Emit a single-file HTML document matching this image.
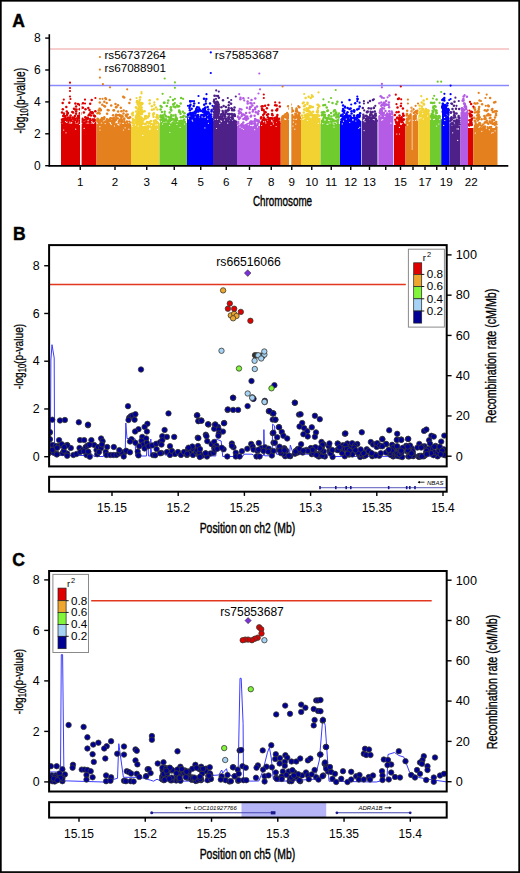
<!DOCTYPE html><html><head><meta charset="utf-8"><style>html,body{margin:0;padding:0;background:#fff;width:520px;height:873px;overflow:hidden}svg{display:block}text{font-family:"Liberation Sans",sans-serif;fill:#000}</style></head><body><svg width="520" height="873" viewBox="0 0 520 873">
<defs><clipPath id="clipB"><rect x="49.3" y="245" width="397.4" height="221.3"/></clipPath><clipPath id="clipC"><rect x="49.3" y="571" width="397.3" height="220.5"/></clipPath></defs>
<rect x="0.85" y="0.8" width="518.3" height="871.3" fill="none" stroke="#000" stroke-width="1.7"/>
<text x="12.30" y="26.50" font-size="17.5" text-anchor="start" font-weight="bold" stroke="#000" stroke-width="0.45">A</text>
<line x1="49.30" y1="49.00" x2="509.00" y2="49.00" stroke="#F4BDBD" stroke-width="1.4" />
<line x1="49.30" y1="85.50" x2="509.00" y2="85.50" stroke="#8A8AFF" stroke-width="1.4" />
<rect x="61" y="123.5" width="35.50" height="42.20" fill="#DD0000"/>
<rect x="96.5" y="124" width="34.50" height="41.70" fill="#E5801F"/>
<rect x="131" y="126" width="28.50" height="39.70" fill="#F2D232"/>
<rect x="159.5" y="123" width="27.50" height="42.70" fill="#6FCB2E"/>
<rect x="187" y="118" width="26.00" height="47.70" fill="#0000FF"/>
<rect x="213" y="121" width="24.00" height="44.70" fill="#4D2188"/>
<rect x="237" y="126" width="23.00" height="39.70" fill="#B45CE6"/>
<rect x="260" y="123" width="20.75" height="42.70" fill="#DD0000"/>
<rect x="280.75" y="120" width="20.25" height="45.70" fill="#E5801F"/>
<rect x="301" y="118" width="19.50" height="47.70" fill="#F2D232"/>
<rect x="320.5" y="124" width="19.50" height="41.70" fill="#6FCB2E"/>
<rect x="340" y="121" width="21.20" height="44.70" fill="#0000FF"/>
<rect x="361.8" y="121" width="15.70" height="44.70" fill="#4D2188"/>
<rect x="378.3" y="117" width="15.00" height="48.70" fill="#B45CE6"/>
<rect x="394" y="125" width="11.50" height="40.70" fill="#DD0000"/>
<rect x="405.5" y="121" width="12.75" height="44.70" fill="#E5801F"/>
<rect x="418.25" y="115" width="11.75" height="50.70" fill="#F2D232"/>
<rect x="430" y="120" width="11.25" height="45.70" fill="#6FCB2E"/>
<rect x="441.25" y="119" width="8.25" height="46.70" fill="#0000FF"/>
<rect x="449.5" y="126" width="11.00" height="39.70" fill="#4D2188"/>
<rect x="460.5" y="112" width="7.50" height="53.70" fill="#B45CE6"/>
<rect x="468" y="128" width="5.25" height="37.70" fill="#DD0000"/>
<rect x="473.25" y="128" width="24.25" height="37.70" fill="#E5801F"/>
<rect x="135.5" y="119" width="7.00" height="46.70" fill="#F2D232"/>
<rect x="213.5" y="109" width="5.50" height="56.70" fill="#4D2188"/>
<rect x="442.0" y="109" width="4.00" height="56.70" fill="#0000FF"/>
<circle cx="72.8" cy="122.4" r="1.25" fill="#DD0000"/>
<circle cx="83.8" cy="123.0" r="1.25" fill="#DD0000"/>
<circle cx="80.0" cy="120.4" r="1.25" fill="#DD0000"/>
<circle cx="63.9" cy="118.7" r="1.25" fill="#DD0000"/>
<circle cx="63.2" cy="119.6" r="1.25" fill="#DD0000"/>
<circle cx="64.3" cy="122.9" r="1.25" fill="#DD0000"/>
<circle cx="76.2" cy="111.5" r="1.25" fill="#DD0000"/>
<circle cx="66.1" cy="121.8" r="1.25" fill="#DD0000"/>
<circle cx="83.0" cy="103.3" r="1.25" fill="#DD0000"/>
<circle cx="81.3" cy="120.0" r="1.25" fill="#DD0000"/>
<circle cx="94.8" cy="123.2" r="1.25" fill="#DD0000"/>
<circle cx="90.8" cy="121.2" r="1.25" fill="#DD0000"/>
<circle cx="66.8" cy="122.6" r="1.25" fill="#DD0000"/>
<circle cx="72.3" cy="111.9" r="1.25" fill="#DD0000"/>
<circle cx="68.0" cy="117.5" r="1.25" fill="#DD0000"/>
<circle cx="83.4" cy="120.3" r="1.25" fill="#DD0000"/>
<circle cx="80.4" cy="123.1" r="1.25" fill="#DD0000"/>
<circle cx="63.9" cy="121.9" r="1.25" fill="#DD0000"/>
<circle cx="84.8" cy="119.7" r="1.25" fill="#DD0000"/>
<circle cx="72.5" cy="117.5" r="1.25" fill="#DD0000"/>
<circle cx="77.2" cy="121.1" r="1.25" fill="#DD0000"/>
<circle cx="88.7" cy="115.3" r="1.25" fill="#DD0000"/>
<circle cx="70.1" cy="117.7" r="1.25" fill="#DD0000"/>
<circle cx="79.6" cy="109.3" r="1.25" fill="#DD0000"/>
<circle cx="86.5" cy="121.2" r="1.25" fill="#DD0000"/>
<circle cx="94.9" cy="122.6" r="1.25" fill="#DD0000"/>
<circle cx="76.0" cy="113.8" r="1.25" fill="#DD0000"/>
<circle cx="67.0" cy="118.9" r="1.25" fill="#DD0000"/>
<circle cx="63.2" cy="116.0" r="1.25" fill="#DD0000"/>
<circle cx="87.7" cy="117.7" r="1.25" fill="#DD0000"/>
<circle cx="91.4" cy="120.9" r="1.25" fill="#DD0000"/>
<circle cx="85.3" cy="117.3" r="1.25" fill="#DD0000"/>
<circle cx="81.4" cy="119.3" r="1.25" fill="#DD0000"/>
<circle cx="90.2" cy="103.7" r="1.25" fill="#DD0000"/>
<circle cx="77.9" cy="116.0" r="1.25" fill="#DD0000"/>
<circle cx="63.9" cy="115.2" r="1.25" fill="#DD0000"/>
<circle cx="89.6" cy="121.2" r="1.25" fill="#DD0000"/>
<circle cx="74.9" cy="116.0" r="1.25" fill="#DD0000"/>
<circle cx="62.7" cy="119.3" r="1.25" fill="#DD0000"/>
<circle cx="67.6" cy="122.6" r="1.25" fill="#DD0000"/>
<circle cx="63.9" cy="113.5" r="1.25" fill="#DD0000"/>
<circle cx="66.3" cy="121.6" r="1.25" fill="#DD0000"/>
<circle cx="75.1" cy="109.5" r="1.25" fill="#DD0000"/>
<circle cx="64.6" cy="119.4" r="1.25" fill="#DD0000"/>
<circle cx="80.4" cy="108.8" r="1.25" fill="#DD0000"/>
<circle cx="89.5" cy="109.9" r="1.25" fill="#DD0000"/>
<circle cx="71.3" cy="119.8" r="1.25" fill="#DD0000"/>
<circle cx="74.0" cy="108.8" r="1.25" fill="#DD0000"/>
<circle cx="94.2" cy="122.4" r="1.25" fill="#DD0000"/>
<circle cx="67.8" cy="121.7" r="1.25" fill="#DD0000"/>
<circle cx="69.8" cy="119.0" r="1.25" fill="#DD0000"/>
<circle cx="81.8" cy="121.4" r="1.25" fill="#DD0000"/>
<circle cx="62.0" cy="119.8" r="1.25" fill="#DD0000"/>
<circle cx="74.3" cy="117.8" r="1.25" fill="#DD0000"/>
<circle cx="94.0" cy="115.5" r="1.25" fill="#DD0000"/>
<circle cx="79.3" cy="116.9" r="1.25" fill="#DD0000"/>
<circle cx="84.7" cy="123.1" r="1.25" fill="#DD0000"/>
<circle cx="92.2" cy="113.2" r="1.25" fill="#DD0000"/>
<circle cx="91.4" cy="112.6" r="1.25" fill="#DD0000"/>
<circle cx="75.1" cy="120.0" r="1.25" fill="#DD0000"/>
<circle cx="65.4" cy="116.6" r="1.25" fill="#DD0000"/>
<circle cx="64.0" cy="123.0" r="1.25" fill="#DD0000"/>
<circle cx="68.9" cy="122.3" r="1.25" fill="#DD0000"/>
<circle cx="73.4" cy="123.1" r="1.25" fill="#DD0000"/>
<circle cx="61.9" cy="122.4" r="1.25" fill="#DD0000"/>
<circle cx="65.3" cy="120.4" r="1.25" fill="#DD0000"/>
<circle cx="62.8" cy="109.3" r="1.25" fill="#DD0000"/>
<circle cx="82.6" cy="122.4" r="1.25" fill="#DD0000"/>
<circle cx="70.4" cy="120.6" r="1.25" fill="#DD0000"/>
<circle cx="74.2" cy="122.6" r="1.25" fill="#DD0000"/>
<circle cx="77.6" cy="119.0" r="1.25" fill="#DD0000"/>
<circle cx="64.8" cy="122.8" r="1.25" fill="#DD0000"/>
<circle cx="73.4" cy="121.4" r="1.25" fill="#DD0000"/>
<circle cx="89.8" cy="122.3" r="1.25" fill="#DD0000"/>
<circle cx="62.7" cy="102.9" r="1.25" fill="#DD0000"/>
<circle cx="79.7" cy="122.4" r="1.25" fill="#DD0000"/>
<circle cx="80.2" cy="123.3" r="1.25" fill="#DD0000"/>
<circle cx="91.0" cy="115.4" r="1.25" fill="#DD0000"/>
<circle cx="70.7" cy="120.4" r="1.25" fill="#DD0000"/>
<circle cx="67.5" cy="113.4" r="1.25" fill="#DD0000"/>
<circle cx="79.8" cy="113.2" r="1.25" fill="#DD0000"/>
<circle cx="73.0" cy="121.8" r="1.25" fill="#DD0000"/>
<circle cx="90.6" cy="112.3" r="1.25" fill="#DD0000"/>
<circle cx="89.5" cy="114.3" r="1.25" fill="#DD0000"/>
<circle cx="69.5" cy="118.5" r="1.25" fill="#DD0000"/>
<circle cx="73.9" cy="123.3" r="1.25" fill="#DD0000"/>
<circle cx="62.8" cy="121.3" r="1.25" fill="#DD0000"/>
<circle cx="70.6" cy="115.4" r="1.25" fill="#DD0000"/>
<circle cx="94.1" cy="119.4" r="1.25" fill="#DD0000"/>
<circle cx="94.1" cy="120.4" r="1.25" fill="#DD0000"/>
<circle cx="69.3" cy="121.7" r="1.25" fill="#DD0000"/>
<circle cx="68.5" cy="121.9" r="1.25" fill="#DD0000"/>
<circle cx="82.9" cy="107.7" r="1.25" fill="#DD0000"/>
<circle cx="90.2" cy="119.0" r="1.25" fill="#DD0000"/>
<circle cx="83.9" cy="112.5" r="1.25" fill="#DD0000"/>
<circle cx="64.8" cy="116.1" r="1.25" fill="#DD0000"/>
<circle cx="92.6" cy="113.1" r="1.25" fill="#DD0000"/>
<circle cx="87.2" cy="119.1" r="1.25" fill="#DD0000"/>
<circle cx="67.9" cy="112.9" r="1.25" fill="#DD0000"/>
<circle cx="73.1" cy="112.5" r="1.25" fill="#DD0000"/>
<circle cx="94.6" cy="120.1" r="1.25" fill="#DD0000"/>
<circle cx="75.4" cy="103.5" r="1.25" fill="#DD0000"/>
<circle cx="86.3" cy="122.2" r="1.25" fill="#DD0000"/>
<circle cx="66.2" cy="122.4" r="1.25" fill="#DD0000"/>
<circle cx="92.4" cy="112.3" r="1.25" fill="#DD0000"/>
<circle cx="66.8" cy="111.5" r="1.25" fill="#DD0000"/>
<circle cx="94.9" cy="116.2" r="1.25" fill="#DD0000"/>
<circle cx="73.7" cy="118.1" r="1.25" fill="#DD0000"/>
<circle cx="66.3" cy="123.4" r="1.25" fill="#DD0000"/>
<circle cx="94.6" cy="116.3" r="1.25" fill="#DD0000"/>
<circle cx="79.6" cy="105.0" r="1.25" fill="#DD0000"/>
<circle cx="76.5" cy="109.5" r="1.25" fill="#DD0000"/>
<circle cx="89.7" cy="121.9" r="1.25" fill="#DD0000"/>
<circle cx="70.4" cy="121.1" r="1.25" fill="#DD0000"/>
<circle cx="70.0" cy="117.5" r="1.25" fill="#DD0000"/>
<circle cx="70.6" cy="119.8" r="1.25" fill="#DD0000"/>
<circle cx="66.3" cy="107.0" r="1.25" fill="#DD0000"/>
<circle cx="73.8" cy="119.3" r="1.25" fill="#DD0000"/>
<circle cx="81.6" cy="107.5" r="1.25" fill="#DD0000"/>
<circle cx="76.1" cy="106.4" r="1.25" fill="#DD0000"/>
<circle cx="78.8" cy="118.3" r="1.25" fill="#DD0000"/>
<circle cx="79.5" cy="123.4" r="1.25" fill="#DD0000"/>
<circle cx="76.7" cy="122.1" r="1.25" fill="#DD0000"/>
<circle cx="62.0" cy="112.5" r="1.25" fill="#DD0000"/>
<circle cx="67.7" cy="119.1" r="1.25" fill="#DD0000"/>
<circle cx="86.3" cy="117.9" r="1.25" fill="#DD0000"/>
<circle cx="72.9" cy="118.5" r="1.25" fill="#DD0000"/>
<circle cx="80.6" cy="113.0" r="1.25" fill="#DD0000"/>
<circle cx="65.5" cy="117.9" r="1.25" fill="#DD0000"/>
<circle cx="70.3" cy="121.3" r="1.25" fill="#DD0000"/>
<circle cx="87.9" cy="118.7" r="1.25" fill="#DD0000"/>
<circle cx="80.8" cy="113.7" r="1.25" fill="#DD0000"/>
<circle cx="92.7" cy="119.5" r="1.25" fill="#DD0000"/>
<circle cx="82.5" cy="118.7" r="1.25" fill="#DD0000"/>
<circle cx="79.2" cy="115.4" r="1.25" fill="#DD0000"/>
<circle cx="77.1" cy="118.3" r="1.25" fill="#DD0000"/>
<circle cx="78.0" cy="104.1" r="1.25" fill="#DD0000"/>
<circle cx="85.5" cy="109.2" r="1.25" fill="#DD0000"/>
<circle cx="93.7" cy="121.4" r="1.25" fill="#DD0000"/>
<circle cx="80.8" cy="103.9" r="1.25" fill="#DD0000"/>
<circle cx="90.2" cy="122.5" r="1.25" fill="#DD0000"/>
<circle cx="66.0" cy="119.5" r="1.25" fill="#DD0000"/>
<circle cx="64.3" cy="121.6" r="1.25" fill="#DD0000"/>
<circle cx="64.4" cy="115.9" r="1.25" fill="#DD0000"/>
<circle cx="88.3" cy="108.0" r="1.25" fill="#DD0000"/>
<circle cx="67.1" cy="114.9" r="1.25" fill="#DD0000"/>
<circle cx="84.2" cy="122.4" r="1.25" fill="#DD0000"/>
<circle cx="91.7" cy="100.1" r="1.25" fill="#DD0000"/>
<circle cx="69.3" cy="102.7" r="1.25" fill="#DD0000"/>
<circle cx="75.3" cy="118.9" r="1.25" fill="#DD0000"/>
<circle cx="95.3" cy="111.3" r="1.25" fill="#DD0000"/>
<circle cx="67.3" cy="119.6" r="1.25" fill="#DD0000"/>
<circle cx="79.3" cy="120.7" r="1.25" fill="#DD0000"/>
<circle cx="68.5" cy="120.9" r="1.25" fill="#DD0000"/>
<circle cx="121.0" cy="123.8" r="1.25" fill="#E5801F"/>
<circle cx="115.5" cy="119.5" r="1.25" fill="#E5801F"/>
<circle cx="98.0" cy="120.9" r="1.25" fill="#E5801F"/>
<circle cx="117.8" cy="118.5" r="1.25" fill="#E5801F"/>
<circle cx="123.2" cy="96.7" r="1.25" fill="#E5801F"/>
<circle cx="100.8" cy="121.6" r="1.25" fill="#E5801F"/>
<circle cx="98.7" cy="112.4" r="1.25" fill="#E5801F"/>
<circle cx="106.2" cy="122.9" r="1.25" fill="#E5801F"/>
<circle cx="111.2" cy="105.4" r="1.25" fill="#E5801F"/>
<circle cx="124.2" cy="121.7" r="1.25" fill="#E5801F"/>
<circle cx="102.3" cy="104.7" r="1.25" fill="#E5801F"/>
<circle cx="116.1" cy="114.8" r="1.25" fill="#E5801F"/>
<circle cx="100.3" cy="123.5" r="1.25" fill="#E5801F"/>
<circle cx="119.9" cy="119.8" r="1.25" fill="#E5801F"/>
<circle cx="99.8" cy="102.6" r="1.25" fill="#E5801F"/>
<circle cx="118.1" cy="111.6" r="1.25" fill="#E5801F"/>
<circle cx="100.1" cy="109.1" r="1.25" fill="#E5801F"/>
<circle cx="99.6" cy="108.8" r="1.25" fill="#E5801F"/>
<circle cx="112.2" cy="120.8" r="1.25" fill="#E5801F"/>
<circle cx="115.5" cy="104.0" r="1.25" fill="#E5801F"/>
<circle cx="106.2" cy="122.9" r="1.25" fill="#E5801F"/>
<circle cx="114.6" cy="121.9" r="1.25" fill="#E5801F"/>
<circle cx="101.0" cy="122.7" r="1.25" fill="#E5801F"/>
<circle cx="99.0" cy="122.3" r="1.25" fill="#E5801F"/>
<circle cx="107.6" cy="121.2" r="1.25" fill="#E5801F"/>
<circle cx="122.2" cy="121.4" r="1.25" fill="#E5801F"/>
<circle cx="113.8" cy="122.5" r="1.25" fill="#E5801F"/>
<circle cx="108.7" cy="123.9" r="1.25" fill="#E5801F"/>
<circle cx="105.6" cy="123.9" r="1.25" fill="#E5801F"/>
<circle cx="121.4" cy="117.9" r="1.25" fill="#E5801F"/>
<circle cx="103.6" cy="119.1" r="1.25" fill="#E5801F"/>
<circle cx="128.0" cy="123.1" r="1.25" fill="#E5801F"/>
<circle cx="124.2" cy="119.7" r="1.25" fill="#E5801F"/>
<circle cx="113.6" cy="110.2" r="1.25" fill="#E5801F"/>
<circle cx="110.3" cy="118.6" r="1.25" fill="#E5801F"/>
<circle cx="108.6" cy="110.3" r="1.25" fill="#E5801F"/>
<circle cx="120.5" cy="116.3" r="1.25" fill="#E5801F"/>
<circle cx="110.6" cy="120.7" r="1.25" fill="#E5801F"/>
<circle cx="99.2" cy="122.9" r="1.25" fill="#E5801F"/>
<circle cx="99.7" cy="113.6" r="1.25" fill="#E5801F"/>
<circle cx="105.8" cy="122.6" r="1.25" fill="#E5801F"/>
<circle cx="100.2" cy="109.9" r="1.25" fill="#E5801F"/>
<circle cx="125.9" cy="115.5" r="1.25" fill="#E5801F"/>
<circle cx="106.6" cy="121.9" r="1.25" fill="#E5801F"/>
<circle cx="107.0" cy="119.3" r="1.25" fill="#E5801F"/>
<circle cx="102.6" cy="119.5" r="1.25" fill="#E5801F"/>
<circle cx="106.0" cy="99.0" r="1.25" fill="#E5801F"/>
<circle cx="129.2" cy="117.9" r="1.25" fill="#E5801F"/>
<circle cx="105.4" cy="98.2" r="1.25" fill="#E5801F"/>
<circle cx="107.5" cy="120.6" r="1.25" fill="#E5801F"/>
<circle cx="97.4" cy="120.3" r="1.25" fill="#E5801F"/>
<circle cx="112.9" cy="118.6" r="1.25" fill="#E5801F"/>
<circle cx="104.0" cy="118.6" r="1.25" fill="#E5801F"/>
<circle cx="97.6" cy="121.6" r="1.25" fill="#E5801F"/>
<circle cx="100.3" cy="120.1" r="1.25" fill="#E5801F"/>
<circle cx="98.8" cy="123.8" r="1.25" fill="#E5801F"/>
<circle cx="107.3" cy="122.0" r="1.25" fill="#E5801F"/>
<circle cx="116.5" cy="118.2" r="1.25" fill="#E5801F"/>
<circle cx="121.9" cy="115.8" r="1.25" fill="#E5801F"/>
<circle cx="120.8" cy="107.8" r="1.25" fill="#E5801F"/>
<circle cx="110.1" cy="121.0" r="1.25" fill="#E5801F"/>
<circle cx="129.6" cy="122.8" r="1.25" fill="#E5801F"/>
<circle cx="121.1" cy="116.1" r="1.25" fill="#E5801F"/>
<circle cx="98.8" cy="110.2" r="1.25" fill="#E5801F"/>
<circle cx="126.6" cy="116.4" r="1.25" fill="#E5801F"/>
<circle cx="121.4" cy="111.2" r="1.25" fill="#E5801F"/>
<circle cx="102.0" cy="118.3" r="1.25" fill="#E5801F"/>
<circle cx="113.9" cy="110.2" r="1.25" fill="#E5801F"/>
<circle cx="123.7" cy="110.6" r="1.25" fill="#E5801F"/>
<circle cx="116.5" cy="106.9" r="1.25" fill="#E5801F"/>
<circle cx="119.7" cy="114.9" r="1.25" fill="#E5801F"/>
<circle cx="104.9" cy="123.8" r="1.25" fill="#E5801F"/>
<circle cx="101.8" cy="120.6" r="1.25" fill="#E5801F"/>
<circle cx="100.8" cy="110.1" r="1.25" fill="#E5801F"/>
<circle cx="115.7" cy="116.4" r="1.25" fill="#E5801F"/>
<circle cx="117.9" cy="115.2" r="1.25" fill="#E5801F"/>
<circle cx="113.4" cy="124.0" r="1.25" fill="#E5801F"/>
<circle cx="123.5" cy="113.4" r="1.25" fill="#E5801F"/>
<circle cx="113.8" cy="118.1" r="1.25" fill="#E5801F"/>
<circle cx="119.0" cy="123.5" r="1.25" fill="#E5801F"/>
<circle cx="121.5" cy="121.8" r="1.25" fill="#E5801F"/>
<circle cx="99.8" cy="121.6" r="1.25" fill="#E5801F"/>
<circle cx="121.2" cy="122.2" r="1.25" fill="#E5801F"/>
<circle cx="113.6" cy="120.3" r="1.25" fill="#E5801F"/>
<circle cx="113.1" cy="115.2" r="1.25" fill="#E5801F"/>
<circle cx="122.5" cy="116.6" r="1.25" fill="#E5801F"/>
<circle cx="118.4" cy="123.4" r="1.25" fill="#E5801F"/>
<circle cx="102.2" cy="121.8" r="1.25" fill="#E5801F"/>
<circle cx="121.7" cy="121.2" r="1.25" fill="#E5801F"/>
<circle cx="116.0" cy="123.9" r="1.25" fill="#E5801F"/>
<circle cx="99.4" cy="121.6" r="1.25" fill="#E5801F"/>
<circle cx="119.4" cy="115.0" r="1.25" fill="#E5801F"/>
<circle cx="119.5" cy="121.4" r="1.25" fill="#E5801F"/>
<circle cx="114.3" cy="119.2" r="1.25" fill="#E5801F"/>
<circle cx="112.6" cy="123.0" r="1.25" fill="#E5801F"/>
<circle cx="126.6" cy="122.3" r="1.25" fill="#E5801F"/>
<circle cx="129.4" cy="102.9" r="1.25" fill="#E5801F"/>
<circle cx="98.0" cy="119.3" r="1.25" fill="#E5801F"/>
<circle cx="124.2" cy="97.6" r="1.25" fill="#E5801F"/>
<circle cx="112.1" cy="121.6" r="1.25" fill="#E5801F"/>
<circle cx="104.3" cy="101.7" r="1.25" fill="#E5801F"/>
<circle cx="104.3" cy="117.3" r="1.25" fill="#E5801F"/>
<circle cx="102.0" cy="118.3" r="1.25" fill="#E5801F"/>
<circle cx="128.6" cy="122.9" r="1.25" fill="#E5801F"/>
<circle cx="124.2" cy="118.6" r="1.25" fill="#E5801F"/>
<circle cx="126.4" cy="114.7" r="1.25" fill="#E5801F"/>
<circle cx="105.0" cy="106.5" r="1.25" fill="#E5801F"/>
<circle cx="113.3" cy="123.8" r="1.25" fill="#E5801F"/>
<circle cx="97.5" cy="118.8" r="1.25" fill="#E5801F"/>
<circle cx="112.1" cy="121.2" r="1.25" fill="#E5801F"/>
<circle cx="102.0" cy="120.8" r="1.25" fill="#E5801F"/>
<circle cx="107.7" cy="109.9" r="1.25" fill="#E5801F"/>
<circle cx="97.5" cy="113.3" r="1.25" fill="#E5801F"/>
<circle cx="124.8" cy="123.0" r="1.25" fill="#E5801F"/>
<circle cx="127.7" cy="114.4" r="1.25" fill="#E5801F"/>
<circle cx="126.9" cy="121.4" r="1.25" fill="#E5801F"/>
<circle cx="109.6" cy="120.2" r="1.25" fill="#E5801F"/>
<circle cx="130.1" cy="117.2" r="1.25" fill="#E5801F"/>
<circle cx="109.2" cy="119.7" r="1.25" fill="#E5801F"/>
<circle cx="106.4" cy="123.6" r="1.25" fill="#E5801F"/>
<circle cx="100.7" cy="110.2" r="1.25" fill="#E5801F"/>
<circle cx="106.7" cy="103.0" r="1.25" fill="#E5801F"/>
<circle cx="105.6" cy="121.6" r="1.25" fill="#E5801F"/>
<circle cx="114.1" cy="122.4" r="1.25" fill="#E5801F"/>
<circle cx="109.6" cy="100.0" r="1.25" fill="#E5801F"/>
<circle cx="126.3" cy="111.2" r="1.25" fill="#E5801F"/>
<circle cx="118.0" cy="105.2" r="1.25" fill="#E5801F"/>
<circle cx="128.2" cy="117.9" r="1.25" fill="#E5801F"/>
<circle cx="120.9" cy="123.6" r="1.25" fill="#E5801F"/>
<circle cx="121.3" cy="119.4" r="1.25" fill="#E5801F"/>
<circle cx="122.0" cy="116.1" r="1.25" fill="#E5801F"/>
<circle cx="106.8" cy="123.6" r="1.25" fill="#E5801F"/>
<circle cx="127.7" cy="123.0" r="1.25" fill="#E5801F"/>
<circle cx="112.8" cy="120.8" r="1.25" fill="#E5801F"/>
<circle cx="107.1" cy="113.7" r="1.25" fill="#E5801F"/>
<circle cx="129.3" cy="121.7" r="1.25" fill="#E5801F"/>
<circle cx="118.9" cy="121.3" r="1.25" fill="#E5801F"/>
<circle cx="115.6" cy="120.2" r="1.25" fill="#E5801F"/>
<circle cx="102.9" cy="122.6" r="1.25" fill="#E5801F"/>
<circle cx="104.2" cy="105.9" r="1.25" fill="#E5801F"/>
<circle cx="113.7" cy="122.1" r="1.25" fill="#E5801F"/>
<circle cx="112.1" cy="122.8" r="1.25" fill="#E5801F"/>
<circle cx="103.7" cy="123.3" r="1.25" fill="#E5801F"/>
<circle cx="108.6" cy="123.3" r="1.25" fill="#E5801F"/>
<circle cx="105.2" cy="121.7" r="1.25" fill="#E5801F"/>
<circle cx="116.0" cy="107.3" r="1.25" fill="#E5801F"/>
<circle cx="121.9" cy="119.9" r="1.25" fill="#E5801F"/>
<circle cx="110.9" cy="118.3" r="1.25" fill="#E5801F"/>
<circle cx="109.7" cy="120.8" r="1.25" fill="#E5801F"/>
<circle cx="99.4" cy="121.5" r="1.25" fill="#E5801F"/>
<circle cx="129.0" cy="123.0" r="1.25" fill="#E5801F"/>
<circle cx="145.3" cy="117.4" r="1.25" fill="#F2D232"/>
<circle cx="154.9" cy="123.9" r="1.25" fill="#F2D232"/>
<circle cx="139.1" cy="123.5" r="1.25" fill="#F2D232"/>
<circle cx="142.6" cy="120.9" r="1.25" fill="#F2D232"/>
<circle cx="157.4" cy="109.6" r="1.25" fill="#F2D232"/>
<circle cx="155.2" cy="125.8" r="1.25" fill="#F2D232"/>
<circle cx="132.8" cy="115.3" r="1.25" fill="#F2D232"/>
<circle cx="155.8" cy="120.4" r="1.25" fill="#F2D232"/>
<circle cx="147.6" cy="126.0" r="1.25" fill="#F2D232"/>
<circle cx="142.4" cy="103.3" r="1.25" fill="#F2D232"/>
<circle cx="153.9" cy="109.2" r="1.25" fill="#F2D232"/>
<circle cx="157.9" cy="123.5" r="1.25" fill="#F2D232"/>
<circle cx="134.8" cy="124.5" r="1.25" fill="#F2D232"/>
<circle cx="145.8" cy="116.1" r="1.25" fill="#F2D232"/>
<circle cx="157.0" cy="114.9" r="1.25" fill="#F2D232"/>
<circle cx="149.2" cy="113.5" r="1.25" fill="#F2D232"/>
<circle cx="144.1" cy="119.1" r="1.25" fill="#F2D232"/>
<circle cx="133.0" cy="112.8" r="1.25" fill="#F2D232"/>
<circle cx="138.1" cy="104.1" r="1.25" fill="#F2D232"/>
<circle cx="149.1" cy="122.9" r="1.25" fill="#F2D232"/>
<circle cx="135.3" cy="123.5" r="1.25" fill="#F2D232"/>
<circle cx="148.9" cy="115.6" r="1.25" fill="#F2D232"/>
<circle cx="134.9" cy="125.4" r="1.25" fill="#F2D232"/>
<circle cx="145.9" cy="118.4" r="1.25" fill="#F2D232"/>
<circle cx="142.3" cy="123.8" r="1.25" fill="#F2D232"/>
<circle cx="147.9" cy="125.9" r="1.25" fill="#F2D232"/>
<circle cx="140.0" cy="120.6" r="1.25" fill="#F2D232"/>
<circle cx="157.5" cy="117.0" r="1.25" fill="#F2D232"/>
<circle cx="155.5" cy="120.4" r="1.25" fill="#F2D232"/>
<circle cx="138.2" cy="123.5" r="1.25" fill="#F2D232"/>
<circle cx="157.5" cy="115.4" r="1.25" fill="#F2D232"/>
<circle cx="140.1" cy="125.8" r="1.25" fill="#F2D232"/>
<circle cx="145.2" cy="116.3" r="1.25" fill="#F2D232"/>
<circle cx="143.1" cy="123.4" r="1.25" fill="#F2D232"/>
<circle cx="149.7" cy="103.5" r="1.25" fill="#F2D232"/>
<circle cx="138.0" cy="125.7" r="1.25" fill="#F2D232"/>
<circle cx="140.9" cy="121.3" r="1.25" fill="#F2D232"/>
<circle cx="150.1" cy="124.1" r="1.25" fill="#F2D232"/>
<circle cx="153.2" cy="114.4" r="1.25" fill="#F2D232"/>
<circle cx="145.4" cy="124.0" r="1.25" fill="#F2D232"/>
<circle cx="157.8" cy="122.8" r="1.25" fill="#F2D232"/>
<circle cx="153.8" cy="123.7" r="1.25" fill="#F2D232"/>
<circle cx="137.8" cy="113.6" r="1.25" fill="#F2D232"/>
<circle cx="139.8" cy="99.7" r="1.25" fill="#F2D232"/>
<circle cx="145.1" cy="124.2" r="1.25" fill="#F2D232"/>
<circle cx="137.9" cy="121.3" r="1.25" fill="#F2D232"/>
<circle cx="149.7" cy="100.2" r="1.25" fill="#F2D232"/>
<circle cx="135.8" cy="121.7" r="1.25" fill="#F2D232"/>
<circle cx="135.7" cy="125.5" r="1.25" fill="#F2D232"/>
<circle cx="133.5" cy="121.7" r="1.25" fill="#F2D232"/>
<circle cx="155.9" cy="107.4" r="1.25" fill="#F2D232"/>
<circle cx="156.8" cy="122.5" r="1.25" fill="#F2D232"/>
<circle cx="136.9" cy="102.2" r="1.25" fill="#F2D232"/>
<circle cx="151.8" cy="125.7" r="1.25" fill="#F2D232"/>
<circle cx="149.6" cy="121.9" r="1.25" fill="#F2D232"/>
<circle cx="141.9" cy="122.5" r="1.25" fill="#F2D232"/>
<circle cx="136.4" cy="126.0" r="1.25" fill="#F2D232"/>
<circle cx="139.4" cy="122.2" r="1.25" fill="#F2D232"/>
<circle cx="157.4" cy="124.9" r="1.25" fill="#F2D232"/>
<circle cx="157.6" cy="124.0" r="1.25" fill="#F2D232"/>
<circle cx="141.4" cy="111.1" r="1.25" fill="#F2D232"/>
<circle cx="153.8" cy="121.1" r="1.25" fill="#F2D232"/>
<circle cx="133.2" cy="120.4" r="1.25" fill="#F2D232"/>
<circle cx="141.9" cy="104.2" r="1.25" fill="#F2D232"/>
<circle cx="137.1" cy="122.1" r="1.25" fill="#F2D232"/>
<circle cx="155.8" cy="125.7" r="1.25" fill="#F2D232"/>
<circle cx="142.9" cy="111.5" r="1.25" fill="#F2D232"/>
<circle cx="152.4" cy="125.6" r="1.25" fill="#F2D232"/>
<circle cx="132.8" cy="125.4" r="1.25" fill="#F2D232"/>
<circle cx="156.5" cy="123.4" r="1.25" fill="#F2D232"/>
<circle cx="151.9" cy="106.2" r="1.25" fill="#F2D232"/>
<circle cx="141.0" cy="123.2" r="1.25" fill="#F2D232"/>
<circle cx="157.5" cy="117.7" r="1.25" fill="#F2D232"/>
<circle cx="138.9" cy="115.1" r="1.25" fill="#F2D232"/>
<circle cx="140.4" cy="123.2" r="1.25" fill="#F2D232"/>
<circle cx="132.0" cy="113.8" r="1.25" fill="#F2D232"/>
<circle cx="156.4" cy="117.3" r="1.25" fill="#F2D232"/>
<circle cx="157.1" cy="125.8" r="1.25" fill="#F2D232"/>
<circle cx="138.1" cy="120.4" r="1.25" fill="#F2D232"/>
<circle cx="157.4" cy="99.3" r="1.25" fill="#F2D232"/>
<circle cx="142.2" cy="123.5" r="1.25" fill="#F2D232"/>
<circle cx="143.4" cy="120.1" r="1.25" fill="#F2D232"/>
<circle cx="156.7" cy="124.2" r="1.25" fill="#F2D232"/>
<circle cx="153.3" cy="114.4" r="1.25" fill="#F2D232"/>
<circle cx="153.9" cy="113.2" r="1.25" fill="#F2D232"/>
<circle cx="148.1" cy="122.6" r="1.25" fill="#F2D232"/>
<circle cx="140.4" cy="122.1" r="1.25" fill="#F2D232"/>
<circle cx="152.8" cy="125.3" r="1.25" fill="#F2D232"/>
<circle cx="137.2" cy="113.9" r="1.25" fill="#F2D232"/>
<circle cx="138.5" cy="125.4" r="1.25" fill="#F2D232"/>
<circle cx="132.8" cy="119.0" r="1.25" fill="#F2D232"/>
<circle cx="139.0" cy="125.2" r="1.25" fill="#F2D232"/>
<circle cx="134.5" cy="120.0" r="1.25" fill="#F2D232"/>
<circle cx="150.9" cy="120.9" r="1.25" fill="#F2D232"/>
<circle cx="138.2" cy="121.3" r="1.25" fill="#F2D232"/>
<circle cx="148.5" cy="116.3" r="1.25" fill="#F2D232"/>
<circle cx="151.9" cy="109.7" r="1.25" fill="#F2D232"/>
<circle cx="149.6" cy="124.9" r="1.25" fill="#F2D232"/>
<circle cx="154.4" cy="123.0" r="1.25" fill="#F2D232"/>
<circle cx="147.0" cy="122.0" r="1.25" fill="#F2D232"/>
<circle cx="151.6" cy="124.1" r="1.25" fill="#F2D232"/>
<circle cx="138.5" cy="123.6" r="1.25" fill="#F2D232"/>
<circle cx="136.0" cy="107.3" r="1.25" fill="#F2D232"/>
<circle cx="147.3" cy="122.6" r="1.25" fill="#F2D232"/>
<circle cx="145.4" cy="123.7" r="1.25" fill="#F2D232"/>
<circle cx="153.5" cy="116.8" r="1.25" fill="#F2D232"/>
<circle cx="158.4" cy="125.1" r="1.25" fill="#F2D232"/>
<circle cx="144.6" cy="111.2" r="1.25" fill="#F2D232"/>
<circle cx="154.3" cy="104.7" r="1.25" fill="#F2D232"/>
<circle cx="133.0" cy="123.0" r="1.25" fill="#F2D232"/>
<circle cx="135.1" cy="124.2" r="1.25" fill="#F2D232"/>
<circle cx="157.9" cy="118.4" r="1.25" fill="#F2D232"/>
<circle cx="156.7" cy="122.0" r="1.25" fill="#F2D232"/>
<circle cx="155.0" cy="120.8" r="1.25" fill="#F2D232"/>
<circle cx="138.8" cy="113.0" r="1.25" fill="#F2D232"/>
<circle cx="157.2" cy="125.0" r="1.25" fill="#F2D232"/>
<circle cx="147.8" cy="117.6" r="1.25" fill="#F2D232"/>
<circle cx="137.7" cy="122.0" r="1.25" fill="#F2D232"/>
<circle cx="135.7" cy="124.0" r="1.25" fill="#F2D232"/>
<circle cx="138.7" cy="118.1" r="1.25" fill="#F2D232"/>
<circle cx="149.3" cy="124.0" r="1.25" fill="#F2D232"/>
<circle cx="132.2" cy="122.6" r="1.25" fill="#F2D232"/>
<circle cx="150.0" cy="124.2" r="1.25" fill="#F2D232"/>
<circle cx="168.4" cy="121.3" r="1.25" fill="#6FCB2E"/>
<circle cx="180.8" cy="117.2" r="1.25" fill="#6FCB2E"/>
<circle cx="162.0" cy="122.2" r="1.25" fill="#6FCB2E"/>
<circle cx="170.6" cy="117.1" r="1.25" fill="#6FCB2E"/>
<circle cx="176.8" cy="122.3" r="1.25" fill="#6FCB2E"/>
<circle cx="164.6" cy="114.3" r="1.25" fill="#6FCB2E"/>
<circle cx="170.9" cy="120.6" r="1.25" fill="#6FCB2E"/>
<circle cx="168.3" cy="100.5" r="1.25" fill="#6FCB2E"/>
<circle cx="168.4" cy="116.9" r="1.25" fill="#6FCB2E"/>
<circle cx="169.6" cy="119.1" r="1.25" fill="#6FCB2E"/>
<circle cx="169.7" cy="121.4" r="1.25" fill="#6FCB2E"/>
<circle cx="179.1" cy="121.3" r="1.25" fill="#6FCB2E"/>
<circle cx="160.6" cy="106.0" r="1.25" fill="#6FCB2E"/>
<circle cx="171.3" cy="110.4" r="1.25" fill="#6FCB2E"/>
<circle cx="170.8" cy="107.3" r="1.25" fill="#6FCB2E"/>
<circle cx="172.2" cy="121.7" r="1.25" fill="#6FCB2E"/>
<circle cx="160.8" cy="117.1" r="1.25" fill="#6FCB2E"/>
<circle cx="176.9" cy="105.4" r="1.25" fill="#6FCB2E"/>
<circle cx="162.7" cy="115.9" r="1.25" fill="#6FCB2E"/>
<circle cx="169.9" cy="117.9" r="1.25" fill="#6FCB2E"/>
<circle cx="164.1" cy="120.6" r="1.25" fill="#6FCB2E"/>
<circle cx="173.8" cy="104.0" r="1.25" fill="#6FCB2E"/>
<circle cx="163.2" cy="118.1" r="1.25" fill="#6FCB2E"/>
<circle cx="181.1" cy="98.0" r="1.25" fill="#6FCB2E"/>
<circle cx="165.5" cy="122.0" r="1.25" fill="#6FCB2E"/>
<circle cx="172.8" cy="122.6" r="1.25" fill="#6FCB2E"/>
<circle cx="184.2" cy="119.4" r="1.25" fill="#6FCB2E"/>
<circle cx="183.6" cy="115.9" r="1.25" fill="#6FCB2E"/>
<circle cx="181.6" cy="121.7" r="1.25" fill="#6FCB2E"/>
<circle cx="180.6" cy="121.2" r="1.25" fill="#6FCB2E"/>
<circle cx="170.8" cy="109.3" r="1.25" fill="#6FCB2E"/>
<circle cx="181.7" cy="121.5" r="1.25" fill="#6FCB2E"/>
<circle cx="166.0" cy="119.3" r="1.25" fill="#6FCB2E"/>
<circle cx="173.7" cy="119.5" r="1.25" fill="#6FCB2E"/>
<circle cx="163.6" cy="120.9" r="1.25" fill="#6FCB2E"/>
<circle cx="179.0" cy="106.3" r="1.25" fill="#6FCB2E"/>
<circle cx="161.5" cy="116.9" r="1.25" fill="#6FCB2E"/>
<circle cx="179.9" cy="122.7" r="1.25" fill="#6FCB2E"/>
<circle cx="181.9" cy="122.1" r="1.25" fill="#6FCB2E"/>
<circle cx="175.8" cy="117.1" r="1.25" fill="#6FCB2E"/>
<circle cx="176.5" cy="120.3" r="1.25" fill="#6FCB2E"/>
<circle cx="171.2" cy="116.6" r="1.25" fill="#6FCB2E"/>
<circle cx="171.3" cy="115.1" r="1.25" fill="#6FCB2E"/>
<circle cx="171.9" cy="118.8" r="1.25" fill="#6FCB2E"/>
<circle cx="161.0" cy="115.9" r="1.25" fill="#6FCB2E"/>
<circle cx="173.0" cy="121.0" r="1.25" fill="#6FCB2E"/>
<circle cx="180.0" cy="111.9" r="1.25" fill="#6FCB2E"/>
<circle cx="172.2" cy="121.5" r="1.25" fill="#6FCB2E"/>
<circle cx="172.6" cy="122.2" r="1.25" fill="#6FCB2E"/>
<circle cx="163.7" cy="118.9" r="1.25" fill="#6FCB2E"/>
<circle cx="162.8" cy="118.7" r="1.25" fill="#6FCB2E"/>
<circle cx="173.5" cy="122.7" r="1.25" fill="#6FCB2E"/>
<circle cx="176.8" cy="122.4" r="1.25" fill="#6FCB2E"/>
<circle cx="179.3" cy="112.0" r="1.25" fill="#6FCB2E"/>
<circle cx="173.5" cy="122.6" r="1.25" fill="#6FCB2E"/>
<circle cx="173.4" cy="119.5" r="1.25" fill="#6FCB2E"/>
<circle cx="184.8" cy="121.9" r="1.25" fill="#6FCB2E"/>
<circle cx="179.2" cy="110.6" r="1.25" fill="#6FCB2E"/>
<circle cx="173.0" cy="100.0" r="1.25" fill="#6FCB2E"/>
<circle cx="183.9" cy="121.7" r="1.25" fill="#6FCB2E"/>
<circle cx="180.7" cy="103.4" r="1.25" fill="#6FCB2E"/>
<circle cx="162.1" cy="119.8" r="1.25" fill="#6FCB2E"/>
<circle cx="179.8" cy="121.7" r="1.25" fill="#6FCB2E"/>
<circle cx="183.4" cy="120.6" r="1.25" fill="#6FCB2E"/>
<circle cx="181.4" cy="121.9" r="1.25" fill="#6FCB2E"/>
<circle cx="173.3" cy="104.5" r="1.25" fill="#6FCB2E"/>
<circle cx="165.8" cy="120.8" r="1.25" fill="#6FCB2E"/>
<circle cx="173.4" cy="120.2" r="1.25" fill="#6FCB2E"/>
<circle cx="161.3" cy="121.5" r="1.25" fill="#6FCB2E"/>
<circle cx="164.5" cy="102.8" r="1.25" fill="#6FCB2E"/>
<circle cx="177.9" cy="106.4" r="1.25" fill="#6FCB2E"/>
<circle cx="164.7" cy="111.7" r="1.25" fill="#6FCB2E"/>
<circle cx="163.4" cy="117.5" r="1.25" fill="#6FCB2E"/>
<circle cx="176.8" cy="119.7" r="1.25" fill="#6FCB2E"/>
<circle cx="182.8" cy="117.1" r="1.25" fill="#6FCB2E"/>
<circle cx="175.3" cy="107.3" r="1.25" fill="#6FCB2E"/>
<circle cx="176.6" cy="119.3" r="1.25" fill="#6FCB2E"/>
<circle cx="180.9" cy="120.7" r="1.25" fill="#6FCB2E"/>
<circle cx="185.9" cy="116.7" r="1.25" fill="#6FCB2E"/>
<circle cx="169.7" cy="112.4" r="1.25" fill="#6FCB2E"/>
<circle cx="171.8" cy="121.6" r="1.25" fill="#6FCB2E"/>
<circle cx="179.5" cy="122.6" r="1.25" fill="#6FCB2E"/>
<circle cx="181.5" cy="120.9" r="1.25" fill="#6FCB2E"/>
<circle cx="175.5" cy="115.0" r="1.25" fill="#6FCB2E"/>
<circle cx="168.4" cy="123.0" r="1.25" fill="#6FCB2E"/>
<circle cx="161.3" cy="121.8" r="1.25" fill="#6FCB2E"/>
<circle cx="176.2" cy="118.8" r="1.25" fill="#6FCB2E"/>
<circle cx="173.6" cy="106.4" r="1.25" fill="#6FCB2E"/>
<circle cx="163.8" cy="121.1" r="1.25" fill="#6FCB2E"/>
<circle cx="177.2" cy="122.8" r="1.25" fill="#6FCB2E"/>
<circle cx="160.5" cy="119.8" r="1.25" fill="#6FCB2E"/>
<circle cx="163.1" cy="119.8" r="1.25" fill="#6FCB2E"/>
<circle cx="166.2" cy="116.6" r="1.25" fill="#6FCB2E"/>
<circle cx="175.5" cy="121.3" r="1.25" fill="#6FCB2E"/>
<circle cx="176.4" cy="118.3" r="1.25" fill="#6FCB2E"/>
<circle cx="163.9" cy="102.8" r="1.25" fill="#6FCB2E"/>
<circle cx="166.7" cy="121.8" r="1.25" fill="#6FCB2E"/>
<circle cx="162.9" cy="115.5" r="1.25" fill="#6FCB2E"/>
<circle cx="182.8" cy="111.8" r="1.25" fill="#6FCB2E"/>
<circle cx="170.7" cy="120.7" r="1.25" fill="#6FCB2E"/>
<circle cx="160.7" cy="115.4" r="1.25" fill="#6FCB2E"/>
<circle cx="174.9" cy="119.8" r="1.25" fill="#6FCB2E"/>
<circle cx="177.0" cy="118.7" r="1.25" fill="#6FCB2E"/>
<circle cx="184.5" cy="113.3" r="1.25" fill="#6FCB2E"/>
<circle cx="166.8" cy="105.9" r="1.25" fill="#6FCB2E"/>
<circle cx="161.5" cy="117.4" r="1.25" fill="#6FCB2E"/>
<circle cx="170.8" cy="121.0" r="1.25" fill="#6FCB2E"/>
<circle cx="161.9" cy="111.9" r="1.25" fill="#6FCB2E"/>
<circle cx="160.7" cy="117.1" r="1.25" fill="#6FCB2E"/>
<circle cx="184.6" cy="121.9" r="1.25" fill="#6FCB2E"/>
<circle cx="165.5" cy="116.1" r="1.25" fill="#6FCB2E"/>
<circle cx="173.4" cy="115.5" r="1.25" fill="#6FCB2E"/>
<circle cx="181.3" cy="121.6" r="1.25" fill="#6FCB2E"/>
<circle cx="168.4" cy="120.4" r="1.25" fill="#6FCB2E"/>
<circle cx="161.6" cy="106.9" r="1.25" fill="#6FCB2E"/>
<circle cx="180.5" cy="113.8" r="1.25" fill="#6FCB2E"/>
<circle cx="160.6" cy="109.4" r="1.25" fill="#6FCB2E"/>
<circle cx="205.9" cy="114.9" r="1.25" fill="#0000FF"/>
<circle cx="205.9" cy="115.0" r="1.25" fill="#0000FF"/>
<circle cx="193.4" cy="117.4" r="1.25" fill="#0000FF"/>
<circle cx="193.5" cy="117.8" r="1.25" fill="#0000FF"/>
<circle cx="196.0" cy="111.1" r="1.25" fill="#0000FF"/>
<circle cx="204.7" cy="108.7" r="1.25" fill="#0000FF"/>
<circle cx="205.1" cy="116.5" r="1.25" fill="#0000FF"/>
<circle cx="201.3" cy="115.1" r="1.25" fill="#0000FF"/>
<circle cx="207.0" cy="114.3" r="1.25" fill="#0000FF"/>
<circle cx="194.3" cy="112.9" r="1.25" fill="#0000FF"/>
<circle cx="211.3" cy="116.8" r="1.25" fill="#0000FF"/>
<circle cx="209.2" cy="117.9" r="1.25" fill="#0000FF"/>
<circle cx="194.2" cy="116.7" r="1.25" fill="#0000FF"/>
<circle cx="205.9" cy="103.5" r="1.25" fill="#0000FF"/>
<circle cx="206.0" cy="116.0" r="1.25" fill="#0000FF"/>
<circle cx="209.2" cy="116.0" r="1.25" fill="#0000FF"/>
<circle cx="193.7" cy="106.1" r="1.25" fill="#0000FF"/>
<circle cx="203.2" cy="112.1" r="1.25" fill="#0000FF"/>
<circle cx="204.0" cy="98.7" r="1.25" fill="#0000FF"/>
<circle cx="199.3" cy="108.8" r="1.25" fill="#0000FF"/>
<circle cx="204.8" cy="108.3" r="1.25" fill="#0000FF"/>
<circle cx="198.5" cy="111.6" r="1.25" fill="#0000FF"/>
<circle cx="201.7" cy="116.2" r="1.25" fill="#0000FF"/>
<circle cx="193.0" cy="113.1" r="1.25" fill="#0000FF"/>
<circle cx="189.8" cy="105.9" r="1.25" fill="#0000FF"/>
<circle cx="191.4" cy="117.9" r="1.25" fill="#0000FF"/>
<circle cx="190.5" cy="104.8" r="1.25" fill="#0000FF"/>
<circle cx="196.2" cy="117.2" r="1.25" fill="#0000FF"/>
<circle cx="188.6" cy="117.8" r="1.25" fill="#0000FF"/>
<circle cx="204.7" cy="113.0" r="1.25" fill="#0000FF"/>
<circle cx="204.8" cy="111.3" r="1.25" fill="#0000FF"/>
<circle cx="189.5" cy="113.5" r="1.25" fill="#0000FF"/>
<circle cx="196.7" cy="109.5" r="1.25" fill="#0000FF"/>
<circle cx="207.7" cy="106.9" r="1.25" fill="#0000FF"/>
<circle cx="189.5" cy="107.9" r="1.25" fill="#0000FF"/>
<circle cx="210.0" cy="103.6" r="1.25" fill="#0000FF"/>
<circle cx="190.5" cy="116.8" r="1.25" fill="#0000FF"/>
<circle cx="190.6" cy="117.8" r="1.25" fill="#0000FF"/>
<circle cx="208.4" cy="109.6" r="1.25" fill="#0000FF"/>
<circle cx="203.2" cy="109.3" r="1.25" fill="#0000FF"/>
<circle cx="203.2" cy="116.3" r="1.25" fill="#0000FF"/>
<circle cx="190.3" cy="117.5" r="1.25" fill="#0000FF"/>
<circle cx="206.2" cy="116.9" r="1.25" fill="#0000FF"/>
<circle cx="195.6" cy="115.2" r="1.25" fill="#0000FF"/>
<circle cx="188.4" cy="116.5" r="1.25" fill="#0000FF"/>
<circle cx="194.7" cy="111.7" r="1.25" fill="#0000FF"/>
<circle cx="196.8" cy="116.1" r="1.25" fill="#0000FF"/>
<circle cx="211.2" cy="114.5" r="1.25" fill="#0000FF"/>
<circle cx="208.5" cy="113.2" r="1.25" fill="#0000FF"/>
<circle cx="188.6" cy="115.3" r="1.25" fill="#0000FF"/>
<circle cx="198.5" cy="110.6" r="1.25" fill="#0000FF"/>
<circle cx="196.3" cy="111.9" r="1.25" fill="#0000FF"/>
<circle cx="200.9" cy="116.8" r="1.25" fill="#0000FF"/>
<circle cx="208.8" cy="117.5" r="1.25" fill="#0000FF"/>
<circle cx="207.7" cy="117.1" r="1.25" fill="#0000FF"/>
<circle cx="187.9" cy="116.9" r="1.25" fill="#0000FF"/>
<circle cx="206.3" cy="98.9" r="1.25" fill="#0000FF"/>
<circle cx="188.0" cy="114.6" r="1.25" fill="#0000FF"/>
<circle cx="199.8" cy="110.0" r="1.25" fill="#0000FF"/>
<circle cx="192.4" cy="114.6" r="1.25" fill="#0000FF"/>
<circle cx="196.3" cy="109.1" r="1.25" fill="#0000FF"/>
<circle cx="194.2" cy="103.6" r="1.25" fill="#0000FF"/>
<circle cx="194.8" cy="116.8" r="1.25" fill="#0000FF"/>
<circle cx="204.8" cy="114.6" r="1.25" fill="#0000FF"/>
<circle cx="190.6" cy="112.9" r="1.25" fill="#0000FF"/>
<circle cx="189.9" cy="110.2" r="1.25" fill="#0000FF"/>
<circle cx="204.8" cy="110.3" r="1.25" fill="#0000FF"/>
<circle cx="203.1" cy="115.8" r="1.25" fill="#0000FF"/>
<circle cx="197.6" cy="115.5" r="1.25" fill="#0000FF"/>
<circle cx="209.4" cy="117.5" r="1.25" fill="#0000FF"/>
<circle cx="209.4" cy="117.9" r="1.25" fill="#0000FF"/>
<circle cx="192.9" cy="116.5" r="1.25" fill="#0000FF"/>
<circle cx="209.7" cy="114.5" r="1.25" fill="#0000FF"/>
<circle cx="197.1" cy="107.2" r="1.25" fill="#0000FF"/>
<circle cx="193.6" cy="114.9" r="1.25" fill="#0000FF"/>
<circle cx="200.8" cy="111.0" r="1.25" fill="#0000FF"/>
<circle cx="206.1" cy="112.8" r="1.25" fill="#0000FF"/>
<circle cx="196.3" cy="116.0" r="1.25" fill="#0000FF"/>
<circle cx="191.7" cy="108.7" r="1.25" fill="#0000FF"/>
<circle cx="203.9" cy="111.2" r="1.25" fill="#0000FF"/>
<circle cx="192.0" cy="115.1" r="1.25" fill="#0000FF"/>
<circle cx="206.6" cy="113.7" r="1.25" fill="#0000FF"/>
<circle cx="191.0" cy="114.9" r="1.25" fill="#0000FF"/>
<circle cx="209.3" cy="116.6" r="1.25" fill="#0000FF"/>
<circle cx="192.5" cy="116.2" r="1.25" fill="#0000FF"/>
<circle cx="204.9" cy="108.7" r="1.25" fill="#0000FF"/>
<circle cx="191.6" cy="117.2" r="1.25" fill="#0000FF"/>
<circle cx="193.9" cy="116.0" r="1.25" fill="#0000FF"/>
<circle cx="200.5" cy="117.1" r="1.25" fill="#0000FF"/>
<circle cx="195.8" cy="117.0" r="1.25" fill="#0000FF"/>
<circle cx="211.5" cy="111.5" r="1.25" fill="#0000FF"/>
<circle cx="190.4" cy="101.6" r="1.25" fill="#0000FF"/>
<circle cx="190.4" cy="115.6" r="1.25" fill="#0000FF"/>
<circle cx="211.7" cy="110.1" r="1.25" fill="#0000FF"/>
<circle cx="205.6" cy="115.1" r="1.25" fill="#0000FF"/>
<circle cx="192.6" cy="112.9" r="1.25" fill="#0000FF"/>
<circle cx="190.5" cy="116.8" r="1.25" fill="#0000FF"/>
<circle cx="197.3" cy="117.8" r="1.25" fill="#0000FF"/>
<circle cx="197.6" cy="110.2" r="1.25" fill="#0000FF"/>
<circle cx="204.7" cy="114.5" r="1.25" fill="#0000FF"/>
<circle cx="203.2" cy="114.9" r="1.25" fill="#0000FF"/>
<circle cx="191.3" cy="113.4" r="1.25" fill="#0000FF"/>
<circle cx="197.7" cy="111.2" r="1.25" fill="#0000FF"/>
<circle cx="209.9" cy="115.2" r="1.25" fill="#0000FF"/>
<circle cx="201.8" cy="111.1" r="1.25" fill="#0000FF"/>
<circle cx="198.1" cy="116.7" r="1.25" fill="#0000FF"/>
<circle cx="205.4" cy="107.4" r="1.25" fill="#0000FF"/>
<circle cx="206.6" cy="112.0" r="1.25" fill="#0000FF"/>
<circle cx="208.5" cy="112.3" r="1.25" fill="#0000FF"/>
<circle cx="203.4" cy="115.0" r="1.25" fill="#0000FF"/>
<circle cx="195.5" cy="113.1" r="1.25" fill="#0000FF"/>
<circle cx="190.3" cy="115.3" r="1.25" fill="#0000FF"/>
<circle cx="206.8" cy="111.8" r="1.25" fill="#0000FF"/>
<circle cx="203.1" cy="116.6" r="1.25" fill="#0000FF"/>
<circle cx="198.2" cy="115.0" r="1.25" fill="#0000FF"/>
<circle cx="202.9" cy="115.4" r="1.25" fill="#0000FF"/>
<circle cx="204.2" cy="104.7" r="1.25" fill="#0000FF"/>
<circle cx="218.0" cy="113.6" r="1.25" fill="#4D2188"/>
<circle cx="231.2" cy="117.6" r="1.25" fill="#4D2188"/>
<circle cx="214.7" cy="115.5" r="1.25" fill="#4D2188"/>
<circle cx="217.5" cy="110.3" r="1.25" fill="#4D2188"/>
<circle cx="234.8" cy="115.9" r="1.25" fill="#4D2188"/>
<circle cx="216.1" cy="115.0" r="1.25" fill="#4D2188"/>
<circle cx="225.9" cy="112.2" r="1.25" fill="#4D2188"/>
<circle cx="225.3" cy="113.9" r="1.25" fill="#4D2188"/>
<circle cx="232.3" cy="115.8" r="1.25" fill="#4D2188"/>
<circle cx="223.0" cy="100.3" r="1.25" fill="#4D2188"/>
<circle cx="218.6" cy="112.9" r="1.25" fill="#4D2188"/>
<circle cx="222.6" cy="110.9" r="1.25" fill="#4D2188"/>
<circle cx="221.8" cy="120.6" r="1.25" fill="#4D2188"/>
<circle cx="220.0" cy="117.4" r="1.25" fill="#4D2188"/>
<circle cx="214.2" cy="117.2" r="1.25" fill="#4D2188"/>
<circle cx="223.2" cy="112.6" r="1.25" fill="#4D2188"/>
<circle cx="221.7" cy="118.8" r="1.25" fill="#4D2188"/>
<circle cx="218.9" cy="111.5" r="1.25" fill="#4D2188"/>
<circle cx="234.8" cy="115.8" r="1.25" fill="#4D2188"/>
<circle cx="218.8" cy="109.7" r="1.25" fill="#4D2188"/>
<circle cx="222.6" cy="119.3" r="1.25" fill="#4D2188"/>
<circle cx="216.8" cy="110.5" r="1.25" fill="#4D2188"/>
<circle cx="231.9" cy="114.0" r="1.25" fill="#4D2188"/>
<circle cx="224.3" cy="115.2" r="1.25" fill="#4D2188"/>
<circle cx="218.9" cy="97.8" r="1.25" fill="#4D2188"/>
<circle cx="221.7" cy="113.9" r="1.25" fill="#4D2188"/>
<circle cx="232.1" cy="109.1" r="1.25" fill="#4D2188"/>
<circle cx="224.3" cy="118.6" r="1.25" fill="#4D2188"/>
<circle cx="226.1" cy="120.1" r="1.25" fill="#4D2188"/>
<circle cx="232.4" cy="117.9" r="1.25" fill="#4D2188"/>
<circle cx="232.8" cy="118.8" r="1.25" fill="#4D2188"/>
<circle cx="222.3" cy="119.0" r="1.25" fill="#4D2188"/>
<circle cx="223.4" cy="119.6" r="1.25" fill="#4D2188"/>
<circle cx="214.0" cy="112.0" r="1.25" fill="#4D2188"/>
<circle cx="220.1" cy="119.0" r="1.25" fill="#4D2188"/>
<circle cx="220.6" cy="116.4" r="1.25" fill="#4D2188"/>
<circle cx="223.4" cy="113.9" r="1.25" fill="#4D2188"/>
<circle cx="228.5" cy="117.8" r="1.25" fill="#4D2188"/>
<circle cx="234.5" cy="107.5" r="1.25" fill="#4D2188"/>
<circle cx="215.2" cy="108.7" r="1.25" fill="#4D2188"/>
<circle cx="234.0" cy="110.3" r="1.25" fill="#4D2188"/>
<circle cx="217.0" cy="108.5" r="1.25" fill="#4D2188"/>
<circle cx="228.0" cy="120.9" r="1.25" fill="#4D2188"/>
<circle cx="214.2" cy="99.8" r="1.25" fill="#4D2188"/>
<circle cx="228.5" cy="119.0" r="1.25" fill="#4D2188"/>
<circle cx="216.2" cy="119.9" r="1.25" fill="#4D2188"/>
<circle cx="219.1" cy="110.5" r="1.25" fill="#4D2188"/>
<circle cx="221.6" cy="119.8" r="1.25" fill="#4D2188"/>
<circle cx="234.0" cy="110.0" r="1.25" fill="#4D2188"/>
<circle cx="217.6" cy="105.5" r="1.25" fill="#4D2188"/>
<circle cx="227.4" cy="110.4" r="1.25" fill="#4D2188"/>
<circle cx="228.7" cy="105.3" r="1.25" fill="#4D2188"/>
<circle cx="231.4" cy="108.2" r="1.25" fill="#4D2188"/>
<circle cx="218.3" cy="112.7" r="1.25" fill="#4D2188"/>
<circle cx="225.7" cy="111.5" r="1.25" fill="#4D2188"/>
<circle cx="223.6" cy="106.0" r="1.25" fill="#4D2188"/>
<circle cx="226.2" cy="118.8" r="1.25" fill="#4D2188"/>
<circle cx="219.1" cy="119.9" r="1.25" fill="#4D2188"/>
<circle cx="224.8" cy="120.6" r="1.25" fill="#4D2188"/>
<circle cx="224.3" cy="119.9" r="1.25" fill="#4D2188"/>
<circle cx="224.8" cy="116.2" r="1.25" fill="#4D2188"/>
<circle cx="225.9" cy="107.1" r="1.25" fill="#4D2188"/>
<circle cx="214.0" cy="108.1" r="1.25" fill="#4D2188"/>
<circle cx="224.3" cy="115.2" r="1.25" fill="#4D2188"/>
<circle cx="228.7" cy="108.1" r="1.25" fill="#4D2188"/>
<circle cx="222.2" cy="117.2" r="1.25" fill="#4D2188"/>
<circle cx="235.2" cy="120.5" r="1.25" fill="#4D2188"/>
<circle cx="228.0" cy="113.9" r="1.25" fill="#4D2188"/>
<circle cx="214.5" cy="114.4" r="1.25" fill="#4D2188"/>
<circle cx="229.1" cy="102.2" r="1.25" fill="#4D2188"/>
<circle cx="225.2" cy="116.4" r="1.25" fill="#4D2188"/>
<circle cx="233.8" cy="120.8" r="1.25" fill="#4D2188"/>
<circle cx="229.8" cy="114.1" r="1.25" fill="#4D2188"/>
<circle cx="221.4" cy="107.2" r="1.25" fill="#4D2188"/>
<circle cx="222.0" cy="116.5" r="1.25" fill="#4D2188"/>
<circle cx="225.6" cy="110.7" r="1.25" fill="#4D2188"/>
<circle cx="218.6" cy="117.0" r="1.25" fill="#4D2188"/>
<circle cx="223.3" cy="115.3" r="1.25" fill="#4D2188"/>
<circle cx="232.3" cy="118.6" r="1.25" fill="#4D2188"/>
<circle cx="232.3" cy="117.4" r="1.25" fill="#4D2188"/>
<circle cx="225.1" cy="118.8" r="1.25" fill="#4D2188"/>
<circle cx="228.4" cy="110.0" r="1.25" fill="#4D2188"/>
<circle cx="221.2" cy="118.3" r="1.25" fill="#4D2188"/>
<circle cx="220.5" cy="114.8" r="1.25" fill="#4D2188"/>
<circle cx="228.0" cy="110.3" r="1.25" fill="#4D2188"/>
<circle cx="214.8" cy="112.0" r="1.25" fill="#4D2188"/>
<circle cx="233.6" cy="115.5" r="1.25" fill="#4D2188"/>
<circle cx="215.0" cy="118.5" r="1.25" fill="#4D2188"/>
<circle cx="214.0" cy="119.5" r="1.25" fill="#4D2188"/>
<circle cx="234.4" cy="114.4" r="1.25" fill="#4D2188"/>
<circle cx="228.5" cy="110.1" r="1.25" fill="#4D2188"/>
<circle cx="234.1" cy="114.4" r="1.25" fill="#4D2188"/>
<circle cx="227.6" cy="114.1" r="1.25" fill="#4D2188"/>
<circle cx="229.4" cy="114.7" r="1.25" fill="#4D2188"/>
<circle cx="229.0" cy="119.3" r="1.25" fill="#4D2188"/>
<circle cx="228.7" cy="116.7" r="1.25" fill="#4D2188"/>
<circle cx="230.8" cy="120.3" r="1.25" fill="#4D2188"/>
<circle cx="217.9" cy="120.7" r="1.25" fill="#4D2188"/>
<circle cx="231.1" cy="103.8" r="1.25" fill="#4D2188"/>
<circle cx="228.5" cy="117.8" r="1.25" fill="#4D2188"/>
<circle cx="232.2" cy="110.2" r="1.25" fill="#4D2188"/>
<circle cx="226.4" cy="118.9" r="1.25" fill="#4D2188"/>
<circle cx="220.6" cy="117.2" r="1.25" fill="#4D2188"/>
<circle cx="221.0" cy="117.1" r="1.25" fill="#4D2188"/>
<circle cx="251.5" cy="103.4" r="1.25" fill="#B45CE6"/>
<circle cx="239.1" cy="119.0" r="1.25" fill="#B45CE6"/>
<circle cx="238.7" cy="124.9" r="1.25" fill="#B45CE6"/>
<circle cx="255.1" cy="118.9" r="1.25" fill="#B45CE6"/>
<circle cx="257.4" cy="121.1" r="1.25" fill="#B45CE6"/>
<circle cx="238.2" cy="121.9" r="1.25" fill="#B45CE6"/>
<circle cx="250.4" cy="102.9" r="1.25" fill="#B45CE6"/>
<circle cx="258.7" cy="120.6" r="1.25" fill="#B45CE6"/>
<circle cx="246.6" cy="125.1" r="1.25" fill="#B45CE6"/>
<circle cx="251.6" cy="124.0" r="1.25" fill="#B45CE6"/>
<circle cx="241.1" cy="125.9" r="1.25" fill="#B45CE6"/>
<circle cx="238.0" cy="116.4" r="1.25" fill="#B45CE6"/>
<circle cx="240.5" cy="97.7" r="1.25" fill="#B45CE6"/>
<circle cx="239.8" cy="109.0" r="1.25" fill="#B45CE6"/>
<circle cx="240.6" cy="125.9" r="1.25" fill="#B45CE6"/>
<circle cx="253.2" cy="123.7" r="1.25" fill="#B45CE6"/>
<circle cx="253.5" cy="124.3" r="1.25" fill="#B45CE6"/>
<circle cx="239.0" cy="113.6" r="1.25" fill="#B45CE6"/>
<circle cx="253.0" cy="109.9" r="1.25" fill="#B45CE6"/>
<circle cx="253.4" cy="125.3" r="1.25" fill="#B45CE6"/>
<circle cx="251.2" cy="115.7" r="1.25" fill="#B45CE6"/>
<circle cx="247.7" cy="103.6" r="1.25" fill="#B45CE6"/>
<circle cx="243.3" cy="98.2" r="1.25" fill="#B45CE6"/>
<circle cx="253.1" cy="125.9" r="1.25" fill="#B45CE6"/>
<circle cx="238.2" cy="117.2" r="1.25" fill="#B45CE6"/>
<circle cx="255.2" cy="125.3" r="1.25" fill="#B45CE6"/>
<circle cx="244.5" cy="115.1" r="1.25" fill="#B45CE6"/>
<circle cx="241.4" cy="109.6" r="1.25" fill="#B45CE6"/>
<circle cx="248.2" cy="125.5" r="1.25" fill="#B45CE6"/>
<circle cx="245.7" cy="118.9" r="1.25" fill="#B45CE6"/>
<circle cx="247.2" cy="116.6" r="1.25" fill="#B45CE6"/>
<circle cx="241.0" cy="112.7" r="1.25" fill="#B45CE6"/>
<circle cx="245.6" cy="117.4" r="1.25" fill="#B45CE6"/>
<circle cx="251.2" cy="121.5" r="1.25" fill="#B45CE6"/>
<circle cx="246.1" cy="113.1" r="1.25" fill="#B45CE6"/>
<circle cx="257.9" cy="113.2" r="1.25" fill="#B45CE6"/>
<circle cx="249.9" cy="123.1" r="1.25" fill="#B45CE6"/>
<circle cx="252.8" cy="111.4" r="1.25" fill="#B45CE6"/>
<circle cx="244.9" cy="118.2" r="1.25" fill="#B45CE6"/>
<circle cx="258.6" cy="111.2" r="1.25" fill="#B45CE6"/>
<circle cx="250.6" cy="122.9" r="1.25" fill="#B45CE6"/>
<circle cx="247.0" cy="107.7" r="1.25" fill="#B45CE6"/>
<circle cx="245.9" cy="116.4" r="1.25" fill="#B45CE6"/>
<circle cx="250.7" cy="107.1" r="1.25" fill="#B45CE6"/>
<circle cx="255.0" cy="123.2" r="1.25" fill="#B45CE6"/>
<circle cx="237.9" cy="123.5" r="1.25" fill="#B45CE6"/>
<circle cx="246.9" cy="118.6" r="1.25" fill="#B45CE6"/>
<circle cx="255.2" cy="107.8" r="1.25" fill="#B45CE6"/>
<circle cx="238.8" cy="111.1" r="1.25" fill="#B45CE6"/>
<circle cx="255.1" cy="109.2" r="1.25" fill="#B45CE6"/>
<circle cx="250.0" cy="123.3" r="1.25" fill="#B45CE6"/>
<circle cx="255.9" cy="112.3" r="1.25" fill="#B45CE6"/>
<circle cx="252.4" cy="105.6" r="1.25" fill="#B45CE6"/>
<circle cx="245.3" cy="125.3" r="1.25" fill="#B45CE6"/>
<circle cx="249.6" cy="112.7" r="1.25" fill="#B45CE6"/>
<circle cx="242.1" cy="114.4" r="1.25" fill="#B45CE6"/>
<circle cx="257.7" cy="123.8" r="1.25" fill="#B45CE6"/>
<circle cx="250.8" cy="116.6" r="1.25" fill="#B45CE6"/>
<circle cx="247.8" cy="124.1" r="1.25" fill="#B45CE6"/>
<circle cx="243.3" cy="114.4" r="1.25" fill="#B45CE6"/>
<circle cx="254.7" cy="120.9" r="1.25" fill="#B45CE6"/>
<circle cx="239.8" cy="112.3" r="1.25" fill="#B45CE6"/>
<circle cx="254.3" cy="123.8" r="1.25" fill="#B45CE6"/>
<circle cx="250.2" cy="107.1" r="1.25" fill="#B45CE6"/>
<circle cx="256.7" cy="119.9" r="1.25" fill="#B45CE6"/>
<circle cx="248.0" cy="118.6" r="1.25" fill="#B45CE6"/>
<circle cx="241.9" cy="124.2" r="1.25" fill="#B45CE6"/>
<circle cx="241.7" cy="115.9" r="1.25" fill="#B45CE6"/>
<circle cx="245.6" cy="119.1" r="1.25" fill="#B45CE6"/>
<circle cx="246.4" cy="119.9" r="1.25" fill="#B45CE6"/>
<circle cx="241.1" cy="125.6" r="1.25" fill="#B45CE6"/>
<circle cx="259.0" cy="122.1" r="1.25" fill="#B45CE6"/>
<circle cx="240.1" cy="117.7" r="1.25" fill="#B45CE6"/>
<circle cx="254.6" cy="124.6" r="1.25" fill="#B45CE6"/>
<circle cx="250.6" cy="122.5" r="1.25" fill="#B45CE6"/>
<circle cx="248.9" cy="125.8" r="1.25" fill="#B45CE6"/>
<circle cx="256.3" cy="120.4" r="1.25" fill="#B45CE6"/>
<circle cx="249.9" cy="123.5" r="1.25" fill="#B45CE6"/>
<circle cx="254.4" cy="121.4" r="1.25" fill="#B45CE6"/>
<circle cx="258.0" cy="113.9" r="1.25" fill="#B45CE6"/>
<circle cx="255.3" cy="98.4" r="1.25" fill="#B45CE6"/>
<circle cx="243.3" cy="125.7" r="1.25" fill="#B45CE6"/>
<circle cx="242.2" cy="124.3" r="1.25" fill="#B45CE6"/>
<circle cx="239.7" cy="125.6" r="1.25" fill="#B45CE6"/>
<circle cx="249.7" cy="109.0" r="1.25" fill="#B45CE6"/>
<circle cx="247.6" cy="101.5" r="1.25" fill="#B45CE6"/>
<circle cx="257.2" cy="125.4" r="1.25" fill="#B45CE6"/>
<circle cx="250.6" cy="121.8" r="1.25" fill="#B45CE6"/>
<circle cx="240.4" cy="99.3" r="1.25" fill="#B45CE6"/>
<circle cx="243.4" cy="119.1" r="1.25" fill="#B45CE6"/>
<circle cx="251.5" cy="99.9" r="1.25" fill="#B45CE6"/>
<circle cx="252.1" cy="121.8" r="1.25" fill="#B45CE6"/>
<circle cx="247.4" cy="124.5" r="1.25" fill="#B45CE6"/>
<circle cx="242.6" cy="125.7" r="1.25" fill="#B45CE6"/>
<circle cx="243.3" cy="122.4" r="1.25" fill="#B45CE6"/>
<circle cx="257.0" cy="106.4" r="1.25" fill="#B45CE6"/>
<circle cx="255.6" cy="125.6" r="1.25" fill="#B45CE6"/>
<circle cx="254.6" cy="115.7" r="1.25" fill="#B45CE6"/>
<circle cx="239.1" cy="124.7" r="1.25" fill="#B45CE6"/>
<circle cx="275.2" cy="105.2" r="1.25" fill="#DD0000"/>
<circle cx="273.7" cy="120.8" r="1.25" fill="#DD0000"/>
<circle cx="272.1" cy="114.0" r="1.25" fill="#DD0000"/>
<circle cx="262.9" cy="120.5" r="1.25" fill="#DD0000"/>
<circle cx="265.8" cy="122.2" r="1.25" fill="#DD0000"/>
<circle cx="270.0" cy="121.8" r="1.25" fill="#DD0000"/>
<circle cx="265.4" cy="122.0" r="1.25" fill="#DD0000"/>
<circle cx="273.7" cy="122.9" r="1.25" fill="#DD0000"/>
<circle cx="274.5" cy="121.6" r="1.25" fill="#DD0000"/>
<circle cx="261.6" cy="106.4" r="1.25" fill="#DD0000"/>
<circle cx="265.1" cy="105.8" r="1.25" fill="#DD0000"/>
<circle cx="277.3" cy="109.1" r="1.25" fill="#DD0000"/>
<circle cx="263.5" cy="119.2" r="1.25" fill="#DD0000"/>
<circle cx="262.7" cy="106.3" r="1.25" fill="#DD0000"/>
<circle cx="276.9" cy="116.7" r="1.25" fill="#DD0000"/>
<circle cx="269.5" cy="120.4" r="1.25" fill="#DD0000"/>
<circle cx="276.5" cy="118.9" r="1.25" fill="#DD0000"/>
<circle cx="272.8" cy="122.0" r="1.25" fill="#DD0000"/>
<circle cx="265.1" cy="122.6" r="1.25" fill="#DD0000"/>
<circle cx="274.4" cy="117.9" r="1.25" fill="#DD0000"/>
<circle cx="263.6" cy="110.0" r="1.25" fill="#DD0000"/>
<circle cx="265.9" cy="119.6" r="1.25" fill="#DD0000"/>
<circle cx="263.9" cy="121.0" r="1.25" fill="#DD0000"/>
<circle cx="276.8" cy="120.4" r="1.25" fill="#DD0000"/>
<circle cx="264.1" cy="118.7" r="1.25" fill="#DD0000"/>
<circle cx="266.9" cy="108.2" r="1.25" fill="#DD0000"/>
<circle cx="262.0" cy="108.7" r="1.25" fill="#DD0000"/>
<circle cx="273.6" cy="121.5" r="1.25" fill="#DD0000"/>
<circle cx="269.9" cy="120.9" r="1.25" fill="#DD0000"/>
<circle cx="265.8" cy="121.6" r="1.25" fill="#DD0000"/>
<circle cx="279.8" cy="106.6" r="1.25" fill="#DD0000"/>
<circle cx="262.7" cy="120.8" r="1.25" fill="#DD0000"/>
<circle cx="277.9" cy="122.6" r="1.25" fill="#DD0000"/>
<circle cx="274.7" cy="120.8" r="1.25" fill="#DD0000"/>
<circle cx="279.4" cy="122.9" r="1.25" fill="#DD0000"/>
<circle cx="276.2" cy="120.4" r="1.25" fill="#DD0000"/>
<circle cx="263.6" cy="123.0" r="1.25" fill="#DD0000"/>
<circle cx="276.7" cy="118.3" r="1.25" fill="#DD0000"/>
<circle cx="264.4" cy="119.4" r="1.25" fill="#DD0000"/>
<circle cx="278.2" cy="121.4" r="1.25" fill="#DD0000"/>
<circle cx="271.7" cy="122.1" r="1.25" fill="#DD0000"/>
<circle cx="264.3" cy="113.7" r="1.25" fill="#DD0000"/>
<circle cx="274.4" cy="121.6" r="1.25" fill="#DD0000"/>
<circle cx="262.4" cy="122.4" r="1.25" fill="#DD0000"/>
<circle cx="272.4" cy="118.7" r="1.25" fill="#DD0000"/>
<circle cx="266.1" cy="121.5" r="1.25" fill="#DD0000"/>
<circle cx="272.5" cy="115.2" r="1.25" fill="#DD0000"/>
<circle cx="276.3" cy="117.5" r="1.25" fill="#DD0000"/>
<circle cx="264.7" cy="122.6" r="1.25" fill="#DD0000"/>
<circle cx="274.8" cy="119.7" r="1.25" fill="#DD0000"/>
<circle cx="274.6" cy="122.6" r="1.25" fill="#DD0000"/>
<circle cx="276.3" cy="120.4" r="1.25" fill="#DD0000"/>
<circle cx="276.9" cy="110.3" r="1.25" fill="#DD0000"/>
<circle cx="270.2" cy="122.9" r="1.25" fill="#DD0000"/>
<circle cx="278.1" cy="118.9" r="1.25" fill="#DD0000"/>
<circle cx="277.4" cy="121.0" r="1.25" fill="#DD0000"/>
<circle cx="264.4" cy="111.7" r="1.25" fill="#DD0000"/>
<circle cx="267.9" cy="121.9" r="1.25" fill="#DD0000"/>
<circle cx="267.9" cy="117.3" r="1.25" fill="#DD0000"/>
<circle cx="261.0" cy="118.4" r="1.25" fill="#DD0000"/>
<circle cx="269.3" cy="118.4" r="1.25" fill="#DD0000"/>
<circle cx="263.2" cy="115.1" r="1.25" fill="#DD0000"/>
<circle cx="276.4" cy="110.3" r="1.25" fill="#DD0000"/>
<circle cx="267.0" cy="115.1" r="1.25" fill="#DD0000"/>
<circle cx="268.1" cy="114.2" r="1.25" fill="#DD0000"/>
<circle cx="262.1" cy="109.9" r="1.25" fill="#DD0000"/>
<circle cx="279.0" cy="118.7" r="1.25" fill="#DD0000"/>
<circle cx="270.6" cy="118.2" r="1.25" fill="#DD0000"/>
<circle cx="271.1" cy="122.9" r="1.25" fill="#DD0000"/>
<circle cx="279.2" cy="121.4" r="1.25" fill="#DD0000"/>
<circle cx="264.4" cy="122.3" r="1.25" fill="#DD0000"/>
<circle cx="265.6" cy="112.2" r="1.25" fill="#DD0000"/>
<circle cx="261.5" cy="122.4" r="1.25" fill="#DD0000"/>
<circle cx="274.1" cy="121.6" r="1.25" fill="#DD0000"/>
<circle cx="261.2" cy="117.2" r="1.25" fill="#DD0000"/>
<circle cx="271.8" cy="118.3" r="1.25" fill="#DD0000"/>
<circle cx="274.2" cy="122.3" r="1.25" fill="#DD0000"/>
<circle cx="277.4" cy="115.0" r="1.25" fill="#DD0000"/>
<circle cx="261.8" cy="122.2" r="1.25" fill="#DD0000"/>
<circle cx="270.3" cy="118.6" r="1.25" fill="#DD0000"/>
<circle cx="266.2" cy="122.2" r="1.25" fill="#DD0000"/>
<circle cx="268.6" cy="122.1" r="1.25" fill="#DD0000"/>
<circle cx="272.1" cy="110.5" r="1.25" fill="#DD0000"/>
<circle cx="263.7" cy="117.6" r="1.25" fill="#DD0000"/>
<circle cx="275.0" cy="121.9" r="1.25" fill="#DD0000"/>
<circle cx="276.6" cy="105.4" r="1.25" fill="#DD0000"/>
<circle cx="268.3" cy="119.5" r="1.25" fill="#DD0000"/>
<circle cx="276.8" cy="118.3" r="1.25" fill="#DD0000"/>
<circle cx="268.4" cy="105.0" r="1.25" fill="#DD0000"/>
<circle cx="275.6" cy="120.4" r="1.25" fill="#DD0000"/>
<circle cx="265.5" cy="120.4" r="1.25" fill="#DD0000"/>
<circle cx="296.5" cy="108.6" r="1.25" fill="#E5801F"/>
<circle cx="296.7" cy="111.2" r="1.25" fill="#E5801F"/>
<circle cx="282.6" cy="116.6" r="1.25" fill="#E5801F"/>
<circle cx="299.3" cy="107.3" r="1.25" fill="#E5801F"/>
<circle cx="286.2" cy="117.4" r="1.25" fill="#E5801F"/>
<circle cx="293.3" cy="117.9" r="1.25" fill="#E5801F"/>
<circle cx="291.4" cy="119.7" r="1.25" fill="#E5801F"/>
<circle cx="289.6" cy="116.7" r="1.25" fill="#E5801F"/>
<circle cx="282.0" cy="119.3" r="1.25" fill="#E5801F"/>
<circle cx="299.5" cy="113.0" r="1.25" fill="#E5801F"/>
<circle cx="298.9" cy="115.3" r="1.25" fill="#E5801F"/>
<circle cx="296.6" cy="109.9" r="1.25" fill="#E5801F"/>
<circle cx="298.0" cy="119.8" r="1.25" fill="#E5801F"/>
<circle cx="293.5" cy="118.6" r="1.25" fill="#E5801F"/>
<circle cx="294.2" cy="118.5" r="1.25" fill="#E5801F"/>
<circle cx="291.7" cy="108.0" r="1.25" fill="#E5801F"/>
<circle cx="293.1" cy="118.7" r="1.25" fill="#E5801F"/>
<circle cx="291.2" cy="117.3" r="1.25" fill="#E5801F"/>
<circle cx="299.2" cy="118.4" r="1.25" fill="#E5801F"/>
<circle cx="287.3" cy="115.1" r="1.25" fill="#E5801F"/>
<circle cx="283.9" cy="115.8" r="1.25" fill="#E5801F"/>
<circle cx="299.3" cy="116.6" r="1.25" fill="#E5801F"/>
<circle cx="286.6" cy="117.1" r="1.25" fill="#E5801F"/>
<circle cx="291.5" cy="119.3" r="1.25" fill="#E5801F"/>
<circle cx="283.9" cy="119.3" r="1.25" fill="#E5801F"/>
<circle cx="287.1" cy="117.6" r="1.25" fill="#E5801F"/>
<circle cx="287.0" cy="118.7" r="1.25" fill="#E5801F"/>
<circle cx="283.3" cy="116.3" r="1.25" fill="#E5801F"/>
<circle cx="297.1" cy="115.6" r="1.25" fill="#E5801F"/>
<circle cx="292.2" cy="115.1" r="1.25" fill="#E5801F"/>
<circle cx="285.4" cy="114.2" r="1.25" fill="#E5801F"/>
<circle cx="290.2" cy="116.3" r="1.25" fill="#E5801F"/>
<circle cx="293.0" cy="117.0" r="1.25" fill="#E5801F"/>
<circle cx="287.4" cy="118.7" r="1.25" fill="#E5801F"/>
<circle cx="285.7" cy="116.6" r="1.25" fill="#E5801F"/>
<circle cx="288.7" cy="115.9" r="1.25" fill="#E5801F"/>
<circle cx="281.9" cy="118.0" r="1.25" fill="#E5801F"/>
<circle cx="297.6" cy="118.7" r="1.25" fill="#E5801F"/>
<circle cx="291.9" cy="116.8" r="1.25" fill="#E5801F"/>
<circle cx="287.1" cy="113.1" r="1.25" fill="#E5801F"/>
<circle cx="284.6" cy="119.7" r="1.25" fill="#E5801F"/>
<circle cx="297.7" cy="117.3" r="1.25" fill="#E5801F"/>
<circle cx="282.8" cy="117.7" r="1.25" fill="#E5801F"/>
<circle cx="289.8" cy="113.8" r="1.25" fill="#E5801F"/>
<circle cx="283.7" cy="118.8" r="1.25" fill="#E5801F"/>
<circle cx="299.3" cy="113.7" r="1.25" fill="#E5801F"/>
<circle cx="284.5" cy="118.1" r="1.25" fill="#E5801F"/>
<circle cx="288.2" cy="114.8" r="1.25" fill="#E5801F"/>
<circle cx="293.0" cy="111.1" r="1.25" fill="#E5801F"/>
<circle cx="296.8" cy="116.6" r="1.25" fill="#E5801F"/>
<circle cx="295.3" cy="113.7" r="1.25" fill="#E5801F"/>
<circle cx="295.7" cy="117.0" r="1.25" fill="#E5801F"/>
<circle cx="296.1" cy="114.2" r="1.25" fill="#E5801F"/>
<circle cx="298.5" cy="119.4" r="1.25" fill="#E5801F"/>
<circle cx="297.7" cy="120.0" r="1.25" fill="#E5801F"/>
<circle cx="295.8" cy="115.9" r="1.25" fill="#E5801F"/>
<circle cx="290.8" cy="104.6" r="1.25" fill="#E5801F"/>
<circle cx="292.2" cy="117.5" r="1.25" fill="#E5801F"/>
<circle cx="296.1" cy="110.4" r="1.25" fill="#E5801F"/>
<circle cx="292.9" cy="117.8" r="1.25" fill="#E5801F"/>
<circle cx="290.0" cy="117.1" r="1.25" fill="#E5801F"/>
<circle cx="295.0" cy="118.4" r="1.25" fill="#E5801F"/>
<circle cx="288.9" cy="116.2" r="1.25" fill="#E5801F"/>
<circle cx="288.7" cy="118.2" r="1.25" fill="#E5801F"/>
<circle cx="296.2" cy="111.2" r="1.25" fill="#E5801F"/>
<circle cx="290.9" cy="117.3" r="1.25" fill="#E5801F"/>
<circle cx="285.0" cy="118.3" r="1.25" fill="#E5801F"/>
<circle cx="284.3" cy="116.0" r="1.25" fill="#E5801F"/>
<circle cx="292.4" cy="119.6" r="1.25" fill="#E5801F"/>
<circle cx="298.6" cy="118.2" r="1.25" fill="#E5801F"/>
<circle cx="297.2" cy="111.5" r="1.25" fill="#E5801F"/>
<circle cx="299.3" cy="118.9" r="1.25" fill="#E5801F"/>
<circle cx="289.5" cy="108.7" r="1.25" fill="#E5801F"/>
<circle cx="281.8" cy="119.8" r="1.25" fill="#E5801F"/>
<circle cx="292.1" cy="116.8" r="1.25" fill="#E5801F"/>
<circle cx="298.6" cy="113.1" r="1.25" fill="#E5801F"/>
<circle cx="291.2" cy="116.6" r="1.25" fill="#E5801F"/>
<circle cx="294.3" cy="117.7" r="1.25" fill="#E5801F"/>
<circle cx="288.2" cy="115.8" r="1.25" fill="#E5801F"/>
<circle cx="288.1" cy="106.2" r="1.25" fill="#E5801F"/>
<circle cx="294.1" cy="116.5" r="1.25" fill="#E5801F"/>
<circle cx="283.5" cy="117.8" r="1.25" fill="#E5801F"/>
<circle cx="289.0" cy="116.2" r="1.25" fill="#E5801F"/>
<circle cx="292.2" cy="110.1" r="1.25" fill="#E5801F"/>
<circle cx="299.4" cy="116.9" r="1.25" fill="#E5801F"/>
<circle cx="289.8" cy="115.4" r="1.25" fill="#E5801F"/>
<circle cx="300.0" cy="118.0" r="1.25" fill="#E5801F"/>
<circle cx="291.4" cy="112.1" r="1.25" fill="#E5801F"/>
<circle cx="304.9" cy="115.4" r="1.25" fill="#F2D232"/>
<circle cx="319.2" cy="106.3" r="1.25" fill="#F2D232"/>
<circle cx="311.0" cy="117.2" r="1.25" fill="#F2D232"/>
<circle cx="317.7" cy="110.2" r="1.25" fill="#F2D232"/>
<circle cx="317.6" cy="114.4" r="1.25" fill="#F2D232"/>
<circle cx="304.7" cy="115.7" r="1.25" fill="#F2D232"/>
<circle cx="311.0" cy="113.3" r="1.25" fill="#F2D232"/>
<circle cx="305.2" cy="116.7" r="1.25" fill="#F2D232"/>
<circle cx="313.1" cy="111.8" r="1.25" fill="#F2D232"/>
<circle cx="313.2" cy="117.7" r="1.25" fill="#F2D232"/>
<circle cx="309.2" cy="107.7" r="1.25" fill="#F2D232"/>
<circle cx="307.3" cy="110.2" r="1.25" fill="#F2D232"/>
<circle cx="302.0" cy="115.6" r="1.25" fill="#F2D232"/>
<circle cx="316.8" cy="112.1" r="1.25" fill="#F2D232"/>
<circle cx="313.7" cy="116.5" r="1.25" fill="#F2D232"/>
<circle cx="310.7" cy="112.6" r="1.25" fill="#F2D232"/>
<circle cx="306.6" cy="111.1" r="1.25" fill="#F2D232"/>
<circle cx="312.1" cy="114.5" r="1.25" fill="#F2D232"/>
<circle cx="304.1" cy="116.9" r="1.25" fill="#F2D232"/>
<circle cx="315.3" cy="117.2" r="1.25" fill="#F2D232"/>
<circle cx="303.7" cy="116.8" r="1.25" fill="#F2D232"/>
<circle cx="311.1" cy="106.5" r="1.25" fill="#F2D232"/>
<circle cx="312.8" cy="107.0" r="1.25" fill="#F2D232"/>
<circle cx="303.0" cy="117.9" r="1.25" fill="#F2D232"/>
<circle cx="315.5" cy="115.4" r="1.25" fill="#F2D232"/>
<circle cx="314.6" cy="115.1" r="1.25" fill="#F2D232"/>
<circle cx="304.9" cy="115.9" r="1.25" fill="#F2D232"/>
<circle cx="303.7" cy="102.4" r="1.25" fill="#F2D232"/>
<circle cx="312.2" cy="115.1" r="1.25" fill="#F2D232"/>
<circle cx="309.9" cy="114.8" r="1.25" fill="#F2D232"/>
<circle cx="302.9" cy="103.3" r="1.25" fill="#F2D232"/>
<circle cx="312.2" cy="96.6" r="1.25" fill="#F2D232"/>
<circle cx="309.7" cy="111.5" r="1.25" fill="#F2D232"/>
<circle cx="306.3" cy="117.7" r="1.25" fill="#F2D232"/>
<circle cx="318.4" cy="105.1" r="1.25" fill="#F2D232"/>
<circle cx="307.5" cy="102.7" r="1.25" fill="#F2D232"/>
<circle cx="316.3" cy="115.6" r="1.25" fill="#F2D232"/>
<circle cx="312.6" cy="96.5" r="1.25" fill="#F2D232"/>
<circle cx="310.7" cy="98.1" r="1.25" fill="#F2D232"/>
<circle cx="306.2" cy="114.7" r="1.25" fill="#F2D232"/>
<circle cx="314.6" cy="116.3" r="1.25" fill="#F2D232"/>
<circle cx="307.4" cy="104.1" r="1.25" fill="#F2D232"/>
<circle cx="310.5" cy="107.5" r="1.25" fill="#F2D232"/>
<circle cx="306.2" cy="116.7" r="1.25" fill="#F2D232"/>
<circle cx="308.2" cy="116.6" r="1.25" fill="#F2D232"/>
<circle cx="319.1" cy="115.7" r="1.25" fill="#F2D232"/>
<circle cx="311.8" cy="117.2" r="1.25" fill="#F2D232"/>
<circle cx="311.3" cy="114.8" r="1.25" fill="#F2D232"/>
<circle cx="309.0" cy="117.5" r="1.25" fill="#F2D232"/>
<circle cx="304.1" cy="106.3" r="1.25" fill="#F2D232"/>
<circle cx="308.1" cy="116.1" r="1.25" fill="#F2D232"/>
<circle cx="305.3" cy="115.8" r="1.25" fill="#F2D232"/>
<circle cx="306.1" cy="117.8" r="1.25" fill="#F2D232"/>
<circle cx="313.7" cy="115.2" r="1.25" fill="#F2D232"/>
<circle cx="304.7" cy="109.8" r="1.25" fill="#F2D232"/>
<circle cx="303.5" cy="115.9" r="1.25" fill="#F2D232"/>
<circle cx="316.7" cy="117.1" r="1.25" fill="#F2D232"/>
<circle cx="309.7" cy="105.9" r="1.25" fill="#F2D232"/>
<circle cx="316.1" cy="116.8" r="1.25" fill="#F2D232"/>
<circle cx="308.1" cy="109.5" r="1.25" fill="#F2D232"/>
<circle cx="308.6" cy="96.8" r="1.25" fill="#F2D232"/>
<circle cx="305.6" cy="97.9" r="1.25" fill="#F2D232"/>
<circle cx="310.8" cy="116.3" r="1.25" fill="#F2D232"/>
<circle cx="309.9" cy="117.1" r="1.25" fill="#F2D232"/>
<circle cx="314.4" cy="116.0" r="1.25" fill="#F2D232"/>
<circle cx="317.8" cy="112.1" r="1.25" fill="#F2D232"/>
<circle cx="308.4" cy="116.1" r="1.25" fill="#F2D232"/>
<circle cx="312.7" cy="116.4" r="1.25" fill="#F2D232"/>
<circle cx="317.3" cy="117.1" r="1.25" fill="#F2D232"/>
<circle cx="311.0" cy="112.8" r="1.25" fill="#F2D232"/>
<circle cx="306.7" cy="108.2" r="1.25" fill="#F2D232"/>
<circle cx="308.7" cy="110.9" r="1.25" fill="#F2D232"/>
<circle cx="311.9" cy="115.5" r="1.25" fill="#F2D232"/>
<circle cx="308.8" cy="117.4" r="1.25" fill="#F2D232"/>
<circle cx="305.0" cy="105.3" r="1.25" fill="#F2D232"/>
<circle cx="307.6" cy="110.8" r="1.25" fill="#F2D232"/>
<circle cx="303.8" cy="112.5" r="1.25" fill="#F2D232"/>
<circle cx="308.3" cy="113.4" r="1.25" fill="#F2D232"/>
<circle cx="307.2" cy="117.5" r="1.25" fill="#F2D232"/>
<circle cx="307.4" cy="116.3" r="1.25" fill="#F2D232"/>
<circle cx="304.1" cy="109.6" r="1.25" fill="#F2D232"/>
<circle cx="306.9" cy="114.6" r="1.25" fill="#F2D232"/>
<circle cx="318.0" cy="108.1" r="1.25" fill="#F2D232"/>
<circle cx="317.5" cy="104.8" r="1.25" fill="#F2D232"/>
<circle cx="323.7" cy="121.5" r="1.25" fill="#6FCB2E"/>
<circle cx="321.9" cy="115.3" r="1.25" fill="#6FCB2E"/>
<circle cx="333.1" cy="120.7" r="1.25" fill="#6FCB2E"/>
<circle cx="328.7" cy="115.8" r="1.25" fill="#6FCB2E"/>
<circle cx="333.8" cy="121.8" r="1.25" fill="#6FCB2E"/>
<circle cx="336.4" cy="120.7" r="1.25" fill="#6FCB2E"/>
<circle cx="332.5" cy="122.5" r="1.25" fill="#6FCB2E"/>
<circle cx="323.4" cy="105.3" r="1.25" fill="#6FCB2E"/>
<circle cx="334.4" cy="114.4" r="1.25" fill="#6FCB2E"/>
<circle cx="322.1" cy="123.7" r="1.25" fill="#6FCB2E"/>
<circle cx="324.3" cy="122.3" r="1.25" fill="#6FCB2E"/>
<circle cx="326.8" cy="120.3" r="1.25" fill="#6FCB2E"/>
<circle cx="322.1" cy="121.1" r="1.25" fill="#6FCB2E"/>
<circle cx="332.7" cy="122.5" r="1.25" fill="#6FCB2E"/>
<circle cx="336.3" cy="117.5" r="1.25" fill="#6FCB2E"/>
<circle cx="334.1" cy="121.7" r="1.25" fill="#6FCB2E"/>
<circle cx="329.1" cy="115.2" r="1.25" fill="#6FCB2E"/>
<circle cx="327.6" cy="124.0" r="1.25" fill="#6FCB2E"/>
<circle cx="336.2" cy="112.5" r="1.25" fill="#6FCB2E"/>
<circle cx="326.5" cy="123.7" r="1.25" fill="#6FCB2E"/>
<circle cx="336.5" cy="116.8" r="1.25" fill="#6FCB2E"/>
<circle cx="322.2" cy="121.9" r="1.25" fill="#6FCB2E"/>
<circle cx="323.4" cy="112.0" r="1.25" fill="#6FCB2E"/>
<circle cx="325.1" cy="105.1" r="1.25" fill="#6FCB2E"/>
<circle cx="334.7" cy="123.3" r="1.25" fill="#6FCB2E"/>
<circle cx="333.7" cy="120.2" r="1.25" fill="#6FCB2E"/>
<circle cx="334.6" cy="110.5" r="1.25" fill="#6FCB2E"/>
<circle cx="326.4" cy="123.3" r="1.25" fill="#6FCB2E"/>
<circle cx="338.2" cy="119.8" r="1.25" fill="#6FCB2E"/>
<circle cx="337.9" cy="115.0" r="1.25" fill="#6FCB2E"/>
<circle cx="334.5" cy="110.4" r="1.25" fill="#6FCB2E"/>
<circle cx="332.5" cy="119.4" r="1.25" fill="#6FCB2E"/>
<circle cx="322.4" cy="114.8" r="1.25" fill="#6FCB2E"/>
<circle cx="329.0" cy="118.5" r="1.25" fill="#6FCB2E"/>
<circle cx="337.8" cy="123.0" r="1.25" fill="#6FCB2E"/>
<circle cx="334.9" cy="123.7" r="1.25" fill="#6FCB2E"/>
<circle cx="333.8" cy="111.4" r="1.25" fill="#6FCB2E"/>
<circle cx="326.0" cy="117.9" r="1.25" fill="#6FCB2E"/>
<circle cx="338.6" cy="116.2" r="1.25" fill="#6FCB2E"/>
<circle cx="331.0" cy="121.8" r="1.25" fill="#6FCB2E"/>
<circle cx="322.5" cy="120.6" r="1.25" fill="#6FCB2E"/>
<circle cx="328.7" cy="122.3" r="1.25" fill="#6FCB2E"/>
<circle cx="326.9" cy="122.9" r="1.25" fill="#6FCB2E"/>
<circle cx="333.9" cy="115.5" r="1.25" fill="#6FCB2E"/>
<circle cx="325.6" cy="121.9" r="1.25" fill="#6FCB2E"/>
<circle cx="330.5" cy="119.5" r="1.25" fill="#6FCB2E"/>
<circle cx="338.0" cy="120.7" r="1.25" fill="#6FCB2E"/>
<circle cx="326.7" cy="107.4" r="1.25" fill="#6FCB2E"/>
<circle cx="323.9" cy="117.6" r="1.25" fill="#6FCB2E"/>
<circle cx="327.3" cy="111.0" r="1.25" fill="#6FCB2E"/>
<circle cx="331.1" cy="113.0" r="1.25" fill="#6FCB2E"/>
<circle cx="324.4" cy="115.6" r="1.25" fill="#6FCB2E"/>
<circle cx="332.0" cy="119.3" r="1.25" fill="#6FCB2E"/>
<circle cx="335.0" cy="110.4" r="1.25" fill="#6FCB2E"/>
<circle cx="323.4" cy="121.4" r="1.25" fill="#6FCB2E"/>
<circle cx="327.8" cy="122.2" r="1.25" fill="#6FCB2E"/>
<circle cx="322.5" cy="121.5" r="1.25" fill="#6FCB2E"/>
<circle cx="324.9" cy="114.7" r="1.25" fill="#6FCB2E"/>
<circle cx="329.3" cy="123.1" r="1.25" fill="#6FCB2E"/>
<circle cx="327.1" cy="119.2" r="1.25" fill="#6FCB2E"/>
<circle cx="327.8" cy="122.6" r="1.25" fill="#6FCB2E"/>
<circle cx="322.7" cy="123.9" r="1.25" fill="#6FCB2E"/>
<circle cx="339.0" cy="113.4" r="1.25" fill="#6FCB2E"/>
<circle cx="322.9" cy="114.3" r="1.25" fill="#6FCB2E"/>
<circle cx="338.7" cy="117.6" r="1.25" fill="#6FCB2E"/>
<circle cx="323.3" cy="118.9" r="1.25" fill="#6FCB2E"/>
<circle cx="329.1" cy="122.4" r="1.25" fill="#6FCB2E"/>
<circle cx="331.0" cy="123.9" r="1.25" fill="#6FCB2E"/>
<circle cx="337.7" cy="116.1" r="1.25" fill="#6FCB2E"/>
<circle cx="332.5" cy="103.0" r="1.25" fill="#6FCB2E"/>
<circle cx="333.0" cy="121.8" r="1.25" fill="#6FCB2E"/>
<circle cx="325.8" cy="122.9" r="1.25" fill="#6FCB2E"/>
<circle cx="321.9" cy="112.6" r="1.25" fill="#6FCB2E"/>
<circle cx="336.3" cy="121.3" r="1.25" fill="#6FCB2E"/>
<circle cx="324.7" cy="116.2" r="1.25" fill="#6FCB2E"/>
<circle cx="336.4" cy="104.0" r="1.25" fill="#6FCB2E"/>
<circle cx="324.4" cy="112.2" r="1.25" fill="#6FCB2E"/>
<circle cx="336.1" cy="113.6" r="1.25" fill="#6FCB2E"/>
<circle cx="327.2" cy="122.4" r="1.25" fill="#6FCB2E"/>
<circle cx="336.0" cy="121.0" r="1.25" fill="#6FCB2E"/>
<circle cx="327.9" cy="117.9" r="1.25" fill="#6FCB2E"/>
<circle cx="327.9" cy="110.4" r="1.25" fill="#6FCB2E"/>
<circle cx="325.6" cy="123.7" r="1.25" fill="#6FCB2E"/>
<circle cx="331.4" cy="116.4" r="1.25" fill="#6FCB2E"/>
<circle cx="335.9" cy="114.6" r="1.25" fill="#6FCB2E"/>
<circle cx="337.4" cy="101.8" r="1.25" fill="#6FCB2E"/>
<circle cx="330.2" cy="118.7" r="1.25" fill="#6FCB2E"/>
<circle cx="344.0" cy="118.9" r="1.25" fill="#0000FF"/>
<circle cx="352.2" cy="120.5" r="1.25" fill="#0000FF"/>
<circle cx="354.2" cy="119.9" r="1.25" fill="#0000FF"/>
<circle cx="349.5" cy="100.0" r="1.25" fill="#0000FF"/>
<circle cx="342.6" cy="120.8" r="1.25" fill="#0000FF"/>
<circle cx="349.4" cy="119.7" r="1.25" fill="#0000FF"/>
<circle cx="354.9" cy="121.0" r="1.25" fill="#0000FF"/>
<circle cx="357.2" cy="109.4" r="1.25" fill="#0000FF"/>
<circle cx="356.2" cy="117.7" r="1.25" fill="#0000FF"/>
<circle cx="346.4" cy="114.5" r="1.25" fill="#0000FF"/>
<circle cx="350.9" cy="117.7" r="1.25" fill="#0000FF"/>
<circle cx="347.5" cy="117.5" r="1.25" fill="#0000FF"/>
<circle cx="353.8" cy="110.5" r="1.25" fill="#0000FF"/>
<circle cx="358.4" cy="119.9" r="1.25" fill="#0000FF"/>
<circle cx="346.6" cy="117.5" r="1.25" fill="#0000FF"/>
<circle cx="351.8" cy="118.4" r="1.25" fill="#0000FF"/>
<circle cx="344.7" cy="120.5" r="1.25" fill="#0000FF"/>
<circle cx="347.2" cy="117.3" r="1.25" fill="#0000FF"/>
<circle cx="359.7" cy="106.6" r="1.25" fill="#0000FF"/>
<circle cx="357.7" cy="99.0" r="1.25" fill="#0000FF"/>
<circle cx="359.6" cy="115.2" r="1.25" fill="#0000FF"/>
<circle cx="356.6" cy="120.6" r="1.25" fill="#0000FF"/>
<circle cx="354.0" cy="115.4" r="1.25" fill="#0000FF"/>
<circle cx="346.7" cy="115.9" r="1.25" fill="#0000FF"/>
<circle cx="359.4" cy="117.1" r="1.25" fill="#0000FF"/>
<circle cx="353.5" cy="118.9" r="1.25" fill="#0000FF"/>
<circle cx="347.6" cy="108.0" r="1.25" fill="#0000FF"/>
<circle cx="341.4" cy="119.7" r="1.25" fill="#0000FF"/>
<circle cx="354.1" cy="117.4" r="1.25" fill="#0000FF"/>
<circle cx="342.6" cy="114.5" r="1.25" fill="#0000FF"/>
<circle cx="348.1" cy="115.8" r="1.25" fill="#0000FF"/>
<circle cx="349.0" cy="116.5" r="1.25" fill="#0000FF"/>
<circle cx="351.9" cy="118.0" r="1.25" fill="#0000FF"/>
<circle cx="343.1" cy="119.8" r="1.25" fill="#0000FF"/>
<circle cx="358.2" cy="116.2" r="1.25" fill="#0000FF"/>
<circle cx="343.1" cy="109.1" r="1.25" fill="#0000FF"/>
<circle cx="345.8" cy="120.4" r="1.25" fill="#0000FF"/>
<circle cx="351.2" cy="119.3" r="1.25" fill="#0000FF"/>
<circle cx="350.4" cy="116.2" r="1.25" fill="#0000FF"/>
<circle cx="345.3" cy="115.9" r="1.25" fill="#0000FF"/>
<circle cx="343.1" cy="116.7" r="1.25" fill="#0000FF"/>
<circle cx="352.3" cy="120.5" r="1.25" fill="#0000FF"/>
<circle cx="348.8" cy="120.5" r="1.25" fill="#0000FF"/>
<circle cx="349.4" cy="109.1" r="1.25" fill="#0000FF"/>
<circle cx="351.6" cy="113.5" r="1.25" fill="#0000FF"/>
<circle cx="355.6" cy="120.3" r="1.25" fill="#0000FF"/>
<circle cx="360.1" cy="113.3" r="1.25" fill="#0000FF"/>
<circle cx="342.9" cy="110.4" r="1.25" fill="#0000FF"/>
<circle cx="348.5" cy="119.9" r="1.25" fill="#0000FF"/>
<circle cx="359.5" cy="116.0" r="1.25" fill="#0000FF"/>
<circle cx="355.9" cy="120.1" r="1.25" fill="#0000FF"/>
<circle cx="356.0" cy="120.6" r="1.25" fill="#0000FF"/>
<circle cx="345.5" cy="118.2" r="1.25" fill="#0000FF"/>
<circle cx="341.2" cy="115.6" r="1.25" fill="#0000FF"/>
<circle cx="345.0" cy="118.9" r="1.25" fill="#0000FF"/>
<circle cx="354.6" cy="117.7" r="1.25" fill="#0000FF"/>
<circle cx="358.1" cy="115.2" r="1.25" fill="#0000FF"/>
<circle cx="357.8" cy="116.0" r="1.25" fill="#0000FF"/>
<circle cx="358.7" cy="108.7" r="1.25" fill="#0000FF"/>
<circle cx="344.2" cy="112.8" r="1.25" fill="#0000FF"/>
<circle cx="347.5" cy="112.3" r="1.25" fill="#0000FF"/>
<circle cx="354.1" cy="110.5" r="1.25" fill="#0000FF"/>
<circle cx="343.3" cy="118.2" r="1.25" fill="#0000FF"/>
<circle cx="355.2" cy="103.3" r="1.25" fill="#0000FF"/>
<circle cx="354.9" cy="120.7" r="1.25" fill="#0000FF"/>
<circle cx="352.6" cy="120.4" r="1.25" fill="#0000FF"/>
<circle cx="351.5" cy="111.3" r="1.25" fill="#0000FF"/>
<circle cx="343.1" cy="105.4" r="1.25" fill="#0000FF"/>
<circle cx="354.0" cy="119.2" r="1.25" fill="#0000FF"/>
<circle cx="344.6" cy="117.4" r="1.25" fill="#0000FF"/>
<circle cx="357.2" cy="115.8" r="1.25" fill="#0000FF"/>
<circle cx="343.1" cy="120.9" r="1.25" fill="#0000FF"/>
<circle cx="343.0" cy="111.3" r="1.25" fill="#0000FF"/>
<circle cx="344.5" cy="116.2" r="1.25" fill="#0000FF"/>
<circle cx="346.5" cy="114.0" r="1.25" fill="#0000FF"/>
<circle cx="348.3" cy="120.1" r="1.25" fill="#0000FF"/>
<circle cx="357.9" cy="116.4" r="1.25" fill="#0000FF"/>
<circle cx="354.3" cy="111.1" r="1.25" fill="#0000FF"/>
<circle cx="359.3" cy="120.9" r="1.25" fill="#0000FF"/>
<circle cx="347.5" cy="120.0" r="1.25" fill="#0000FF"/>
<circle cx="350.6" cy="108.6" r="1.25" fill="#0000FF"/>
<circle cx="356.4" cy="120.8" r="1.25" fill="#0000FF"/>
<circle cx="344.4" cy="110.8" r="1.25" fill="#0000FF"/>
<circle cx="354.1" cy="118.0" r="1.25" fill="#0000FF"/>
<circle cx="350.1" cy="120.0" r="1.25" fill="#0000FF"/>
<circle cx="357.3" cy="118.0" r="1.25" fill="#0000FF"/>
<circle cx="357.8" cy="115.3" r="1.25" fill="#0000FF"/>
<circle cx="342.4" cy="118.6" r="1.25" fill="#0000FF"/>
<circle cx="345.1" cy="107.5" r="1.25" fill="#0000FF"/>
<circle cx="352.3" cy="120.7" r="1.25" fill="#0000FF"/>
<circle cx="344.2" cy="118.3" r="1.25" fill="#0000FF"/>
<circle cx="350.0" cy="115.8" r="1.25" fill="#0000FF"/>
<circle cx="348.4" cy="118.4" r="1.25" fill="#0000FF"/>
<circle cx="341.0" cy="115.8" r="1.25" fill="#0000FF"/>
<circle cx="347.4" cy="120.9" r="1.25" fill="#0000FF"/>
<circle cx="363.3" cy="120.0" r="1.25" fill="#4D2188"/>
<circle cx="372.0" cy="119.0" r="1.25" fill="#4D2188"/>
<circle cx="366.5" cy="116.6" r="1.25" fill="#4D2188"/>
<circle cx="366.3" cy="115.7" r="1.25" fill="#4D2188"/>
<circle cx="370.0" cy="101.1" r="1.25" fill="#4D2188"/>
<circle cx="376.5" cy="120.8" r="1.25" fill="#4D2188"/>
<circle cx="370.5" cy="111.7" r="1.25" fill="#4D2188"/>
<circle cx="374.8" cy="111.6" r="1.25" fill="#4D2188"/>
<circle cx="371.5" cy="114.6" r="1.25" fill="#4D2188"/>
<circle cx="367.7" cy="118.9" r="1.25" fill="#4D2188"/>
<circle cx="373.8" cy="107.9" r="1.25" fill="#4D2188"/>
<circle cx="375.7" cy="113.8" r="1.25" fill="#4D2188"/>
<circle cx="366.9" cy="111.9" r="1.25" fill="#4D2188"/>
<circle cx="373.0" cy="116.5" r="1.25" fill="#4D2188"/>
<circle cx="371.5" cy="118.3" r="1.25" fill="#4D2188"/>
<circle cx="370.4" cy="117.7" r="1.25" fill="#4D2188"/>
<circle cx="363.5" cy="118.4" r="1.25" fill="#4D2188"/>
<circle cx="369.4" cy="118.1" r="1.25" fill="#4D2188"/>
<circle cx="366.1" cy="119.3" r="1.25" fill="#4D2188"/>
<circle cx="367.6" cy="120.1" r="1.25" fill="#4D2188"/>
<circle cx="362.8" cy="108.0" r="1.25" fill="#4D2188"/>
<circle cx="369.0" cy="117.3" r="1.25" fill="#4D2188"/>
<circle cx="370.6" cy="118.7" r="1.25" fill="#4D2188"/>
<circle cx="365.0" cy="120.6" r="1.25" fill="#4D2188"/>
<circle cx="366.9" cy="118.7" r="1.25" fill="#4D2188"/>
<circle cx="372.8" cy="115.9" r="1.25" fill="#4D2188"/>
<circle cx="375.7" cy="118.4" r="1.25" fill="#4D2188"/>
<circle cx="375.5" cy="115.5" r="1.25" fill="#4D2188"/>
<circle cx="363.8" cy="119.8" r="1.25" fill="#4D2188"/>
<circle cx="367.7" cy="111.6" r="1.25" fill="#4D2188"/>
<circle cx="368.7" cy="108.2" r="1.25" fill="#4D2188"/>
<circle cx="363.6" cy="116.8" r="1.25" fill="#4D2188"/>
<circle cx="375.2" cy="119.0" r="1.25" fill="#4D2188"/>
<circle cx="366.3" cy="120.9" r="1.25" fill="#4D2188"/>
<circle cx="365.0" cy="119.0" r="1.25" fill="#4D2188"/>
<circle cx="372.5" cy="119.4" r="1.25" fill="#4D2188"/>
<circle cx="368.3" cy="119.6" r="1.25" fill="#4D2188"/>
<circle cx="371.1" cy="108.4" r="1.25" fill="#4D2188"/>
<circle cx="371.7" cy="119.6" r="1.25" fill="#4D2188"/>
<circle cx="372.9" cy="100.1" r="1.25" fill="#4D2188"/>
<circle cx="371.1" cy="120.5" r="1.25" fill="#4D2188"/>
<circle cx="374.0" cy="107.8" r="1.25" fill="#4D2188"/>
<circle cx="367.4" cy="120.1" r="1.25" fill="#4D2188"/>
<circle cx="365.3" cy="116.1" r="1.25" fill="#4D2188"/>
<circle cx="374.9" cy="114.5" r="1.25" fill="#4D2188"/>
<circle cx="375.5" cy="119.5" r="1.25" fill="#4D2188"/>
<circle cx="367.2" cy="112.2" r="1.25" fill="#4D2188"/>
<circle cx="371.7" cy="117.7" r="1.25" fill="#4D2188"/>
<circle cx="372.1" cy="118.4" r="1.25" fill="#4D2188"/>
<circle cx="363.5" cy="117.6" r="1.25" fill="#4D2188"/>
<circle cx="363.3" cy="114.8" r="1.25" fill="#4D2188"/>
<circle cx="367.3" cy="116.7" r="1.25" fill="#4D2188"/>
<circle cx="371.0" cy="119.1" r="1.25" fill="#4D2188"/>
<circle cx="369.1" cy="120.9" r="1.25" fill="#4D2188"/>
<circle cx="375.6" cy="115.7" r="1.25" fill="#4D2188"/>
<circle cx="376.4" cy="120.6" r="1.25" fill="#4D2188"/>
<circle cx="371.2" cy="112.8" r="1.25" fill="#4D2188"/>
<circle cx="367.3" cy="120.4" r="1.25" fill="#4D2188"/>
<circle cx="364.9" cy="120.0" r="1.25" fill="#4D2188"/>
<circle cx="373.4" cy="120.4" r="1.25" fill="#4D2188"/>
<circle cx="374.0" cy="117.5" r="1.25" fill="#4D2188"/>
<circle cx="370.2" cy="115.4" r="1.25" fill="#4D2188"/>
<circle cx="370.4" cy="114.2" r="1.25" fill="#4D2188"/>
<circle cx="371.1" cy="118.5" r="1.25" fill="#4D2188"/>
<circle cx="373.0" cy="119.1" r="1.25" fill="#4D2188"/>
<circle cx="372.6" cy="111.9" r="1.25" fill="#4D2188"/>
<circle cx="373.5" cy="118.7" r="1.25" fill="#4D2188"/>
<circle cx="389.4" cy="95.5" r="1.25" fill="#B45CE6"/>
<circle cx="385.2" cy="115.2" r="1.25" fill="#B45CE6"/>
<circle cx="386.1" cy="101.0" r="1.25" fill="#B45CE6"/>
<circle cx="380.9" cy="116.9" r="1.25" fill="#B45CE6"/>
<circle cx="385.5" cy="111.0" r="1.25" fill="#B45CE6"/>
<circle cx="389.4" cy="114.4" r="1.25" fill="#B45CE6"/>
<circle cx="392.3" cy="115.5" r="1.25" fill="#B45CE6"/>
<circle cx="389.2" cy="116.5" r="1.25" fill="#B45CE6"/>
<circle cx="379.6" cy="116.2" r="1.25" fill="#B45CE6"/>
<circle cx="380.0" cy="113.1" r="1.25" fill="#B45CE6"/>
<circle cx="386.5" cy="115.9" r="1.25" fill="#B45CE6"/>
<circle cx="391.6" cy="114.4" r="1.25" fill="#B45CE6"/>
<circle cx="381.2" cy="115.9" r="1.25" fill="#B45CE6"/>
<circle cx="388.9" cy="102.6" r="1.25" fill="#B45CE6"/>
<circle cx="381.3" cy="116.8" r="1.25" fill="#B45CE6"/>
<circle cx="389.5" cy="115.4" r="1.25" fill="#B45CE6"/>
<circle cx="392.2" cy="113.1" r="1.25" fill="#B45CE6"/>
<circle cx="387.6" cy="114.6" r="1.25" fill="#B45CE6"/>
<circle cx="389.8" cy="113.5" r="1.25" fill="#B45CE6"/>
<circle cx="383.5" cy="103.8" r="1.25" fill="#B45CE6"/>
<circle cx="380.6" cy="109.5" r="1.25" fill="#B45CE6"/>
<circle cx="380.1" cy="111.1" r="1.25" fill="#B45CE6"/>
<circle cx="384.5" cy="105.7" r="1.25" fill="#B45CE6"/>
<circle cx="380.0" cy="112.3" r="1.25" fill="#B45CE6"/>
<circle cx="384.6" cy="102.7" r="1.25" fill="#B45CE6"/>
<circle cx="391.7" cy="111.4" r="1.25" fill="#B45CE6"/>
<circle cx="382.2" cy="115.4" r="1.25" fill="#B45CE6"/>
<circle cx="382.7" cy="113.8" r="1.25" fill="#B45CE6"/>
<circle cx="382.3" cy="115.7" r="1.25" fill="#B45CE6"/>
<circle cx="389.2" cy="111.2" r="1.25" fill="#B45CE6"/>
<circle cx="382.1" cy="112.2" r="1.25" fill="#B45CE6"/>
<circle cx="381.3" cy="105.7" r="1.25" fill="#B45CE6"/>
<circle cx="390.7" cy="115.2" r="1.25" fill="#B45CE6"/>
<circle cx="389.1" cy="107.2" r="1.25" fill="#B45CE6"/>
<circle cx="382.9" cy="114.7" r="1.25" fill="#B45CE6"/>
<circle cx="385.6" cy="104.4" r="1.25" fill="#B45CE6"/>
<circle cx="381.3" cy="110.5" r="1.25" fill="#B45CE6"/>
<circle cx="387.1" cy="113.6" r="1.25" fill="#B45CE6"/>
<circle cx="386.8" cy="104.8" r="1.25" fill="#B45CE6"/>
<circle cx="382.0" cy="104.8" r="1.25" fill="#B45CE6"/>
<circle cx="384.0" cy="108.4" r="1.25" fill="#B45CE6"/>
<circle cx="390.6" cy="115.9" r="1.25" fill="#B45CE6"/>
<circle cx="383.1" cy="116.9" r="1.25" fill="#B45CE6"/>
<circle cx="380.7" cy="96.2" r="1.25" fill="#B45CE6"/>
<circle cx="379.3" cy="103.3" r="1.25" fill="#B45CE6"/>
<circle cx="381.2" cy="109.5" r="1.25" fill="#B45CE6"/>
<circle cx="380.5" cy="116.0" r="1.25" fill="#B45CE6"/>
<circle cx="388.2" cy="116.5" r="1.25" fill="#B45CE6"/>
<circle cx="383.7" cy="102.8" r="1.25" fill="#B45CE6"/>
<circle cx="388.7" cy="104.9" r="1.25" fill="#B45CE6"/>
<circle cx="392.1" cy="116.8" r="1.25" fill="#B45CE6"/>
<circle cx="382.3" cy="108.1" r="1.25" fill="#B45CE6"/>
<circle cx="388.3" cy="116.8" r="1.25" fill="#B45CE6"/>
<circle cx="385.9" cy="115.5" r="1.25" fill="#B45CE6"/>
<circle cx="384.9" cy="116.4" r="1.25" fill="#B45CE6"/>
<circle cx="383.4" cy="105.1" r="1.25" fill="#B45CE6"/>
<circle cx="380.8" cy="113.2" r="1.25" fill="#B45CE6"/>
<circle cx="381.0" cy="113.8" r="1.25" fill="#B45CE6"/>
<circle cx="381.6" cy="110.4" r="1.25" fill="#B45CE6"/>
<circle cx="381.2" cy="109.4" r="1.25" fill="#B45CE6"/>
<circle cx="385.8" cy="116.3" r="1.25" fill="#B45CE6"/>
<circle cx="383.9" cy="113.1" r="1.25" fill="#B45CE6"/>
<circle cx="391.3" cy="114.6" r="1.25" fill="#B45CE6"/>
<circle cx="382.0" cy="97.6" r="1.25" fill="#B45CE6"/>
<circle cx="403.5" cy="115.4" r="1.25" fill="#DD0000"/>
<circle cx="397.5" cy="123.6" r="1.25" fill="#DD0000"/>
<circle cx="397.5" cy="124.5" r="1.25" fill="#DD0000"/>
<circle cx="395.3" cy="119.8" r="1.25" fill="#DD0000"/>
<circle cx="398.9" cy="119.0" r="1.25" fill="#DD0000"/>
<circle cx="398.4" cy="124.9" r="1.25" fill="#DD0000"/>
<circle cx="401.6" cy="117.2" r="1.25" fill="#DD0000"/>
<circle cx="400.2" cy="119.2" r="1.25" fill="#DD0000"/>
<circle cx="403.4" cy="115.7" r="1.25" fill="#DD0000"/>
<circle cx="398.8" cy="122.2" r="1.25" fill="#DD0000"/>
<circle cx="399.0" cy="98.5" r="1.25" fill="#DD0000"/>
<circle cx="398.7" cy="121.4" r="1.25" fill="#DD0000"/>
<circle cx="398.9" cy="123.9" r="1.25" fill="#DD0000"/>
<circle cx="404.6" cy="125.0" r="1.25" fill="#DD0000"/>
<circle cx="400.8" cy="105.9" r="1.25" fill="#DD0000"/>
<circle cx="397.4" cy="118.1" r="1.25" fill="#DD0000"/>
<circle cx="398.6" cy="123.0" r="1.25" fill="#DD0000"/>
<circle cx="396.8" cy="124.1" r="1.25" fill="#DD0000"/>
<circle cx="403.1" cy="113.8" r="1.25" fill="#DD0000"/>
<circle cx="403.7" cy="124.6" r="1.25" fill="#DD0000"/>
<circle cx="401.6" cy="122.1" r="1.25" fill="#DD0000"/>
<circle cx="401.2" cy="119.2" r="1.25" fill="#DD0000"/>
<circle cx="398.0" cy="98.9" r="1.25" fill="#DD0000"/>
<circle cx="394.9" cy="114.9" r="1.25" fill="#DD0000"/>
<circle cx="403.2" cy="119.8" r="1.25" fill="#DD0000"/>
<circle cx="397.2" cy="117.7" r="1.25" fill="#DD0000"/>
<circle cx="402.1" cy="121.5" r="1.25" fill="#DD0000"/>
<circle cx="401.8" cy="121.3" r="1.25" fill="#DD0000"/>
<circle cx="400.0" cy="118.0" r="1.25" fill="#DD0000"/>
<circle cx="401.5" cy="122.1" r="1.25" fill="#DD0000"/>
<circle cx="401.0" cy="119.3" r="1.25" fill="#DD0000"/>
<circle cx="397.1" cy="118.0" r="1.25" fill="#DD0000"/>
<circle cx="397.5" cy="107.4" r="1.25" fill="#DD0000"/>
<circle cx="399.5" cy="115.6" r="1.25" fill="#DD0000"/>
<circle cx="400.0" cy="120.3" r="1.25" fill="#DD0000"/>
<circle cx="397.0" cy="123.9" r="1.25" fill="#DD0000"/>
<circle cx="403.9" cy="119.5" r="1.25" fill="#DD0000"/>
<circle cx="400.0" cy="119.5" r="1.25" fill="#DD0000"/>
<circle cx="402.8" cy="123.0" r="1.25" fill="#DD0000"/>
<circle cx="396.6" cy="112.3" r="1.25" fill="#DD0000"/>
<circle cx="399.4" cy="117.5" r="1.25" fill="#DD0000"/>
<circle cx="402.9" cy="108.5" r="1.25" fill="#DD0000"/>
<circle cx="403.3" cy="124.7" r="1.25" fill="#DD0000"/>
<circle cx="398.6" cy="111.9" r="1.25" fill="#DD0000"/>
<circle cx="402.8" cy="124.0" r="1.25" fill="#DD0000"/>
<circle cx="396.4" cy="122.9" r="1.25" fill="#DD0000"/>
<circle cx="395.9" cy="121.8" r="1.25" fill="#DD0000"/>
<circle cx="402.7" cy="119.6" r="1.25" fill="#DD0000"/>
<circle cx="399.3" cy="124.3" r="1.25" fill="#DD0000"/>
<circle cx="414.0" cy="117.4" r="1.25" fill="#E5801F"/>
<circle cx="411.6" cy="111.4" r="1.25" fill="#E5801F"/>
<circle cx="414.7" cy="120.0" r="1.25" fill="#E5801F"/>
<circle cx="413.8" cy="118.3" r="1.25" fill="#E5801F"/>
<circle cx="412.1" cy="119.4" r="1.25" fill="#E5801F"/>
<circle cx="410.5" cy="118.5" r="1.25" fill="#E5801F"/>
<circle cx="410.6" cy="120.9" r="1.25" fill="#E5801F"/>
<circle cx="408.6" cy="115.9" r="1.25" fill="#E5801F"/>
<circle cx="407.0" cy="119.8" r="1.25" fill="#E5801F"/>
<circle cx="414.3" cy="119.1" r="1.25" fill="#E5801F"/>
<circle cx="409.9" cy="119.3" r="1.25" fill="#E5801F"/>
<circle cx="415.5" cy="120.4" r="1.25" fill="#E5801F"/>
<circle cx="413.4" cy="109.3" r="1.25" fill="#E5801F"/>
<circle cx="408.6" cy="117.7" r="1.25" fill="#E5801F"/>
<circle cx="415.1" cy="115.2" r="1.25" fill="#E5801F"/>
<circle cx="410.5" cy="120.7" r="1.25" fill="#E5801F"/>
<circle cx="411.2" cy="118.3" r="1.25" fill="#E5801F"/>
<circle cx="414.2" cy="118.9" r="1.25" fill="#E5801F"/>
<circle cx="410.9" cy="114.7" r="1.25" fill="#E5801F"/>
<circle cx="415.3" cy="118.4" r="1.25" fill="#E5801F"/>
<circle cx="410.6" cy="115.8" r="1.25" fill="#E5801F"/>
<circle cx="416.5" cy="119.7" r="1.25" fill="#E5801F"/>
<circle cx="417.0" cy="113.5" r="1.25" fill="#E5801F"/>
<circle cx="410.5" cy="114.4" r="1.25" fill="#E5801F"/>
<circle cx="410.0" cy="120.6" r="1.25" fill="#E5801F"/>
<circle cx="414.7" cy="118.1" r="1.25" fill="#E5801F"/>
<circle cx="412.2" cy="116.9" r="1.25" fill="#E5801F"/>
<circle cx="416.3" cy="112.5" r="1.25" fill="#E5801F"/>
<circle cx="406.7" cy="115.6" r="1.25" fill="#E5801F"/>
<circle cx="411.5" cy="117.3" r="1.25" fill="#E5801F"/>
<circle cx="415.6" cy="117.8" r="1.25" fill="#E5801F"/>
<circle cx="411.6" cy="107.7" r="1.25" fill="#E5801F"/>
<circle cx="411.2" cy="116.9" r="1.25" fill="#E5801F"/>
<circle cx="412.0" cy="110.6" r="1.25" fill="#E5801F"/>
<circle cx="413.7" cy="112.9" r="1.25" fill="#E5801F"/>
<circle cx="410.8" cy="120.8" r="1.25" fill="#E5801F"/>
<circle cx="413.8" cy="116.2" r="1.25" fill="#E5801F"/>
<circle cx="414.8" cy="112.2" r="1.25" fill="#E5801F"/>
<circle cx="407.7" cy="119.5" r="1.25" fill="#E5801F"/>
<circle cx="407.2" cy="110.8" r="1.25" fill="#E5801F"/>
<circle cx="407.5" cy="120.4" r="1.25" fill="#E5801F"/>
<circle cx="414.6" cy="116.0" r="1.25" fill="#E5801F"/>
<circle cx="407.0" cy="114.1" r="1.25" fill="#E5801F"/>
<circle cx="414.2" cy="117.0" r="1.25" fill="#E5801F"/>
<circle cx="407.0" cy="114.0" r="1.25" fill="#E5801F"/>
<circle cx="411.0" cy="115.7" r="1.25" fill="#E5801F"/>
<circle cx="417.3" cy="110.8" r="1.25" fill="#E5801F"/>
<circle cx="415.9" cy="120.1" r="1.25" fill="#E5801F"/>
<circle cx="410.1" cy="116.6" r="1.25" fill="#E5801F"/>
<circle cx="409.4" cy="119.2" r="1.25" fill="#E5801F"/>
<circle cx="409.8" cy="119.2" r="1.25" fill="#E5801F"/>
<circle cx="415.8" cy="116.1" r="1.25" fill="#E5801F"/>
<circle cx="412.0" cy="117.7" r="1.25" fill="#E5801F"/>
<circle cx="407.0" cy="118.8" r="1.25" fill="#E5801F"/>
<circle cx="415.9" cy="111.3" r="1.25" fill="#E5801F"/>
<circle cx="427.7" cy="113.4" r="1.25" fill="#F2D232"/>
<circle cx="421.2" cy="114.7" r="1.25" fill="#F2D232"/>
<circle cx="424.5" cy="112.5" r="1.25" fill="#F2D232"/>
<circle cx="423.8" cy="111.4" r="1.25" fill="#F2D232"/>
<circle cx="425.0" cy="112.6" r="1.25" fill="#F2D232"/>
<circle cx="427.1" cy="113.8" r="1.25" fill="#F2D232"/>
<circle cx="428.3" cy="110.7" r="1.25" fill="#F2D232"/>
<circle cx="419.7" cy="113.0" r="1.25" fill="#F2D232"/>
<circle cx="424.5" cy="112.2" r="1.25" fill="#F2D232"/>
<circle cx="424.8" cy="112.9" r="1.25" fill="#F2D232"/>
<circle cx="421.9" cy="106.5" r="1.25" fill="#F2D232"/>
<circle cx="422.1" cy="108.4" r="1.25" fill="#F2D232"/>
<circle cx="427.1" cy="110.2" r="1.25" fill="#F2D232"/>
<circle cx="423.7" cy="100.4" r="1.25" fill="#F2D232"/>
<circle cx="423.6" cy="103.8" r="1.25" fill="#F2D232"/>
<circle cx="419.7" cy="112.0" r="1.25" fill="#F2D232"/>
<circle cx="425.5" cy="114.7" r="1.25" fill="#F2D232"/>
<circle cx="427.7" cy="114.6" r="1.25" fill="#F2D232"/>
<circle cx="425.1" cy="113.9" r="1.25" fill="#F2D232"/>
<circle cx="428.3" cy="110.6" r="1.25" fill="#F2D232"/>
<circle cx="427.1" cy="111.3" r="1.25" fill="#F2D232"/>
<circle cx="425.9" cy="109.0" r="1.25" fill="#F2D232"/>
<circle cx="422.1" cy="113.7" r="1.25" fill="#F2D232"/>
<circle cx="427.5" cy="114.2" r="1.25" fill="#F2D232"/>
<circle cx="428.3" cy="113.8" r="1.25" fill="#F2D232"/>
<circle cx="420.2" cy="114.5" r="1.25" fill="#F2D232"/>
<circle cx="427.0" cy="98.9" r="1.25" fill="#F2D232"/>
<circle cx="423.3" cy="109.3" r="1.25" fill="#F2D232"/>
<circle cx="421.7" cy="102.4" r="1.25" fill="#F2D232"/>
<circle cx="426.0" cy="114.1" r="1.25" fill="#F2D232"/>
<circle cx="419.7" cy="108.7" r="1.25" fill="#F2D232"/>
<circle cx="419.6" cy="105.4" r="1.25" fill="#F2D232"/>
<circle cx="422.1" cy="113.6" r="1.25" fill="#F2D232"/>
<circle cx="424.9" cy="113.0" r="1.25" fill="#F2D232"/>
<circle cx="424.7" cy="114.1" r="1.25" fill="#F2D232"/>
<circle cx="428.2" cy="112.9" r="1.25" fill="#F2D232"/>
<circle cx="427.5" cy="114.1" r="1.25" fill="#F2D232"/>
<circle cx="423.0" cy="114.8" r="1.25" fill="#F2D232"/>
<circle cx="422.9" cy="109.5" r="1.25" fill="#F2D232"/>
<circle cx="421.4" cy="110.8" r="1.25" fill="#F2D232"/>
<circle cx="420.1" cy="111.7" r="1.25" fill="#F2D232"/>
<circle cx="426.4" cy="112.0" r="1.25" fill="#F2D232"/>
<circle cx="425.9" cy="114.4" r="1.25" fill="#F2D232"/>
<circle cx="427.4" cy="114.3" r="1.25" fill="#F2D232"/>
<circle cx="428.5" cy="111.0" r="1.25" fill="#F2D232"/>
<circle cx="422.0" cy="112.7" r="1.25" fill="#F2D232"/>
<circle cx="426.6" cy="111.3" r="1.25" fill="#F2D232"/>
<circle cx="428.4" cy="114.5" r="1.25" fill="#F2D232"/>
<circle cx="424.0" cy="104.4" r="1.25" fill="#F2D232"/>
<circle cx="425.1" cy="110.9" r="1.25" fill="#F2D232"/>
<circle cx="431.7" cy="119.1" r="1.25" fill="#6FCB2E"/>
<circle cx="433.5" cy="106.6" r="1.25" fill="#6FCB2E"/>
<circle cx="438.9" cy="118.5" r="1.25" fill="#6FCB2E"/>
<circle cx="439.6" cy="119.8" r="1.25" fill="#6FCB2E"/>
<circle cx="436.6" cy="99.5" r="1.25" fill="#6FCB2E"/>
<circle cx="434.2" cy="102.7" r="1.25" fill="#6FCB2E"/>
<circle cx="437.1" cy="119.7" r="1.25" fill="#6FCB2E"/>
<circle cx="434.0" cy="116.4" r="1.25" fill="#6FCB2E"/>
<circle cx="433.2" cy="111.9" r="1.25" fill="#6FCB2E"/>
<circle cx="432.6" cy="110.7" r="1.25" fill="#6FCB2E"/>
<circle cx="433.7" cy="119.6" r="1.25" fill="#6FCB2E"/>
<circle cx="436.2" cy="119.4" r="1.25" fill="#6FCB2E"/>
<circle cx="436.1" cy="110.7" r="1.25" fill="#6FCB2E"/>
<circle cx="436.5" cy="116.3" r="1.25" fill="#6FCB2E"/>
<circle cx="431.2" cy="115.7" r="1.25" fill="#6FCB2E"/>
<circle cx="431.8" cy="113.8" r="1.25" fill="#6FCB2E"/>
<circle cx="432.1" cy="114.8" r="1.25" fill="#6FCB2E"/>
<circle cx="434.2" cy="117.2" r="1.25" fill="#6FCB2E"/>
<circle cx="437.2" cy="118.9" r="1.25" fill="#6FCB2E"/>
<circle cx="432.5" cy="103.0" r="1.25" fill="#6FCB2E"/>
<circle cx="434.0" cy="108.9" r="1.25" fill="#6FCB2E"/>
<circle cx="439.2" cy="116.1" r="1.25" fill="#6FCB2E"/>
<circle cx="432.3" cy="119.4" r="1.25" fill="#6FCB2E"/>
<circle cx="439.2" cy="119.3" r="1.25" fill="#6FCB2E"/>
<circle cx="435.6" cy="115.4" r="1.25" fill="#6FCB2E"/>
<circle cx="432.0" cy="116.2" r="1.25" fill="#6FCB2E"/>
<circle cx="432.5" cy="115.4" r="1.25" fill="#6FCB2E"/>
<circle cx="435.7" cy="117.3" r="1.25" fill="#6FCB2E"/>
<circle cx="432.8" cy="116.9" r="1.25" fill="#6FCB2E"/>
<circle cx="432.8" cy="119.2" r="1.25" fill="#6FCB2E"/>
<circle cx="433.2" cy="107.7" r="1.25" fill="#6FCB2E"/>
<circle cx="435.6" cy="106.7" r="1.25" fill="#6FCB2E"/>
<circle cx="431.0" cy="102.8" r="1.25" fill="#6FCB2E"/>
<circle cx="435.5" cy="110.6" r="1.25" fill="#6FCB2E"/>
<circle cx="436.3" cy="113.0" r="1.25" fill="#6FCB2E"/>
<circle cx="433.1" cy="111.7" r="1.25" fill="#6FCB2E"/>
<circle cx="432.4" cy="118.2" r="1.25" fill="#6FCB2E"/>
<circle cx="431.2" cy="117.0" r="1.25" fill="#6FCB2E"/>
<circle cx="435.8" cy="117.9" r="1.25" fill="#6FCB2E"/>
<circle cx="439.3" cy="119.5" r="1.25" fill="#6FCB2E"/>
<circle cx="436.4" cy="118.4" r="1.25" fill="#6FCB2E"/>
<circle cx="436.5" cy="110.8" r="1.25" fill="#6FCB2E"/>
<circle cx="437.6" cy="119.6" r="1.25" fill="#6FCB2E"/>
<circle cx="433.2" cy="114.5" r="1.25" fill="#6FCB2E"/>
<circle cx="440.2" cy="119.7" r="1.25" fill="#6FCB2E"/>
<circle cx="436.7" cy="112.9" r="1.25" fill="#6FCB2E"/>
<circle cx="438.6" cy="117.5" r="1.25" fill="#6FCB2E"/>
<circle cx="438.6" cy="116.3" r="1.25" fill="#6FCB2E"/>
<circle cx="439.6" cy="119.9" r="1.25" fill="#6FCB2E"/>
<circle cx="439.8" cy="116.8" r="1.25" fill="#6FCB2E"/>
<circle cx="444.8" cy="118.5" r="1.25" fill="#0000FF"/>
<circle cx="443.7" cy="111.5" r="1.25" fill="#0000FF"/>
<circle cx="446.5" cy="118.1" r="1.25" fill="#0000FF"/>
<circle cx="444.4" cy="118.1" r="1.25" fill="#0000FF"/>
<circle cx="443.4" cy="117.6" r="1.25" fill="#0000FF"/>
<circle cx="444.3" cy="97.9" r="1.25" fill="#0000FF"/>
<circle cx="448.6" cy="110.1" r="1.25" fill="#0000FF"/>
<circle cx="445.2" cy="115.1" r="1.25" fill="#0000FF"/>
<circle cx="447.2" cy="105.5" r="1.25" fill="#0000FF"/>
<circle cx="447.0" cy="113.3" r="1.25" fill="#0000FF"/>
<circle cx="443.4" cy="113.4" r="1.25" fill="#0000FF"/>
<circle cx="447.6" cy="110.2" r="1.25" fill="#0000FF"/>
<circle cx="442.7" cy="111.8" r="1.25" fill="#0000FF"/>
<circle cx="444.4" cy="118.0" r="1.25" fill="#0000FF"/>
<circle cx="448.4" cy="112.7" r="1.25" fill="#0000FF"/>
<circle cx="447.0" cy="118.2" r="1.25" fill="#0000FF"/>
<circle cx="447.5" cy="103.3" r="1.25" fill="#0000FF"/>
<circle cx="448.0" cy="111.3" r="1.25" fill="#0000FF"/>
<circle cx="447.5" cy="109.8" r="1.25" fill="#0000FF"/>
<circle cx="446.0" cy="115.8" r="1.25" fill="#0000FF"/>
<circle cx="447.5" cy="110.3" r="1.25" fill="#0000FF"/>
<circle cx="447.8" cy="117.0" r="1.25" fill="#0000FF"/>
<circle cx="448.3" cy="114.7" r="1.25" fill="#0000FF"/>
<circle cx="448.3" cy="118.3" r="1.25" fill="#0000FF"/>
<circle cx="448.4" cy="110.2" r="1.25" fill="#0000FF"/>
<circle cx="443.8" cy="108.7" r="1.25" fill="#0000FF"/>
<circle cx="443.6" cy="117.7" r="1.25" fill="#0000FF"/>
<circle cx="445.1" cy="117.5" r="1.25" fill="#0000FF"/>
<circle cx="445.3" cy="105.5" r="1.25" fill="#0000FF"/>
<circle cx="446.6" cy="112.0" r="1.25" fill="#0000FF"/>
<circle cx="444.7" cy="110.3" r="1.25" fill="#0000FF"/>
<circle cx="447.3" cy="112.5" r="1.25" fill="#0000FF"/>
<circle cx="448.2" cy="109.1" r="1.25" fill="#0000FF"/>
<circle cx="444.8" cy="118.5" r="1.25" fill="#0000FF"/>
<circle cx="446.4" cy="108.7" r="1.25" fill="#0000FF"/>
<circle cx="444.3" cy="113.9" r="1.25" fill="#0000FF"/>
<circle cx="447.5" cy="110.1" r="1.25" fill="#0000FF"/>
<circle cx="450.4" cy="120.9" r="1.25" fill="#4D2188"/>
<circle cx="450.6" cy="125.1" r="1.25" fill="#4D2188"/>
<circle cx="457.9" cy="121.8" r="1.25" fill="#4D2188"/>
<circle cx="456.0" cy="121.3" r="1.25" fill="#4D2188"/>
<circle cx="453.5" cy="124.2" r="1.25" fill="#4D2188"/>
<circle cx="453.7" cy="111.7" r="1.25" fill="#4D2188"/>
<circle cx="456.1" cy="123.4" r="1.25" fill="#4D2188"/>
<circle cx="451.2" cy="123.6" r="1.25" fill="#4D2188"/>
<circle cx="456.9" cy="121.5" r="1.25" fill="#4D2188"/>
<circle cx="456.5" cy="113.4" r="1.25" fill="#4D2188"/>
<circle cx="451.5" cy="117.2" r="1.25" fill="#4D2188"/>
<circle cx="450.8" cy="112.7" r="1.25" fill="#4D2188"/>
<circle cx="452.1" cy="123.6" r="1.25" fill="#4D2188"/>
<circle cx="459.2" cy="122.5" r="1.25" fill="#4D2188"/>
<circle cx="452.5" cy="109.1" r="1.25" fill="#4D2188"/>
<circle cx="456.0" cy="108.8" r="1.25" fill="#4D2188"/>
<circle cx="454.0" cy="120.7" r="1.25" fill="#4D2188"/>
<circle cx="459.2" cy="120.6" r="1.25" fill="#4D2188"/>
<circle cx="459.5" cy="124.4" r="1.25" fill="#4D2188"/>
<circle cx="458.0" cy="124.6" r="1.25" fill="#4D2188"/>
<circle cx="455.3" cy="126.0" r="1.25" fill="#4D2188"/>
<circle cx="452.0" cy="103.8" r="1.25" fill="#4D2188"/>
<circle cx="454.6" cy="113.3" r="1.25" fill="#4D2188"/>
<circle cx="452.7" cy="122.7" r="1.25" fill="#4D2188"/>
<circle cx="451.3" cy="119.8" r="1.25" fill="#4D2188"/>
<circle cx="458.3" cy="120.5" r="1.25" fill="#4D2188"/>
<circle cx="453.9" cy="105.8" r="1.25" fill="#4D2188"/>
<circle cx="458.6" cy="117.6" r="1.25" fill="#4D2188"/>
<circle cx="451.1" cy="118.5" r="1.25" fill="#4D2188"/>
<circle cx="454.5" cy="101.7" r="1.25" fill="#4D2188"/>
<circle cx="453.7" cy="117.7" r="1.25" fill="#4D2188"/>
<circle cx="456.2" cy="122.4" r="1.25" fill="#4D2188"/>
<circle cx="455.2" cy="117.3" r="1.25" fill="#4D2188"/>
<circle cx="458.7" cy="120.7" r="1.25" fill="#4D2188"/>
<circle cx="450.9" cy="112.2" r="1.25" fill="#4D2188"/>
<circle cx="456.7" cy="119.8" r="1.25" fill="#4D2188"/>
<circle cx="454.5" cy="115.3" r="1.25" fill="#4D2188"/>
<circle cx="458.6" cy="116.0" r="1.25" fill="#4D2188"/>
<circle cx="457.3" cy="125.7" r="1.25" fill="#4D2188"/>
<circle cx="453.4" cy="124.9" r="1.25" fill="#4D2188"/>
<circle cx="459.2" cy="109.0" r="1.25" fill="#4D2188"/>
<circle cx="451.7" cy="119.2" r="1.25" fill="#4D2188"/>
<circle cx="455.7" cy="125.6" r="1.25" fill="#4D2188"/>
<circle cx="454.0" cy="115.5" r="1.25" fill="#4D2188"/>
<circle cx="456.3" cy="123.5" r="1.25" fill="#4D2188"/>
<circle cx="457.4" cy="123.4" r="1.25" fill="#4D2188"/>
<circle cx="455.4" cy="121.8" r="1.25" fill="#4D2188"/>
<circle cx="459.4" cy="118.0" r="1.25" fill="#4D2188"/>
<circle cx="466.0" cy="106.7" r="1.25" fill="#B45CE6"/>
<circle cx="463.6" cy="96.6" r="1.25" fill="#B45CE6"/>
<circle cx="465.4" cy="106.5" r="1.25" fill="#B45CE6"/>
<circle cx="463.0" cy="111.2" r="1.25" fill="#B45CE6"/>
<circle cx="464.7" cy="103.8" r="1.25" fill="#B45CE6"/>
<circle cx="465.9" cy="110.0" r="1.25" fill="#B45CE6"/>
<circle cx="462.2" cy="108.6" r="1.25" fill="#B45CE6"/>
<circle cx="466.4" cy="111.2" r="1.25" fill="#B45CE6"/>
<circle cx="465.6" cy="111.1" r="1.25" fill="#B45CE6"/>
<circle cx="463.2" cy="111.7" r="1.25" fill="#B45CE6"/>
<circle cx="463.1" cy="109.7" r="1.25" fill="#B45CE6"/>
<circle cx="466.9" cy="96.7" r="1.25" fill="#B45CE6"/>
<circle cx="462.5" cy="110.3" r="1.25" fill="#B45CE6"/>
<circle cx="466.8" cy="111.0" r="1.25" fill="#B45CE6"/>
<circle cx="463.2" cy="109.3" r="1.25" fill="#B45CE6"/>
<circle cx="462.0" cy="110.6" r="1.25" fill="#B45CE6"/>
<circle cx="463.6" cy="109.7" r="1.25" fill="#B45CE6"/>
<circle cx="466.9" cy="110.6" r="1.25" fill="#B45CE6"/>
<circle cx="462.6" cy="100.8" r="1.25" fill="#B45CE6"/>
<circle cx="464.0" cy="103.5" r="1.25" fill="#B45CE6"/>
<circle cx="465.0" cy="105.0" r="1.25" fill="#B45CE6"/>
<circle cx="463.2" cy="111.2" r="1.25" fill="#B45CE6"/>
<circle cx="465.7" cy="109.0" r="1.25" fill="#B45CE6"/>
<circle cx="464.6" cy="106.8" r="1.25" fill="#B45CE6"/>
<circle cx="465.7" cy="110.5" r="1.25" fill="#B45CE6"/>
<circle cx="463.5" cy="100.4" r="1.25" fill="#B45CE6"/>
<circle cx="464.4" cy="110.4" r="1.25" fill="#B45CE6"/>
<circle cx="465.0" cy="110.6" r="1.25" fill="#B45CE6"/>
<circle cx="465.8" cy="111.8" r="1.25" fill="#B45CE6"/>
<circle cx="466.1" cy="108.1" r="1.25" fill="#B45CE6"/>
<circle cx="463.4" cy="98.9" r="1.25" fill="#B45CE6"/>
<circle cx="462.9" cy="110.7" r="1.25" fill="#B45CE6"/>
<circle cx="461.8" cy="108.3" r="1.25" fill="#B45CE6"/>
<circle cx="471.5" cy="120.1" r="1.25" fill="#DD0000"/>
<circle cx="470.3" cy="116.5" r="1.25" fill="#DD0000"/>
<circle cx="469.3" cy="125.4" r="1.25" fill="#DD0000"/>
<circle cx="471.1" cy="104.1" r="1.25" fill="#DD0000"/>
<circle cx="471.1" cy="119.8" r="1.25" fill="#DD0000"/>
<circle cx="471.6" cy="124.5" r="1.25" fill="#DD0000"/>
<circle cx="472.1" cy="118.5" r="1.25" fill="#DD0000"/>
<circle cx="470.1" cy="124.5" r="1.25" fill="#DD0000"/>
<circle cx="471.7" cy="125.0" r="1.25" fill="#DD0000"/>
<circle cx="469.5" cy="113.6" r="1.25" fill="#DD0000"/>
<circle cx="470.7" cy="122.8" r="1.25" fill="#DD0000"/>
<circle cx="471.2" cy="111.8" r="1.25" fill="#DD0000"/>
<circle cx="469.4" cy="125.1" r="1.25" fill="#DD0000"/>
<circle cx="469.1" cy="124.3" r="1.25" fill="#DD0000"/>
<circle cx="470.6" cy="114.6" r="1.25" fill="#DD0000"/>
<circle cx="471.2" cy="122.0" r="1.25" fill="#DD0000"/>
<circle cx="470.3" cy="122.0" r="1.25" fill="#DD0000"/>
<circle cx="469.8" cy="115.0" r="1.25" fill="#DD0000"/>
<circle cx="471.6" cy="115.2" r="1.25" fill="#DD0000"/>
<circle cx="469.4" cy="120.2" r="1.25" fill="#DD0000"/>
<circle cx="471.5" cy="123.1" r="1.25" fill="#DD0000"/>
<circle cx="472.0" cy="112.0" r="1.25" fill="#DD0000"/>
<circle cx="471.5" cy="116.0" r="1.25" fill="#DD0000"/>
<circle cx="488.7" cy="106.2" r="1.25" fill="#E5801F"/>
<circle cx="477.1" cy="115.4" r="1.25" fill="#E5801F"/>
<circle cx="489.9" cy="118.2" r="1.25" fill="#E5801F"/>
<circle cx="480.3" cy="127.3" r="1.25" fill="#E5801F"/>
<circle cx="487.7" cy="110.0" r="1.25" fill="#E5801F"/>
<circle cx="480.3" cy="125.5" r="1.25" fill="#E5801F"/>
<circle cx="479.2" cy="127.0" r="1.25" fill="#E5801F"/>
<circle cx="492.2" cy="123.4" r="1.25" fill="#E5801F"/>
<circle cx="489.9" cy="127.2" r="1.25" fill="#E5801F"/>
<circle cx="493.0" cy="123.9" r="1.25" fill="#E5801F"/>
<circle cx="474.2" cy="117.7" r="1.25" fill="#E5801F"/>
<circle cx="477.3" cy="124.7" r="1.25" fill="#E5801F"/>
<circle cx="475.5" cy="121.9" r="1.25" fill="#E5801F"/>
<circle cx="486.6" cy="111.0" r="1.25" fill="#E5801F"/>
<circle cx="475.0" cy="109.8" r="1.25" fill="#E5801F"/>
<circle cx="476.6" cy="125.4" r="1.25" fill="#E5801F"/>
<circle cx="488.3" cy="123.7" r="1.25" fill="#E5801F"/>
<circle cx="481.6" cy="119.3" r="1.25" fill="#E5801F"/>
<circle cx="479.0" cy="111.7" r="1.25" fill="#E5801F"/>
<circle cx="478.8" cy="109.1" r="1.25" fill="#E5801F"/>
<circle cx="492.3" cy="120.0" r="1.25" fill="#E5801F"/>
<circle cx="474.8" cy="112.4" r="1.25" fill="#E5801F"/>
<circle cx="474.8" cy="120.7" r="1.25" fill="#E5801F"/>
<circle cx="483.7" cy="127.3" r="1.25" fill="#E5801F"/>
<circle cx="488.3" cy="114.7" r="1.25" fill="#E5801F"/>
<circle cx="487.3" cy="122.7" r="1.25" fill="#E5801F"/>
<circle cx="485.6" cy="118.8" r="1.25" fill="#E5801F"/>
<circle cx="479.2" cy="107.1" r="1.25" fill="#E5801F"/>
<circle cx="496.5" cy="111.2" r="1.25" fill="#E5801F"/>
<circle cx="495.7" cy="123.9" r="1.25" fill="#E5801F"/>
<circle cx="496.3" cy="127.2" r="1.25" fill="#E5801F"/>
<circle cx="484.9" cy="126.5" r="1.25" fill="#E5801F"/>
<circle cx="484.3" cy="116.1" r="1.25" fill="#E5801F"/>
<circle cx="490.1" cy="121.7" r="1.25" fill="#E5801F"/>
<circle cx="481.8" cy="125.8" r="1.25" fill="#E5801F"/>
<circle cx="483.2" cy="124.6" r="1.25" fill="#E5801F"/>
<circle cx="478.5" cy="114.2" r="1.25" fill="#E5801F"/>
<circle cx="485.7" cy="122.0" r="1.25" fill="#E5801F"/>
<circle cx="478.6" cy="115.4" r="1.25" fill="#E5801F"/>
<circle cx="478.6" cy="124.8" r="1.25" fill="#E5801F"/>
<circle cx="486.7" cy="115.5" r="1.25" fill="#E5801F"/>
<circle cx="496.0" cy="113.8" r="1.25" fill="#E5801F"/>
<circle cx="495.4" cy="101.9" r="1.25" fill="#E5801F"/>
<circle cx="490.4" cy="114.9" r="1.25" fill="#E5801F"/>
<circle cx="475.6" cy="125.6" r="1.25" fill="#E5801F"/>
<circle cx="474.4" cy="107.4" r="1.25" fill="#E5801F"/>
<circle cx="490.4" cy="117.7" r="1.25" fill="#E5801F"/>
<circle cx="480.1" cy="123.5" r="1.25" fill="#E5801F"/>
<circle cx="477.8" cy="117.7" r="1.25" fill="#E5801F"/>
<circle cx="496.4" cy="124.2" r="1.25" fill="#E5801F"/>
<circle cx="475.1" cy="126.0" r="1.25" fill="#E5801F"/>
<circle cx="482.1" cy="104.3" r="1.25" fill="#E5801F"/>
<circle cx="492.2" cy="121.7" r="1.25" fill="#E5801F"/>
<circle cx="476.4" cy="126.8" r="1.25" fill="#E5801F"/>
<circle cx="477.6" cy="112.5" r="1.25" fill="#E5801F"/>
<circle cx="494.6" cy="111.6" r="1.25" fill="#E5801F"/>
<circle cx="484.8" cy="110.2" r="1.25" fill="#E5801F"/>
<circle cx="477.0" cy="126.8" r="1.25" fill="#E5801F"/>
<circle cx="486.8" cy="120.7" r="1.25" fill="#E5801F"/>
<circle cx="478.8" cy="125.0" r="1.25" fill="#E5801F"/>
<circle cx="474.6" cy="103.2" r="1.25" fill="#E5801F"/>
<circle cx="490.1" cy="98.0" r="1.25" fill="#E5801F"/>
<circle cx="496.2" cy="122.1" r="1.25" fill="#E5801F"/>
<circle cx="490.6" cy="123.0" r="1.25" fill="#E5801F"/>
<circle cx="492.4" cy="109.0" r="1.25" fill="#E5801F"/>
<circle cx="477.2" cy="127.9" r="1.25" fill="#E5801F"/>
<circle cx="479.0" cy="118.9" r="1.25" fill="#E5801F"/>
<circle cx="482.7" cy="127.9" r="1.25" fill="#E5801F"/>
<circle cx="492.8" cy="112.1" r="1.25" fill="#E5801F"/>
<circle cx="484.6" cy="127.5" r="1.25" fill="#E5801F"/>
<circle cx="494.1" cy="120.1" r="1.25" fill="#E5801F"/>
<circle cx="475.7" cy="124.0" r="1.25" fill="#E5801F"/>
<circle cx="488.2" cy="105.6" r="1.25" fill="#E5801F"/>
<circle cx="485.0" cy="117.5" r="1.25" fill="#E5801F"/>
<circle cx="478.8" cy="125.1" r="1.25" fill="#E5801F"/>
<circle cx="494.5" cy="123.0" r="1.25" fill="#E5801F"/>
<circle cx="476.5" cy="118.8" r="1.25" fill="#E5801F"/>
<circle cx="477.0" cy="125.7" r="1.25" fill="#E5801F"/>
<circle cx="484.4" cy="118.9" r="1.25" fill="#E5801F"/>
<circle cx="488.4" cy="115.3" r="1.25" fill="#E5801F"/>
<circle cx="484.0" cy="127.3" r="1.25" fill="#E5801F"/>
<circle cx="490.4" cy="127.4" r="1.25" fill="#E5801F"/>
<circle cx="484.7" cy="122.7" r="1.25" fill="#E5801F"/>
<circle cx="489.3" cy="115.1" r="1.25" fill="#E5801F"/>
<circle cx="479.5" cy="117.2" r="1.25" fill="#E5801F"/>
<circle cx="489.7" cy="121.4" r="1.25" fill="#E5801F"/>
<circle cx="477.3" cy="103.2" r="1.25" fill="#E5801F"/>
<circle cx="487.6" cy="127.3" r="1.25" fill="#E5801F"/>
<circle cx="479.3" cy="122.9" r="1.25" fill="#E5801F"/>
<circle cx="491.8" cy="110.1" r="1.25" fill="#E5801F"/>
<circle cx="488.4" cy="114.0" r="1.25" fill="#E5801F"/>
<circle cx="475.0" cy="127.0" r="1.25" fill="#E5801F"/>
<circle cx="496.1" cy="111.2" r="1.25" fill="#E5801F"/>
<circle cx="475.0" cy="127.5" r="1.25" fill="#E5801F"/>
<circle cx="479.5" cy="100.4" r="1.25" fill="#E5801F"/>
<circle cx="479.1" cy="116.5" r="1.25" fill="#E5801F"/>
<circle cx="495.0" cy="117.5" r="1.25" fill="#E5801F"/>
<circle cx="494.8" cy="124.8" r="1.25" fill="#E5801F"/>
<circle cx="477.6" cy="127.8" r="1.25" fill="#E5801F"/>
<circle cx="491.1" cy="126.9" r="1.25" fill="#E5801F"/>
<circle cx="496.0" cy="115.2" r="1.25" fill="#E5801F"/>
<circle cx="478.3" cy="111.0" r="1.25" fill="#E5801F"/>
<circle cx="477.8" cy="120.6" r="1.25" fill="#E5801F"/>
<circle cx="476.5" cy="112.0" r="1.25" fill="#E5801F"/>
<circle cx="494.1" cy="102.4" r="1.25" fill="#E5801F"/>
<circle cx="474.2" cy="108.3" r="1.25" fill="#E5801F"/>
<circle cx="139.3" cy="108.1" r="1.25" fill="#F2D232"/>
<circle cx="139.0" cy="112.9" r="1.25" fill="#F2D232"/>
<circle cx="139.6" cy="108.8" r="1.25" fill="#F2D232"/>
<circle cx="136.4" cy="118.6" r="1.25" fill="#F2D232"/>
<circle cx="139.3" cy="116.8" r="1.25" fill="#F2D232"/>
<circle cx="138.4" cy="119.0" r="1.25" fill="#F2D232"/>
<circle cx="140.5" cy="118.8" r="1.25" fill="#F2D232"/>
<circle cx="141.0" cy="108.4" r="1.25" fill="#F2D232"/>
<circle cx="138.7" cy="118.2" r="1.25" fill="#F2D232"/>
<circle cx="139.9" cy="117.5" r="1.25" fill="#F2D232"/>
<circle cx="138.6" cy="118.3" r="1.25" fill="#F2D232"/>
<circle cx="142.0" cy="114.0" r="1.25" fill="#F2D232"/>
<circle cx="138.1" cy="118.4" r="1.25" fill="#F2D232"/>
<circle cx="140.4" cy="107.0" r="1.25" fill="#F2D232"/>
<circle cx="141.2" cy="118.3" r="1.25" fill="#F2D232"/>
<circle cx="138.2" cy="116.7" r="1.25" fill="#F2D232"/>
<circle cx="140.6" cy="118.0" r="1.25" fill="#F2D232"/>
<circle cx="140.7" cy="119.0" r="1.25" fill="#F2D232"/>
<circle cx="136.4" cy="118.2" r="1.25" fill="#F2D232"/>
<circle cx="140.2" cy="113.2" r="1.25" fill="#F2D232"/>
<circle cx="139.1" cy="115.1" r="1.25" fill="#F2D232"/>
<circle cx="138.4" cy="113.0" r="1.25" fill="#F2D232"/>
<circle cx="139.9" cy="103.3" r="1.25" fill="#F2D232"/>
<circle cx="140.4" cy="108.9" r="1.25" fill="#F2D232"/>
<circle cx="141.6" cy="107.5" r="1.25" fill="#F2D232"/>
<circle cx="140.3" cy="118.8" r="1.25" fill="#F2D232"/>
<circle cx="140.1" cy="107.0" r="1.25" fill="#F2D232"/>
<circle cx="138.6" cy="105.7" r="1.25" fill="#F2D232"/>
<circle cx="137.0" cy="100.9" r="1.25" fill="#F2D232"/>
<circle cx="138.6" cy="111.2" r="1.25" fill="#F2D232"/>
<circle cx="137.5" cy="116.7" r="1.25" fill="#F2D232"/>
<circle cx="138.1" cy="116.5" r="1.25" fill="#F2D232"/>
<circle cx="136.5" cy="115.3" r="1.25" fill="#F2D232"/>
<circle cx="142.0" cy="112.3" r="1.25" fill="#F2D232"/>
<circle cx="141.7" cy="109.9" r="1.25" fill="#F2D232"/>
<circle cx="140.6" cy="117.0" r="1.25" fill="#F2D232"/>
<circle cx="137.4" cy="115.6" r="1.25" fill="#F2D232"/>
<circle cx="136.0" cy="117.3" r="1.25" fill="#F2D232"/>
<circle cx="141.4" cy="102.9" r="1.25" fill="#F2D232"/>
<circle cx="137.9" cy="109.7" r="1.25" fill="#F2D232"/>
<circle cx="140.7" cy="105.0" r="1.25" fill="#F2D232"/>
<circle cx="140.8" cy="114.2" r="1.25" fill="#F2D232"/>
<circle cx="136.6" cy="107.9" r="1.25" fill="#F2D232"/>
<circle cx="137.8" cy="112.8" r="1.25" fill="#F2D232"/>
<circle cx="138.2" cy="114.1" r="1.25" fill="#F2D232"/>
<circle cx="141.9" cy="117.9" r="1.25" fill="#F2D232"/>
<circle cx="139.2" cy="112.4" r="1.25" fill="#F2D232"/>
<circle cx="139.2" cy="101.4" r="1.25" fill="#F2D232"/>
<circle cx="138.4" cy="103.5" r="1.25" fill="#F2D232"/>
<circle cx="140.2" cy="97.3" r="1.25" fill="#F2D232"/>
<circle cx="136.5" cy="117.5" r="1.25" fill="#F2D232"/>
<circle cx="137.7" cy="104.0" r="1.25" fill="#F2D232"/>
<circle cx="136.0" cy="117.1" r="1.25" fill="#F2D232"/>
<circle cx="137.0" cy="115.4" r="1.25" fill="#F2D232"/>
<circle cx="140.2" cy="111.6" r="1.25" fill="#F2D232"/>
<circle cx="140.5" cy="110.1" r="1.25" fill="#F2D232"/>
<circle cx="137.4" cy="117.1" r="1.25" fill="#F2D232"/>
<circle cx="136.1" cy="111.6" r="1.25" fill="#F2D232"/>
<circle cx="137.2" cy="117.1" r="1.25" fill="#F2D232"/>
<circle cx="141.9" cy="112.5" r="1.25" fill="#F2D232"/>
<circle cx="139.6" cy="112.2" r="1.25" fill="#F2D232"/>
<circle cx="216.7" cy="104.3" r="1.25" fill="#4D2188"/>
<circle cx="215.3" cy="108.7" r="1.25" fill="#4D2188"/>
<circle cx="214.2" cy="108.9" r="1.25" fill="#4D2188"/>
<circle cx="215.6" cy="108.4" r="1.25" fill="#4D2188"/>
<circle cx="214.4" cy="106.3" r="1.25" fill="#4D2188"/>
<circle cx="218.5" cy="104.3" r="1.25" fill="#4D2188"/>
<circle cx="215.2" cy="103.1" r="1.25" fill="#4D2188"/>
<circle cx="214.7" cy="108.6" r="1.25" fill="#4D2188"/>
<circle cx="215.3" cy="106.9" r="1.25" fill="#4D2188"/>
<circle cx="217.1" cy="106.6" r="1.25" fill="#4D2188"/>
<circle cx="217.3" cy="108.6" r="1.25" fill="#4D2188"/>
<circle cx="218.3" cy="107.3" r="1.25" fill="#4D2188"/>
<circle cx="217.8" cy="108.9" r="1.25" fill="#4D2188"/>
<circle cx="217.8" cy="108.0" r="1.25" fill="#4D2188"/>
<circle cx="217.9" cy="102.5" r="1.25" fill="#4D2188"/>
<circle cx="217.1" cy="107.7" r="1.25" fill="#4D2188"/>
<circle cx="213.9" cy="108.2" r="1.25" fill="#4D2188"/>
<circle cx="218.2" cy="108.3" r="1.25" fill="#4D2188"/>
<circle cx="217.0" cy="105.5" r="1.25" fill="#4D2188"/>
<circle cx="217.0" cy="108.2" r="1.25" fill="#4D2188"/>
<circle cx="214.6" cy="108.6" r="1.25" fill="#4D2188"/>
<circle cx="218.5" cy="107.1" r="1.25" fill="#4D2188"/>
<circle cx="217.0" cy="105.6" r="1.25" fill="#4D2188"/>
<circle cx="214.9" cy="108.7" r="1.25" fill="#4D2188"/>
<circle cx="214.0" cy="101.3" r="1.25" fill="#4D2188"/>
<circle cx="214.5" cy="95.8" r="1.25" fill="#4D2188"/>
<circle cx="215.6" cy="103.9" r="1.25" fill="#4D2188"/>
<circle cx="214.6" cy="102.8" r="1.25" fill="#4D2188"/>
<circle cx="215.1" cy="107.2" r="1.25" fill="#4D2188"/>
<circle cx="216.4" cy="108.5" r="1.25" fill="#4D2188"/>
<circle cx="215.1" cy="102.6" r="1.25" fill="#4D2188"/>
<circle cx="215.2" cy="107.1" r="1.25" fill="#4D2188"/>
<circle cx="217.5" cy="108.0" r="1.25" fill="#4D2188"/>
<circle cx="214.8" cy="108.0" r="1.25" fill="#4D2188"/>
<circle cx="215.7" cy="107.2" r="1.25" fill="#4D2188"/>
<circle cx="216.9" cy="106.4" r="1.25" fill="#4D2188"/>
<circle cx="218.0" cy="108.8" r="1.25" fill="#4D2188"/>
<circle cx="217.0" cy="101.8" r="1.25" fill="#4D2188"/>
<circle cx="215.0" cy="108.9" r="1.25" fill="#4D2188"/>
<circle cx="216.0" cy="108.5" r="1.25" fill="#4D2188"/>
<circle cx="216.1" cy="104.0" r="1.25" fill="#4D2188"/>
<circle cx="214.3" cy="108.5" r="1.25" fill="#4D2188"/>
<circle cx="216.2" cy="108.2" r="1.25" fill="#4D2188"/>
<circle cx="215.0" cy="106.7" r="1.25" fill="#4D2188"/>
<circle cx="214.5" cy="108.7" r="1.25" fill="#4D2188"/>
<circle cx="215.6" cy="106.5" r="1.25" fill="#4D2188"/>
<circle cx="218.3" cy="105.8" r="1.25" fill="#4D2188"/>
<circle cx="214.2" cy="108.0" r="1.25" fill="#4D2188"/>
<circle cx="217.4" cy="105.7" r="1.25" fill="#4D2188"/>
<circle cx="218.0" cy="95.9" r="1.25" fill="#4D2188"/>
<circle cx="217.9" cy="108.5" r="1.25" fill="#4D2188"/>
<circle cx="218.3" cy="106.0" r="1.25" fill="#4D2188"/>
<circle cx="443.2" cy="108.4" r="1.25" fill="#0000FF"/>
<circle cx="445.2" cy="108.3" r="1.25" fill="#0000FF"/>
<circle cx="442.7" cy="108.1" r="1.25" fill="#0000FF"/>
<circle cx="445.4" cy="107.1" r="1.25" fill="#0000FF"/>
<circle cx="444.7" cy="108.8" r="1.25" fill="#0000FF"/>
<circle cx="443.8" cy="107.9" r="1.25" fill="#0000FF"/>
<circle cx="443.1" cy="105.7" r="1.25" fill="#0000FF"/>
<circle cx="443.6" cy="108.6" r="1.25" fill="#0000FF"/>
<circle cx="445.5" cy="107.0" r="1.25" fill="#0000FF"/>
<circle cx="443.0" cy="109.0" r="1.25" fill="#0000FF"/>
<circle cx="444.5" cy="106.8" r="1.25" fill="#0000FF"/>
<circle cx="442.5" cy="107.1" r="1.25" fill="#0000FF"/>
<circle cx="444.8" cy="106.7" r="1.25" fill="#0000FF"/>
<circle cx="443.1" cy="106.9" r="1.25" fill="#0000FF"/>
<circle cx="444.3" cy="105.8" r="1.25" fill="#0000FF"/>
<circle cx="442.9" cy="104.1" r="1.25" fill="#0000FF"/>
<circle cx="445.4" cy="105.0" r="1.25" fill="#0000FF"/>
<circle cx="445.1" cy="107.6" r="1.25" fill="#0000FF"/>
<circle cx="445.3" cy="108.4" r="1.25" fill="#0000FF"/>
<circle cx="443.1" cy="106.3" r="1.25" fill="#0000FF"/>
<circle cx="445.3" cy="108.7" r="1.25" fill="#0000FF"/>
<circle cx="443.1" cy="108.9" r="1.25" fill="#0000FF"/>
<circle cx="443.8" cy="108.5" r="1.25" fill="#0000FF"/>
<circle cx="443.0" cy="104.9" r="1.25" fill="#0000FF"/>
<circle cx="444.3" cy="100.6" r="1.25" fill="#0000FF"/>
<circle cx="443.7" cy="105.6" r="1.25" fill="#0000FF"/>
<circle cx="442.4" cy="100.1" r="1.25" fill="#0000FF"/>
<circle cx="443.1" cy="107.1" r="1.25" fill="#0000FF"/>
<circle cx="444.0" cy="100.1" r="1.25" fill="#0000FF"/>
<circle cx="444.4" cy="108.3" r="1.25" fill="#0000FF"/>
<circle cx="445.1" cy="108.3" r="1.25" fill="#0000FF"/>
<circle cx="445.6" cy="107.2" r="1.25" fill="#0000FF"/>
<circle cx="443.1" cy="99.3" r="1.25" fill="#0000FF"/>
<circle cx="443.4" cy="107.4" r="1.25" fill="#0000FF"/>
<circle cx="443.5" cy="105.7" r="1.25" fill="#0000FF"/>
<circle cx="442.5" cy="107.6" r="1.25" fill="#0000FF"/>
<circle cx="442.9" cy="103.7" r="1.25" fill="#0000FF"/>
<circle cx="442.4" cy="106.2" r="1.25" fill="#0000FF"/>
<circle cx="443.2" cy="107.2" r="1.25" fill="#0000FF"/>
<circle cx="80.8" cy="125.9" r="0.6" fill="#fff"/>
<circle cx="66.6" cy="122.5" r="0.6" fill="#fff"/>
<circle cx="66.0" cy="132.8" r="0.6" fill="#fff"/>
<circle cx="67.0" cy="122.0" r="0.6" fill="#fff"/>
<circle cx="79.5" cy="124.5" r="0.6" fill="#fff"/>
<circle cx="91.7" cy="121.7" r="0.6" fill="#fff"/>
<circle cx="69.8" cy="122.1" r="0.6" fill="#fff"/>
<circle cx="81.6" cy="123.6" r="0.6" fill="#fff"/>
<circle cx="75.7" cy="129.2" r="0.6" fill="#fff"/>
<circle cx="84.2" cy="128.4" r="0.6" fill="#fff"/>
<circle cx="94.1" cy="122.6" r="0.6" fill="#fff"/>
<circle cx="93.6" cy="123.3" r="0.6" fill="#fff"/>
<circle cx="63.7" cy="130.1" r="0.6" fill="#fff"/>
<circle cx="65.5" cy="121.6" r="0.6" fill="#fff"/>
<circle cx="71.7" cy="122.7" r="0.6" fill="#fff"/>
<circle cx="128.9" cy="129.2" r="0.6" fill="#fff"/>
<circle cx="111.2" cy="124.6" r="0.6" fill="#fff"/>
<circle cx="125.1" cy="127.8" r="0.6" fill="#fff"/>
<circle cx="118.7" cy="124.5" r="0.6" fill="#fff"/>
<circle cx="101.3" cy="123.0" r="0.6" fill="#fff"/>
<circle cx="118.9" cy="125.1" r="0.6" fill="#fff"/>
<circle cx="123.5" cy="130.0" r="0.6" fill="#fff"/>
<circle cx="128.8" cy="122.7" r="0.6" fill="#fff"/>
<circle cx="100.0" cy="130.0" r="0.6" fill="#fff"/>
<circle cx="116.0" cy="122.7" r="0.6" fill="#fff"/>
<circle cx="120.0" cy="123.0" r="0.6" fill="#fff"/>
<circle cx="105.2" cy="123.6" r="0.6" fill="#fff"/>
<circle cx="114.5" cy="126.0" r="0.6" fill="#fff"/>
<circle cx="99.9" cy="126.7" r="0.6" fill="#fff"/>
<circle cx="117.8" cy="124.2" r="0.6" fill="#fff"/>
<circle cx="149.8" cy="129.6" r="0.6" fill="#fff"/>
<circle cx="132.3" cy="126.3" r="0.6" fill="#fff"/>
<circle cx="150.0" cy="128.3" r="0.6" fill="#fff"/>
<circle cx="149.2" cy="124.7" r="0.6" fill="#fff"/>
<circle cx="157.4" cy="129.4" r="0.6" fill="#fff"/>
<circle cx="138.2" cy="126.0" r="0.6" fill="#fff"/>
<circle cx="157.4" cy="124.8" r="0.6" fill="#fff"/>
<circle cx="142.8" cy="135.4" r="0.6" fill="#fff"/>
<circle cx="155.9" cy="124.9" r="0.6" fill="#fff"/>
<circle cx="151.5" cy="125.6" r="0.6" fill="#fff"/>
<circle cx="149.6" cy="129.1" r="0.6" fill="#fff"/>
<circle cx="135.4" cy="124.9" r="0.6" fill="#fff"/>
<circle cx="166.0" cy="122.1" r="0.6" fill="#fff"/>
<circle cx="161.4" cy="121.5" r="0.6" fill="#fff"/>
<circle cx="170.9" cy="122.9" r="0.6" fill="#fff"/>
<circle cx="162.5" cy="124.1" r="0.6" fill="#fff"/>
<circle cx="184.5" cy="124.0" r="0.6" fill="#fff"/>
<circle cx="169.6" cy="125.3" r="0.6" fill="#fff"/>
<circle cx="171.6" cy="121.7" r="0.6" fill="#fff"/>
<circle cx="172.8" cy="121.1" r="0.6" fill="#fff"/>
<circle cx="177.7" cy="121.6" r="0.6" fill="#fff"/>
<circle cx="169.9" cy="132.5" r="0.6" fill="#fff"/>
<circle cx="180.1" cy="127.3" r="0.6" fill="#fff"/>
<circle cx="176.9" cy="124.5" r="0.6" fill="#fff"/>
<circle cx="204.9" cy="127.9" r="0.6" fill="#fff"/>
<circle cx="192.7" cy="121.1" r="0.6" fill="#fff"/>
<circle cx="195.2" cy="117.0" r="0.6" fill="#fff"/>
<circle cx="207.7" cy="119.2" r="0.6" fill="#fff"/>
<circle cx="208.4" cy="123.3" r="0.6" fill="#fff"/>
<circle cx="202.1" cy="116.8" r="0.6" fill="#fff"/>
<circle cx="188.4" cy="118.7" r="0.6" fill="#fff"/>
<circle cx="205.4" cy="117.1" r="0.6" fill="#fff"/>
<circle cx="189.7" cy="116.0" r="0.6" fill="#fff"/>
<circle cx="192.2" cy="120.2" r="0.6" fill="#fff"/>
<circle cx="188.1" cy="116.9" r="0.6" fill="#fff"/>
<circle cx="219.8" cy="123.3" r="0.6" fill="#fff"/>
<circle cx="235.7" cy="119.1" r="0.6" fill="#fff"/>
<circle cx="216.5" cy="128.5" r="0.6" fill="#fff"/>
<circle cx="235.3" cy="119.6" r="0.6" fill="#fff"/>
<circle cx="221.4" cy="121.6" r="0.6" fill="#fff"/>
<circle cx="221.0" cy="120.9" r="0.6" fill="#fff"/>
<circle cx="224.5" cy="120.0" r="0.6" fill="#fff"/>
<circle cx="215.2" cy="119.3" r="0.6" fill="#fff"/>
<circle cx="217.6" cy="119.3" r="0.6" fill="#fff"/>
<circle cx="227.7" cy="123.2" r="0.6" fill="#fff"/>
<circle cx="243.5" cy="129.5" r="0.6" fill="#fff"/>
<circle cx="253.3" cy="125.5" r="0.6" fill="#fff"/>
<circle cx="248.3" cy="124.7" r="0.6" fill="#fff"/>
<circle cx="257.5" cy="126.9" r="0.6" fill="#fff"/>
<circle cx="239.1" cy="124.6" r="0.6" fill="#fff"/>
<circle cx="252.5" cy="125.7" r="0.6" fill="#fff"/>
<circle cx="253.1" cy="124.9" r="0.6" fill="#fff"/>
<circle cx="254.7" cy="129.7" r="0.6" fill="#fff"/>
<circle cx="240.0" cy="127.1" r="0.6" fill="#fff"/>
<circle cx="242.0" cy="128.3" r="0.6" fill="#fff"/>
<circle cx="276.1" cy="126.5" r="0.6" fill="#fff"/>
<circle cx="265.3" cy="121.3" r="0.6" fill="#fff"/>
<circle cx="273.4" cy="123.9" r="0.6" fill="#fff"/>
<circle cx="263.6" cy="121.7" r="0.6" fill="#fff"/>
<circle cx="271.9" cy="121.4" r="0.6" fill="#fff"/>
<circle cx="272.9" cy="122.0" r="0.6" fill="#fff"/>
<circle cx="265.8" cy="122.9" r="0.6" fill="#fff"/>
<circle cx="271.0" cy="125.5" r="0.6" fill="#fff"/>
<circle cx="261.6" cy="125.5" r="0.6" fill="#fff"/>
<circle cx="285.8" cy="119.2" r="0.6" fill="#fff"/>
<circle cx="293.4" cy="122.1" r="0.6" fill="#fff"/>
<circle cx="293.0" cy="126.1" r="0.6" fill="#fff"/>
<circle cx="285.5" cy="119.3" r="0.6" fill="#fff"/>
<circle cx="293.8" cy="119.1" r="0.6" fill="#fff"/>
<circle cx="284.6" cy="118.9" r="0.6" fill="#fff"/>
<circle cx="295.8" cy="124.1" r="0.6" fill="#fff"/>
<circle cx="294.8" cy="129.2" r="0.6" fill="#fff"/>
<circle cx="296.2" cy="119.3" r="0.6" fill="#fff"/>
<circle cx="307.5" cy="120.5" r="0.6" fill="#fff"/>
<circle cx="303.0" cy="119.3" r="0.6" fill="#fff"/>
<circle cx="303.6" cy="116.2" r="0.6" fill="#fff"/>
<circle cx="311.0" cy="116.6" r="0.6" fill="#fff"/>
<circle cx="318.3" cy="123.3" r="0.6" fill="#fff"/>
<circle cx="310.1" cy="116.8" r="0.6" fill="#fff"/>
<circle cx="304.1" cy="118.5" r="0.6" fill="#fff"/>
<circle cx="311.1" cy="117.6" r="0.6" fill="#fff"/>
<circle cx="334.0" cy="124.6" r="0.6" fill="#fff"/>
<circle cx="335.1" cy="122.4" r="0.6" fill="#fff"/>
<circle cx="322.7" cy="123.7" r="0.6" fill="#fff"/>
<circle cx="330.0" cy="123.0" r="0.6" fill="#fff"/>
<circle cx="333.2" cy="122.9" r="0.6" fill="#fff"/>
<circle cx="327.1" cy="124.3" r="0.6" fill="#fff"/>
<circle cx="334.0" cy="127.1" r="0.6" fill="#fff"/>
<circle cx="328.0" cy="124.1" r="0.6" fill="#fff"/>
<circle cx="358.8" cy="128.5" r="0.6" fill="#fff"/>
<circle cx="352.9" cy="119.4" r="0.6" fill="#fff"/>
<circle cx="349.7" cy="122.5" r="0.6" fill="#fff"/>
<circle cx="346.3" cy="119.1" r="0.6" fill="#fff"/>
<circle cx="359.8" cy="127.4" r="0.6" fill="#fff"/>
<circle cx="343.5" cy="121.2" r="0.6" fill="#fff"/>
<circle cx="352.9" cy="120.2" r="0.6" fill="#fff"/>
<circle cx="342.3" cy="123.9" r="0.6" fill="#fff"/>
<circle cx="355.8" cy="121.0" r="0.6" fill="#fff"/>
<circle cx="364.0" cy="120.8" r="0.6" fill="#fff"/>
<circle cx="364.1" cy="130.6" r="0.6" fill="#fff"/>
<circle cx="363.5" cy="120.2" r="0.6" fill="#fff"/>
<circle cx="373.3" cy="119.5" r="0.6" fill="#fff"/>
<circle cx="364.3" cy="119.3" r="0.6" fill="#fff"/>
<circle cx="365.0" cy="121.7" r="0.6" fill="#fff"/>
<circle cx="374.2" cy="119.6" r="0.6" fill="#fff"/>
<circle cx="381.6" cy="120.1" r="0.6" fill="#fff"/>
<circle cx="384.8" cy="116.4" r="0.6" fill="#fff"/>
<circle cx="380.9" cy="116.0" r="0.6" fill="#fff"/>
<circle cx="391.9" cy="115.4" r="0.6" fill="#fff"/>
<circle cx="382.7" cy="119.7" r="0.6" fill="#fff"/>
<circle cx="390.9" cy="123.2" r="0.6" fill="#fff"/>
<circle cx="399.5" cy="134.0" r="0.6" fill="#fff"/>
<circle cx="400.7" cy="124.2" r="0.6" fill="#fff"/>
<circle cx="399.4" cy="127.4" r="0.6" fill="#fff"/>
<circle cx="402.0" cy="123.5" r="0.6" fill="#fff"/>
<circle cx="396.8" cy="134.1" r="0.6" fill="#fff"/>
<circle cx="407.7" cy="124.9" r="0.6" fill="#fff"/>
<circle cx="410.1" cy="120.0" r="0.6" fill="#fff"/>
<circle cx="409.2" cy="121.2" r="0.6" fill="#fff"/>
<circle cx="417.1" cy="119.6" r="0.6" fill="#fff"/>
<circle cx="415.7" cy="120.4" r="0.6" fill="#fff"/>
<circle cx="420.9" cy="117.8" r="0.6" fill="#fff"/>
<circle cx="422.6" cy="113.7" r="0.6" fill="#fff"/>
<circle cx="423.3" cy="119.0" r="0.6" fill="#fff"/>
<circle cx="427.7" cy="116.0" r="0.6" fill="#fff"/>
<circle cx="419.4" cy="118.0" r="0.6" fill="#fff"/>
<circle cx="436.6" cy="126.0" r="0.6" fill="#fff"/>
<circle cx="439.8" cy="119.4" r="0.6" fill="#fff"/>
<circle cx="438.8" cy="124.0" r="0.6" fill="#fff"/>
<circle cx="433.5" cy="119.6" r="0.6" fill="#fff"/>
<circle cx="434.5" cy="119.5" r="0.6" fill="#fff"/>
<circle cx="444.6" cy="117.4" r="0.6" fill="#fff"/>
<circle cx="443.7" cy="125.4" r="0.6" fill="#fff"/>
<circle cx="444.8" cy="120.5" r="0.6" fill="#fff"/>
<circle cx="458.5" cy="128.9" r="0.6" fill="#fff"/>
<circle cx="452.7" cy="132.8" r="0.6" fill="#fff"/>
<circle cx="457.7" cy="140.4" r="0.6" fill="#fff"/>
<circle cx="457.1" cy="128.9" r="0.6" fill="#fff"/>
<circle cx="466.0" cy="111.0" r="0.6" fill="#fff"/>
<circle cx="465.1" cy="111.7" r="0.6" fill="#fff"/>
<circle cx="466.1" cy="110.5" r="0.6" fill="#fff"/>
<circle cx="470.8" cy="127.4" r="0.6" fill="#fff"/>
<circle cx="471.7" cy="127.5" r="0.6" fill="#fff"/>
<circle cx="493.0" cy="132.6" r="0.6" fill="#fff"/>
<circle cx="493.8" cy="126.5" r="0.6" fill="#fff"/>
<circle cx="495.1" cy="130.8" r="0.6" fill="#fff"/>
<circle cx="489.3" cy="129.7" r="0.6" fill="#fff"/>
<circle cx="475.3" cy="133.1" r="0.6" fill="#fff"/>
<circle cx="486.4" cy="128.1" r="0.6" fill="#fff"/>
<circle cx="481.8" cy="131.3" r="0.6" fill="#fff"/>
<circle cx="491.7" cy="133.1" r="0.6" fill="#fff"/>
<circle cx="479.0" cy="127.5" r="0.6" fill="#fff"/>
<circle cx="479.8" cy="126.4" r="0.6" fill="#fff"/>
<rect x="80" y="100" width="1.60" height="65.7" fill="#fff"/>
<rect x="289" y="100" width="2.30" height="65.7" fill="#fff"/>
<rect x="411.8" y="100" width="0.60" height="50.0" fill="#fff"/>
<circle cx="70" cy="82.7" r="1.1" fill="#DD0000"/>
<circle cx="70" cy="88" r="1.1" fill="#DD0000"/>
<circle cx="70" cy="91" r="1.1" fill="#DD0000"/>
<circle cx="70" cy="96.5" r="1.1" fill="#DD0000"/>
<circle cx="70.5" cy="99" r="1.1" fill="#DD0000"/>
<circle cx="63.8" cy="99.6" r="1.1" fill="#DD0000"/>
<circle cx="85" cy="99.6" r="1.1" fill="#DD0000"/>
<circle cx="95.4" cy="98" r="1.1" fill="#DD0000"/>
<circle cx="85" cy="103.5" r="1.1" fill="#DD0000"/>
<circle cx="400.8" cy="86.5" r="1.1" fill="#DD0000"/>
<circle cx="395.8" cy="94.7" r="1.1" fill="#DD0000"/>
<circle cx="401.2" cy="99.3" r="1.1" fill="#DD0000"/>
<circle cx="401.2" cy="103.5" r="1.1" fill="#DD0000"/>
<circle cx="396.5" cy="104.2" r="1.1" fill="#DD0000"/>
<circle cx="263.8" cy="94.5" r="1.1" fill="#DD0000"/>
<circle cx="263.8" cy="98" r="1.1" fill="#DD0000"/>
<circle cx="275.2" cy="102.4" r="1.1" fill="#DD0000"/>
<circle cx="279.5" cy="102.7" r="1.1" fill="#DD0000"/>
<circle cx="470" cy="101.9" r="1.1" fill="#DD0000"/>
<circle cx="473.3" cy="106.7" r="1.1" fill="#DD0000"/>
<circle cx="469.4" cy="110.6" r="1.1" fill="#DD0000"/>
<circle cx="99.9" cy="57" r="1.1" fill="#E5801F"/>
<circle cx="99.9" cy="69.6" r="1.1" fill="#E5801F"/>
<circle cx="99.9" cy="77.6" r="1.1" fill="#E5801F"/>
<circle cx="102.9" cy="84.2" r="1.1" fill="#E5801F"/>
<circle cx="110" cy="87.3" r="1.1" fill="#E5801F"/>
<circle cx="127.2" cy="89.3" r="1.1" fill="#E5801F"/>
<circle cx="100" cy="98.8" r="1.1" fill="#E5801F"/>
<circle cx="102.5" cy="98.8" r="1.1" fill="#E5801F"/>
<circle cx="130.3" cy="99.6" r="1.1" fill="#E5801F"/>
<circle cx="282.6" cy="86.5" r="1.1" fill="#E5801F"/>
<circle cx="298.3" cy="106.2" r="1.1" fill="#E5801F"/>
<circle cx="407.9" cy="99.6" r="1.1" fill="#E5801F"/>
<circle cx="407.9" cy="103.5" r="1.1" fill="#E5801F"/>
<circle cx="418" cy="103.5" r="1.1" fill="#E5801F"/>
<circle cx="415.6" cy="105.8" r="1.1" fill="#E5801F"/>
<circle cx="478.7" cy="92.9" r="1.1" fill="#E5801F"/>
<circle cx="486.7" cy="94.6" r="1.1" fill="#E5801F"/>
<circle cx="485.4" cy="98" r="1.1" fill="#E5801F"/>
<circle cx="481" cy="101" r="1.1" fill="#E5801F"/>
<circle cx="475.8" cy="103.8" r="1.1" fill="#E5801F"/>
<circle cx="485.8" cy="105.8" r="1.1" fill="#E5801F"/>
<circle cx="494.4" cy="111.5" r="1.1" fill="#E5801F"/>
<circle cx="141.5" cy="92" r="1.1" fill="#F2D232"/>
<circle cx="141.5" cy="93.5" r="1.1" fill="#F2D232"/>
<circle cx="136.5" cy="98" r="1.1" fill="#F2D232"/>
<circle cx="154.3" cy="102.4" r="1.1" fill="#F2D232"/>
<circle cx="304.2" cy="94" r="1.1" fill="#F2D232"/>
<circle cx="311.8" cy="95" r="1.1" fill="#F2D232"/>
<circle cx="318.5" cy="92.4" r="1.1" fill="#F2D232"/>
<circle cx="421.3" cy="96.2" r="1.1" fill="#F2D232"/>
<circle cx="164.7" cy="78.5" r="1.1" fill="#6FCB2E"/>
<circle cx="174.9" cy="82.4" r="1.1" fill="#6FCB2E"/>
<circle cx="174.9" cy="87.8" r="1.1" fill="#6FCB2E"/>
<circle cx="162.6" cy="93.8" r="1.1" fill="#6FCB2E"/>
<circle cx="170.3" cy="97" r="1.1" fill="#6FCB2E"/>
<circle cx="174.9" cy="98.8" r="1.1" fill="#6FCB2E"/>
<circle cx="183.1" cy="98.8" r="1.1" fill="#6FCB2E"/>
<circle cx="174.9" cy="103" r="1.1" fill="#6FCB2E"/>
<circle cx="167.7" cy="103" r="1.1" fill="#6FCB2E"/>
<circle cx="335.7" cy="90" r="1.1" fill="#6FCB2E"/>
<circle cx="323.4" cy="99.3" r="1.1" fill="#6FCB2E"/>
<circle cx="331" cy="98" r="1.1" fill="#6FCB2E"/>
<circle cx="328.8" cy="102" r="1.1" fill="#6FCB2E"/>
<circle cx="437.7" cy="81.7" r="1.1" fill="#6FCB2E"/>
<circle cx="441.2" cy="81.7" r="1.1" fill="#6FCB2E"/>
<circle cx="441.2" cy="92" r="1.1" fill="#6FCB2E"/>
<circle cx="434.2" cy="95.8" r="1.1" fill="#6FCB2E"/>
<circle cx="432.9" cy="98.5" r="1.1" fill="#6FCB2E"/>
<circle cx="434.8" cy="105.8" r="1.1" fill="#6FCB2E"/>
<circle cx="439.6" cy="102.9" r="1.1" fill="#6FCB2E"/>
<circle cx="210.8" cy="52.4" r="1.1" fill="#0000FF"/>
<circle cx="210.8" cy="73" r="1.1" fill="#0000FF"/>
<circle cx="198.5" cy="96" r="1.1" fill="#0000FF"/>
<circle cx="206.5" cy="94.2" r="1.1" fill="#0000FF"/>
<circle cx="190" cy="101.2" r="1.1" fill="#0000FF"/>
<circle cx="192" cy="101.2" r="1.1" fill="#0000FF"/>
<circle cx="194" cy="101.2" r="1.1" fill="#0000FF"/>
<circle cx="205.8" cy="101" r="1.1" fill="#0000FF"/>
<circle cx="198.8" cy="103" r="1.1" fill="#0000FF"/>
<circle cx="188" cy="105.8" r="1.1" fill="#0000FF"/>
<circle cx="198.8" cy="107.3" r="1.1" fill="#0000FF"/>
<circle cx="212.5" cy="105.8" r="1.1" fill="#0000FF"/>
<circle cx="357.3" cy="96.5" r="1.1" fill="#0000FF"/>
<circle cx="357.3" cy="98.8" r="1.1" fill="#0000FF"/>
<circle cx="357.3" cy="101.2" r="1.1" fill="#0000FF"/>
<circle cx="359.6" cy="102.7" r="1.1" fill="#0000FF"/>
<circle cx="341.9" cy="102.4" r="1.1" fill="#0000FF"/>
<circle cx="345" cy="106.5" r="1.1" fill="#0000FF"/>
<circle cx="351.2" cy="104.5" r="1.1" fill="#0000FF"/>
<circle cx="354.2" cy="112" r="1.1" fill="#0000FF"/>
<circle cx="450.6" cy="85.6" r="1.1" fill="#0000FF"/>
<circle cx="450.6" cy="94.2" r="1.1" fill="#0000FF"/>
<circle cx="444.4" cy="93.8" r="1.1" fill="#0000FF"/>
<circle cx="450.6" cy="99" r="1.1" fill="#0000FF"/>
<circle cx="449.2" cy="100" r="1.1" fill="#0000FF"/>
<circle cx="216.2" cy="90.4" r="1.1" fill="#4D2188"/>
<circle cx="218.8" cy="91.6" r="1.1" fill="#4D2188"/>
<circle cx="216.2" cy="95.8" r="1.1" fill="#4D2188"/>
<circle cx="227.8" cy="98" r="1.1" fill="#4D2188"/>
<circle cx="231.2" cy="100" r="1.1" fill="#4D2188"/>
<circle cx="235.8" cy="96.5" r="1.1" fill="#4D2188"/>
<circle cx="216" cy="98.8" r="1.1" fill="#4D2188"/>
<circle cx="363.9" cy="101.2" r="1.1" fill="#4D2188"/>
<circle cx="363.9" cy="103.5" r="1.1" fill="#4D2188"/>
<circle cx="368" cy="102.7" r="1.1" fill="#4D2188"/>
<circle cx="373.9" cy="99.3" r="1.1" fill="#4D2188"/>
<circle cx="364.2" cy="110.4" r="1.1" fill="#4D2188"/>
<circle cx="375.3" cy="105.8" r="1.1" fill="#4D2188"/>
<circle cx="455.4" cy="97.7" r="1.1" fill="#4D2188"/>
<circle cx="458.8" cy="101" r="1.1" fill="#4D2188"/>
<circle cx="451.2" cy="103.5" r="1.1" fill="#4D2188"/>
<circle cx="456.5" cy="105.8" r="1.1" fill="#4D2188"/>
<circle cx="259.3" cy="73.5" r="1.1" fill="#B45CE6"/>
<circle cx="260" cy="89.3" r="1.1" fill="#B45CE6"/>
<circle cx="239.2" cy="94.2" r="1.1" fill="#B45CE6"/>
<circle cx="248.4" cy="98" r="1.1" fill="#B45CE6"/>
<circle cx="244.2" cy="100.4" r="1.1" fill="#B45CE6"/>
<circle cx="258.5" cy="93.5" r="1.1" fill="#B45CE6"/>
<circle cx="254.2" cy="103.2" r="1.1" fill="#B45CE6"/>
<circle cx="381.9" cy="83.9" r="1.1" fill="#B45CE6"/>
<circle cx="381.9" cy="87.3" r="1.1" fill="#B45CE6"/>
<circle cx="383.9" cy="98" r="1.1" fill="#B45CE6"/>
<circle cx="387.6" cy="97.3" r="1.1" fill="#B45CE6"/>
<circle cx="381.2" cy="102.4" r="1.1" fill="#B45CE6"/>
<circle cx="464.6" cy="95.2" r="1.1" fill="#B45CE6"/>
<text x="104.50" y="59.20" font-size="11" text-anchor="start" textLength="61.3" lengthAdjust="spacingAndGlyphs" >rs56737264</text>
<text x="104.50" y="71.60" font-size="11" text-anchor="start" textLength="61.5" lengthAdjust="spacingAndGlyphs" >rs67088901</text>
<text x="214.80" y="58.80" font-size="11" text-anchor="start" textLength="64" lengthAdjust="spacingAndGlyphs" >rs75853687</text>
<line x1="49.30" y1="34.20" x2="49.30" y2="166.40" stroke="#000" stroke-width="1.6" />
<line x1="48.50" y1="165.90" x2="508.30" y2="165.90" stroke="#000" stroke-width="1.6" />
<line x1="45.20" y1="165.70" x2="49.30" y2="165.70" stroke="#000" stroke-width="1.4" />
<text x="40.60" y="169.70" font-size="12" text-anchor="end" >0</text>
<line x1="45.20" y1="133.80" x2="49.30" y2="133.80" stroke="#000" stroke-width="1.4" />
<text x="40.60" y="137.80" font-size="12" text-anchor="end" >2</text>
<line x1="45.20" y1="101.90" x2="49.30" y2="101.90" stroke="#000" stroke-width="1.4" />
<text x="40.60" y="105.90" font-size="12" text-anchor="end" >4</text>
<line x1="45.20" y1="70.00" x2="49.30" y2="70.00" stroke="#000" stroke-width="1.4" />
<text x="40.60" y="74.00" font-size="12" text-anchor="end" >6</text>
<line x1="45.20" y1="38.10" x2="49.30" y2="38.10" stroke="#000" stroke-width="1.4" />
<text x="40.60" y="42.10" font-size="12" text-anchor="end" >8</text>
<line x1="80.25" y1="166.50" x2="80.25" y2="170.00" stroke="#000" stroke-width="1.4" />
<text x="80.25" y="185.80" font-size="11.6" text-anchor="middle" >1</text>
<line x1="115.00" y1="166.50" x2="115.00" y2="170.00" stroke="#000" stroke-width="1.4" />
<text x="115.00" y="185.80" font-size="11.6" text-anchor="middle" >2</text>
<line x1="146.75" y1="166.50" x2="146.75" y2="170.00" stroke="#000" stroke-width="1.4" />
<text x="146.75" y="185.80" font-size="11.6" text-anchor="middle" >3</text>
<line x1="174.25" y1="166.50" x2="174.25" y2="170.00" stroke="#000" stroke-width="1.4" />
<text x="174.25" y="185.80" font-size="11.6" text-anchor="middle" >4</text>
<line x1="200.75" y1="166.50" x2="200.75" y2="170.00" stroke="#000" stroke-width="1.4" />
<text x="200.75" y="185.80" font-size="11.6" text-anchor="middle" >5</text>
<line x1="226.25" y1="166.50" x2="226.25" y2="170.00" stroke="#000" stroke-width="1.4" />
<text x="226.25" y="185.80" font-size="11.6" text-anchor="middle" >6</text>
<line x1="249.50" y1="166.50" x2="249.50" y2="170.00" stroke="#000" stroke-width="1.4" />
<text x="249.50" y="185.80" font-size="11.6" text-anchor="middle" >7</text>
<line x1="271.25" y1="166.50" x2="271.25" y2="170.00" stroke="#000" stroke-width="1.4" />
<text x="271.25" y="185.80" font-size="11.6" text-anchor="middle" >8</text>
<line x1="291.75" y1="166.50" x2="291.75" y2="170.00" stroke="#000" stroke-width="1.4" />
<text x="291.75" y="185.80" font-size="11.6" text-anchor="middle" >9</text>
<line x1="311.75" y1="166.50" x2="311.75" y2="170.00" stroke="#000" stroke-width="1.4" />
<text x="311.75" y="185.80" font-size="11.6" text-anchor="middle" >10</text>
<line x1="331.25" y1="166.50" x2="331.25" y2="170.00" stroke="#000" stroke-width="1.4" />
<text x="331.25" y="185.80" font-size="11.6" text-anchor="middle" >11</text>
<line x1="350.75" y1="166.50" x2="350.75" y2="170.00" stroke="#000" stroke-width="1.4" />
<text x="350.75" y="185.80" font-size="11.6" text-anchor="middle" >12</text>
<line x1="369.50" y1="166.50" x2="369.50" y2="170.00" stroke="#000" stroke-width="1.4" />
<text x="369.50" y="185.80" font-size="11.6" text-anchor="middle" >13</text>
<line x1="385.75" y1="166.50" x2="385.75" y2="170.00" stroke="#000" stroke-width="1.4" />
<line x1="400.50" y1="166.50" x2="400.50" y2="170.00" stroke="#000" stroke-width="1.4" />
<text x="400.50" y="185.80" font-size="11.6" text-anchor="middle" >15</text>
<line x1="413.00" y1="166.50" x2="413.00" y2="170.00" stroke="#000" stroke-width="1.4" />
<line x1="425.00" y1="166.50" x2="425.00" y2="170.00" stroke="#000" stroke-width="1.4" />
<text x="425.00" y="185.80" font-size="11.6" text-anchor="middle" >17</text>
<line x1="436.75" y1="166.50" x2="436.75" y2="170.00" stroke="#000" stroke-width="1.4" />
<line x1="446.25" y1="166.50" x2="446.25" y2="170.00" stroke="#000" stroke-width="1.4" />
<text x="446.25" y="185.80" font-size="11.6" text-anchor="middle" >19</text>
<line x1="455.00" y1="166.50" x2="455.00" y2="170.00" stroke="#000" stroke-width="1.4" />
<line x1="464.00" y1="166.50" x2="464.00" y2="170.00" stroke="#000" stroke-width="1.4" />
<line x1="471.25" y1="166.50" x2="471.25" y2="170.00" stroke="#000" stroke-width="1.4" />
<text x="471.25" y="185.80" font-size="11.6" text-anchor="middle" >22</text>
<line x1="485.00" y1="166.50" x2="485.00" y2="170.00" stroke="#000" stroke-width="1.4" />
<text x="282.50" y="206.20" font-size="14.4" text-anchor="middle" textLength="59.2" lengthAdjust="spacingAndGlyphs" stroke="#000" stroke-width="0.4">Chromosome</text>
<text transform="translate(24.6,100.7) rotate(-90)" font-size="14" text-anchor="middle" stroke="#000" stroke-width="0.3" textLength="65.8" lengthAdjust="spacingAndGlyphs">-log<tspan font-size="10" dy="3">10</tspan><tspan dy="-3">(p-value)</tspan></text>
<line x1="49.30" y1="284.60" x2="405.80" y2="284.60" stroke="#E3361F" stroke-width="1.5" />
<polyline fill="none" stroke="#3B3BFF" stroke-width="1" points="50.3,456.0 50.9,360.0 52.0,344.7 54.2,358.0 54.6,455.5 89.5,455.5 91.0,453.5 94.2,456.5 103.4,456.5 104.0,453.5 124.0,455.0 125.2,455.0 125.8,423.0 127.0,438.5 135.2,438.8 135.6,456.0 146.5,456.0 147.0,440.0 148.0,440.0 148.5,456.0 150.3,456.0 150.8,439.0 151.6,456.0 158.0,455.0 160.0,451.0 162.0,455.0 164.0,451.0 165.0,455.0 215.8,456.0 215.8,439.0 221.2,441.0 222.7,456.5 242.7,456.5 244.0,454.2 252.0,454.2 254.0,455.5 263.5,455.5 263.9,429.6 264.6,455.8 272.2,455.8 272.6,424.2 274.5,425.8 276.5,454.2 289.5,454.2 290.3,445.0 293.4,454.2 334.2,454.2 334.6,456.5 446.0,456.2"/>
<g clip-path="url(#clipB)">
<circle cx="49.7" cy="432.8" r="2.7" fill="#000094" stroke="#3a3a32" stroke-width="0.8"/>
<circle cx="49.7" cy="439.2" r="2.7" fill="#000094" stroke="#3a3a32" stroke-width="0.8"/>
<circle cx="59.1" cy="440.1" r="2.7" fill="#000094" stroke="#3a3a32" stroke-width="0.8"/>
<circle cx="88.0" cy="425.3" r="2.7" fill="#000094" stroke="#3a3a32" stroke-width="0.8"/>
<circle cx="80.0" cy="440.1" r="2.7" fill="#000094" stroke="#3a3a32" stroke-width="0.8"/>
<circle cx="84.2" cy="440.1" r="2.7" fill="#000094" stroke="#3a3a32" stroke-width="0.8"/>
<circle cx="91.4" cy="440.1" r="2.7" fill="#000094" stroke="#3a3a32" stroke-width="0.8"/>
<circle cx="101.1" cy="438.5" r="2.7" fill="#000094" stroke="#3a3a32" stroke-width="0.8"/>
<circle cx="102.6" cy="441.2" r="2.7" fill="#000094" stroke="#3a3a32" stroke-width="0.8"/>
<circle cx="113.8" cy="447.0" r="2.7" fill="#000094" stroke="#3a3a32" stroke-width="0.8"/>
<circle cx="52.6" cy="445.0" r="2.7" fill="#000094" stroke="#3a3a32" stroke-width="0.8"/>
<circle cx="55.7" cy="446.0" r="2.7" fill="#000094" stroke="#3a3a32" stroke-width="0.8"/>
<circle cx="58.8" cy="446.0" r="2.7" fill="#000094" stroke="#3a3a32" stroke-width="0.8"/>
<circle cx="62.6" cy="445.5" r="2.7" fill="#000094" stroke="#3a3a32" stroke-width="0.8"/>
<circle cx="67.2" cy="445.0" r="2.7" fill="#000094" stroke="#3a3a32" stroke-width="0.8"/>
<circle cx="70.8" cy="448.0" r="2.7" fill="#000094" stroke="#3a3a32" stroke-width="0.8"/>
<circle cx="79.5" cy="448.0" r="2.7" fill="#000094" stroke="#3a3a32" stroke-width="0.8"/>
<circle cx="82.6" cy="450.0" r="2.7" fill="#000094" stroke="#3a3a32" stroke-width="0.8"/>
<circle cx="85.7" cy="447.0" r="2.7" fill="#000094" stroke="#3a3a32" stroke-width="0.8"/>
<circle cx="87.7" cy="445.5" r="2.7" fill="#000094" stroke="#3a3a32" stroke-width="0.8"/>
<circle cx="88.3" cy="452.0" r="2.7" fill="#000094" stroke="#3a3a32" stroke-width="0.8"/>
<circle cx="94.2" cy="445.0" r="2.7" fill="#000094" stroke="#3a3a32" stroke-width="0.8"/>
<circle cx="96.5" cy="450.0" r="2.7" fill="#000094" stroke="#3a3a32" stroke-width="0.8"/>
<circle cx="98.0" cy="447.0" r="2.7" fill="#000094" stroke="#3a3a32" stroke-width="0.8"/>
<circle cx="101.1" cy="448.0" r="2.7" fill="#000094" stroke="#3a3a32" stroke-width="0.8"/>
<circle cx="107.2" cy="447.0" r="2.7" fill="#000094" stroke="#3a3a32" stroke-width="0.8"/>
<circle cx="105.7" cy="452.0" r="2.7" fill="#000094" stroke="#3a3a32" stroke-width="0.8"/>
<circle cx="51.0" cy="452.0" r="2.7" fill="#000094" stroke="#3a3a32" stroke-width="0.8"/>
<circle cx="54.2" cy="453.0" r="2.7" fill="#000094" stroke="#3a3a32" stroke-width="0.8"/>
<circle cx="57.2" cy="454.0" r="2.7" fill="#000094" stroke="#3a3a32" stroke-width="0.8"/>
<circle cx="62.6" cy="453.0" r="2.7" fill="#000094" stroke="#3a3a32" stroke-width="0.8"/>
<circle cx="67.2" cy="453.5" r="2.7" fill="#000094" stroke="#3a3a32" stroke-width="0.8"/>
<circle cx="67.2" cy="455.8" r="2.7" fill="#000094" stroke="#3a3a32" stroke-width="0.8"/>
<circle cx="73.4" cy="455.0" r="2.7" fill="#000094" stroke="#3a3a32" stroke-width="0.8"/>
<circle cx="76.5" cy="454.0" r="2.7" fill="#000094" stroke="#3a3a32" stroke-width="0.8"/>
<circle cx="80.3" cy="452.0" r="2.7" fill="#000094" stroke="#3a3a32" stroke-width="0.8"/>
<circle cx="86.5" cy="455.0" r="2.7" fill="#000094" stroke="#3a3a32" stroke-width="0.8"/>
<circle cx="89.8" cy="456.7" r="2.7" fill="#000094" stroke="#3a3a32" stroke-width="0.8"/>
<circle cx="106.5" cy="455.0" r="2.7" fill="#000094" stroke="#3a3a32" stroke-width="0.8"/>
<circle cx="110.3" cy="455.0" r="2.7" fill="#000094" stroke="#3a3a32" stroke-width="0.8"/>
<circle cx="113.4" cy="455.0" r="2.7" fill="#000094" stroke="#3a3a32" stroke-width="0.8"/>
<circle cx="116.5" cy="455.0" r="2.7" fill="#000094" stroke="#3a3a32" stroke-width="0.8"/>
<circle cx="119.1" cy="453.5" r="2.7" fill="#000094" stroke="#3a3a32" stroke-width="0.8"/>
<circle cx="124.9" cy="452.0" r="2.7" fill="#000094" stroke="#3a3a32" stroke-width="0.8"/>
<circle cx="52.3" cy="419.7" r="2.7" fill="#000094" stroke="#3a3a32" stroke-width="0.8"/>
<circle cx="60.0" cy="420.5" r="2.7" fill="#000094" stroke="#3a3a32" stroke-width="0.8"/>
<circle cx="64.9" cy="420.0" r="2.7" fill="#000094" stroke="#3a3a32" stroke-width="0.8"/>
<circle cx="78.8" cy="422.3" r="2.7" fill="#000094" stroke="#3a3a32" stroke-width="0.8"/>
<circle cx="88.0" cy="424.6" r="2.7" fill="#000094" stroke="#3a3a32" stroke-width="0.8"/>
<circle cx="49.8" cy="432.0" r="2.7" fill="#000094" stroke="#3a3a32" stroke-width="0.8"/>
<circle cx="49.8" cy="439.2" r="2.7" fill="#000094" stroke="#3a3a32" stroke-width="0.8"/>
<circle cx="67.2" cy="445.4" r="2.7" fill="#000094" stroke="#3a3a32" stroke-width="0.8"/>
<circle cx="128.0" cy="406.2" r="2.7" fill="#000094" stroke="#3a3a32" stroke-width="0.8"/>
<circle cx="129.2" cy="417.7" r="2.7" fill="#000094" stroke="#3a3a32" stroke-width="0.8"/>
<circle cx="130.8" cy="416.2" r="2.7" fill="#000094" stroke="#3a3a32" stroke-width="0.8"/>
<circle cx="132.6" cy="415.4" r="2.7" fill="#000094" stroke="#3a3a32" stroke-width="0.8"/>
<circle cx="135.4" cy="414.2" r="2.7" fill="#000094" stroke="#3a3a32" stroke-width="0.8"/>
<circle cx="134.6" cy="419.7" r="2.7" fill="#000094" stroke="#3a3a32" stroke-width="0.8"/>
<circle cx="128.5" cy="420.0" r="2.7" fill="#000094" stroke="#3a3a32" stroke-width="0.8"/>
<circle cx="168.5" cy="413.4" r="2.7" fill="#000094" stroke="#3a3a32" stroke-width="0.8"/>
<circle cx="147.4" cy="423.8" r="2.7" fill="#000094" stroke="#3a3a32" stroke-width="0.8"/>
<circle cx="144.6" cy="426.9" r="2.7" fill="#000094" stroke="#3a3a32" stroke-width="0.8"/>
<circle cx="146.9" cy="431.5" r="2.7" fill="#000094" stroke="#3a3a32" stroke-width="0.8"/>
<circle cx="138.5" cy="429.2" r="2.7" fill="#000094" stroke="#3a3a32" stroke-width="0.8"/>
<circle cx="135.1" cy="431.5" r="2.7" fill="#000094" stroke="#3a3a32" stroke-width="0.8"/>
<circle cx="164.6" cy="430.0" r="2.7" fill="#000094" stroke="#3a3a32" stroke-width="0.8"/>
<circle cx="196.9" cy="415.4" r="2.7" fill="#000094" stroke="#3a3a32" stroke-width="0.8"/>
<circle cx="198.5" cy="420.8" r="2.7" fill="#000094" stroke="#3a3a32" stroke-width="0.8"/>
<circle cx="142.3" cy="436.9" r="2.7" fill="#000094" stroke="#3a3a32" stroke-width="0.8"/>
<circle cx="146.2" cy="438.5" r="2.7" fill="#000094" stroke="#3a3a32" stroke-width="0.8"/>
<circle cx="131.5" cy="439.2" r="2.7" fill="#000094" stroke="#3a3a32" stroke-width="0.8"/>
<circle cx="130.0" cy="441.5" r="2.7" fill="#000094" stroke="#3a3a32" stroke-width="0.8"/>
<circle cx="135.4" cy="442.8" r="2.7" fill="#000094" stroke="#3a3a32" stroke-width="0.8"/>
<circle cx="162.3" cy="436.2" r="2.7" fill="#000094" stroke="#3a3a32" stroke-width="0.8"/>
<circle cx="166.9" cy="436.9" r="2.7" fill="#000094" stroke="#3a3a32" stroke-width="0.8"/>
<circle cx="174.2" cy="436.9" r="2.7" fill="#000094" stroke="#3a3a32" stroke-width="0.8"/>
<circle cx="197.7" cy="437.7" r="2.7" fill="#000094" stroke="#3a3a32" stroke-width="0.8"/>
<circle cx="141.5" cy="440.8" r="2.7" fill="#000094" stroke="#3a3a32" stroke-width="0.8"/>
<circle cx="143.0" cy="444.6" r="2.7" fill="#000094" stroke="#3a3a32" stroke-width="0.8"/>
<circle cx="139.2" cy="446.2" r="2.7" fill="#000094" stroke="#3a3a32" stroke-width="0.8"/>
<circle cx="144.6" cy="448.5" r="2.7" fill="#000094" stroke="#3a3a32" stroke-width="0.8"/>
<circle cx="146.9" cy="443.0" r="2.7" fill="#000094" stroke="#3a3a32" stroke-width="0.8"/>
<circle cx="148.5" cy="446.2" r="2.7" fill="#000094" stroke="#3a3a32" stroke-width="0.8"/>
<circle cx="152.3" cy="445.4" r="2.7" fill="#000094" stroke="#3a3a32" stroke-width="0.8"/>
<circle cx="156.2" cy="443.8" r="2.7" fill="#000094" stroke="#3a3a32" stroke-width="0.8"/>
<circle cx="160.0" cy="442.3" r="2.7" fill="#000094" stroke="#3a3a32" stroke-width="0.8"/>
<circle cx="162.3" cy="440.3" r="2.7" fill="#000094" stroke="#3a3a32" stroke-width="0.8"/>
<circle cx="161.5" cy="444.6" r="2.7" fill="#000094" stroke="#3a3a32" stroke-width="0.8"/>
<circle cx="170.0" cy="446.2" r="2.7" fill="#000094" stroke="#3a3a32" stroke-width="0.8"/>
<circle cx="121.5" cy="452.3" r="2.7" fill="#000094" stroke="#3a3a32" stroke-width="0.8"/>
<circle cx="126.2" cy="450.8" r="2.7" fill="#000094" stroke="#3a3a32" stroke-width="0.8"/>
<circle cx="130.0" cy="452.3" r="2.7" fill="#000094" stroke="#3a3a32" stroke-width="0.8"/>
<circle cx="137.7" cy="451.5" r="2.7" fill="#000094" stroke="#3a3a32" stroke-width="0.8"/>
<circle cx="138.5" cy="455.4" r="2.7" fill="#000094" stroke="#3a3a32" stroke-width="0.8"/>
<circle cx="153.1" cy="455.1" r="2.7" fill="#000094" stroke="#3a3a32" stroke-width="0.8"/>
<circle cx="167.0" cy="452.0" r="2.7" fill="#000094" stroke="#3a3a32" stroke-width="0.8"/>
<circle cx="170.0" cy="455.0" r="2.7" fill="#000094" stroke="#3a3a32" stroke-width="0.8"/>
<circle cx="172.0" cy="451.0" r="2.7" fill="#000094" stroke="#3a3a32" stroke-width="0.8"/>
<circle cx="175.0" cy="454.0" r="2.7" fill="#000094" stroke="#3a3a32" stroke-width="0.8"/>
<circle cx="178.0" cy="452.0" r="2.7" fill="#000094" stroke="#3a3a32" stroke-width="0.8"/>
<circle cx="181.0" cy="455.0" r="2.7" fill="#000094" stroke="#3a3a32" stroke-width="0.8"/>
<circle cx="184.0" cy="452.0" r="2.7" fill="#000094" stroke="#3a3a32" stroke-width="0.8"/>
<circle cx="187.0" cy="455.0" r="2.7" fill="#000094" stroke="#3a3a32" stroke-width="0.8"/>
<circle cx="188.0" cy="449.0" r="2.7" fill="#000094" stroke="#3a3a32" stroke-width="0.8"/>
<circle cx="190.0" cy="453.0" r="2.7" fill="#000094" stroke="#3a3a32" stroke-width="0.8"/>
<circle cx="193.0" cy="455.0" r="2.7" fill="#000094" stroke="#3a3a32" stroke-width="0.8"/>
<circle cx="193.0" cy="449.0" r="2.7" fill="#000094" stroke="#3a3a32" stroke-width="0.8"/>
<circle cx="196.0" cy="452.0" r="2.7" fill="#000094" stroke="#3a3a32" stroke-width="0.8"/>
<circle cx="199.0" cy="455.0" r="2.7" fill="#000094" stroke="#3a3a32" stroke-width="0.8"/>
<circle cx="198.0" cy="446.0" r="2.7" fill="#000094" stroke="#3a3a32" stroke-width="0.8"/>
<circle cx="192.3" cy="446.5" r="2.7" fill="#000094" stroke="#3a3a32" stroke-width="0.8"/>
<circle cx="188.5" cy="447.7" r="2.7" fill="#000094" stroke="#3a3a32" stroke-width="0.8"/>
<circle cx="141.0" cy="369.5" r="2.7" fill="#000094" stroke="#3a3a32" stroke-width="0.8"/>
<circle cx="233.2" cy="397.8" r="2.7" fill="#000094" stroke="#3a3a32" stroke-width="0.8"/>
<circle cx="253.2" cy="398.8" r="2.7" fill="#000094" stroke="#3a3a32" stroke-width="0.8"/>
<circle cx="247.6" cy="406.1" r="2.7" fill="#000094" stroke="#3a3a32" stroke-width="0.8"/>
<circle cx="227.6" cy="409.9" r="2.7" fill="#000094" stroke="#3a3a32" stroke-width="0.8"/>
<circle cx="233.2" cy="409.9" r="2.7" fill="#000094" stroke="#3a3a32" stroke-width="0.8"/>
<circle cx="238.1" cy="409.9" r="2.7" fill="#000094" stroke="#3a3a32" stroke-width="0.8"/>
<circle cx="269.2" cy="411.2" r="2.7" fill="#000094" stroke="#3a3a32" stroke-width="0.8"/>
<circle cx="272.7" cy="413.5" r="2.7" fill="#000094" stroke="#3a3a32" stroke-width="0.8"/>
<circle cx="197.3" cy="415.3" r="2.7" fill="#000094" stroke="#3a3a32" stroke-width="0.8"/>
<circle cx="198.4" cy="421.2" r="2.7" fill="#000094" stroke="#3a3a32" stroke-width="0.8"/>
<circle cx="201.2" cy="420.4" r="2.7" fill="#000094" stroke="#3a3a32" stroke-width="0.8"/>
<circle cx="208.5" cy="424.5" r="2.7" fill="#000094" stroke="#3a3a32" stroke-width="0.8"/>
<circle cx="215.0" cy="424.5" r="2.7" fill="#000094" stroke="#3a3a32" stroke-width="0.8"/>
<circle cx="218.1" cy="427.0" r="2.7" fill="#000094" stroke="#3a3a32" stroke-width="0.8"/>
<circle cx="214.2" cy="428.8" r="2.7" fill="#000094" stroke="#3a3a32" stroke-width="0.8"/>
<circle cx="218.8" cy="429.6" r="2.7" fill="#000094" stroke="#3a3a32" stroke-width="0.8"/>
<circle cx="224.2" cy="423.0" r="2.7" fill="#000094" stroke="#3a3a32" stroke-width="0.8"/>
<circle cx="223.0" cy="431.6" r="2.7" fill="#000094" stroke="#3a3a32" stroke-width="0.8"/>
<circle cx="218.8" cy="433.5" r="2.7" fill="#000094" stroke="#3a3a32" stroke-width="0.8"/>
<circle cx="218.4" cy="435.8" r="2.7" fill="#000094" stroke="#3a3a32" stroke-width="0.8"/>
<circle cx="205.8" cy="434.7" r="2.7" fill="#000094" stroke="#3a3a32" stroke-width="0.8"/>
<circle cx="206.5" cy="436.2" r="2.7" fill="#000094" stroke="#3a3a32" stroke-width="0.8"/>
<circle cx="198.4" cy="438.1" r="2.7" fill="#000094" stroke="#3a3a32" stroke-width="0.8"/>
<circle cx="207.3" cy="441.2" r="2.7" fill="#000094" stroke="#3a3a32" stroke-width="0.8"/>
<circle cx="211.6" cy="444.2" r="2.7" fill="#000094" stroke="#3a3a32" stroke-width="0.8"/>
<circle cx="214.2" cy="441.9" r="2.7" fill="#000094" stroke="#3a3a32" stroke-width="0.8"/>
<circle cx="216.5" cy="445.8" r="2.7" fill="#000094" stroke="#3a3a32" stroke-width="0.8"/>
<circle cx="214.2" cy="448.1" r="2.7" fill="#000094" stroke="#3a3a32" stroke-width="0.8"/>
<circle cx="231.9" cy="443.5" r="2.7" fill="#000094" stroke="#3a3a32" stroke-width="0.8"/>
<circle cx="233.5" cy="447.3" r="2.7" fill="#000094" stroke="#3a3a32" stroke-width="0.8"/>
<circle cx="231.9" cy="445.8" r="2.7" fill="#000094" stroke="#3a3a32" stroke-width="0.8"/>
<circle cx="241.9" cy="451.2" r="2.7" fill="#000094" stroke="#3a3a32" stroke-width="0.8"/>
<circle cx="247.3" cy="448.8" r="2.7" fill="#000094" stroke="#3a3a32" stroke-width="0.8"/>
<circle cx="251.2" cy="443.9" r="2.7" fill="#000094" stroke="#3a3a32" stroke-width="0.8"/>
<circle cx="252.7" cy="446.5" r="2.7" fill="#000094" stroke="#3a3a32" stroke-width="0.8"/>
<circle cx="253.5" cy="449.6" r="2.7" fill="#000094" stroke="#3a3a32" stroke-width="0.8"/>
<circle cx="258.8" cy="443.0" r="2.7" fill="#000094" stroke="#3a3a32" stroke-width="0.8"/>
<circle cx="261.2" cy="448.1" r="2.7" fill="#000094" stroke="#3a3a32" stroke-width="0.8"/>
<circle cx="265.0" cy="447.3" r="2.7" fill="#000094" stroke="#3a3a32" stroke-width="0.8"/>
<circle cx="268.1" cy="448.8" r="2.7" fill="#000094" stroke="#3a3a32" stroke-width="0.8"/>
<circle cx="271.2" cy="451.2" r="2.7" fill="#000094" stroke="#3a3a32" stroke-width="0.8"/>
<circle cx="272.7" cy="433.2" r="2.7" fill="#000094" stroke="#3a3a32" stroke-width="0.8"/>
<circle cx="273.5" cy="442.7" r="2.7" fill="#000094" stroke="#3a3a32" stroke-width="0.8"/>
<circle cx="272.7" cy="419.6" r="2.7" fill="#000094" stroke="#3a3a32" stroke-width="0.8"/>
<circle cx="197.3" cy="450.4" r="2.7" fill="#000094" stroke="#3a3a32" stroke-width="0.8"/>
<circle cx="199.6" cy="452.7" r="2.7" fill="#000094" stroke="#3a3a32" stroke-width="0.8"/>
<circle cx="201.9" cy="455.8" r="2.7" fill="#000094" stroke="#3a3a32" stroke-width="0.8"/>
<circle cx="205.8" cy="453.5" r="2.7" fill="#000094" stroke="#3a3a32" stroke-width="0.8"/>
<circle cx="207.0" cy="456.5" r="2.7" fill="#000094" stroke="#3a3a32" stroke-width="0.8"/>
<circle cx="210.4" cy="453.5" r="2.7" fill="#000094" stroke="#3a3a32" stroke-width="0.8"/>
<circle cx="213.5" cy="452.7" r="2.7" fill="#000094" stroke="#3a3a32" stroke-width="0.8"/>
<circle cx="215.0" cy="449.6" r="2.7" fill="#000094" stroke="#3a3a32" stroke-width="0.8"/>
<circle cx="217.3" cy="448.8" r="2.7" fill="#000094" stroke="#3a3a32" stroke-width="0.8"/>
<circle cx="227.3" cy="456.5" r="2.7" fill="#000094" stroke="#3a3a32" stroke-width="0.8"/>
<circle cx="235.8" cy="452.7" r="2.7" fill="#000094" stroke="#3a3a32" stroke-width="0.8"/>
<circle cx="235.8" cy="456.5" r="2.7" fill="#000094" stroke="#3a3a32" stroke-width="0.8"/>
<circle cx="239.6" cy="456.5" r="2.7" fill="#000094" stroke="#3a3a32" stroke-width="0.8"/>
<circle cx="256.5" cy="456.5" r="2.7" fill="#000094" stroke="#3a3a32" stroke-width="0.8"/>
<circle cx="259.6" cy="456.5" r="2.7" fill="#000094" stroke="#3a3a32" stroke-width="0.8"/>
<circle cx="251.5" cy="381.0" r="2.7" fill="#000094" stroke="#3a3a32" stroke-width="0.8"/>
<circle cx="274.4" cy="385.2" r="2.7" fill="#000094" stroke="#3a3a32" stroke-width="0.8"/>
<circle cx="253.5" cy="398.8" r="2.7" fill="#000094" stroke="#3a3a32" stroke-width="0.8"/>
<circle cx="233.0" cy="397.7" r="2.7" fill="#000094" stroke="#3a3a32" stroke-width="0.8"/>
<circle cx="264.8" cy="400.8" r="2.7" fill="#000094" stroke="#3a3a32" stroke-width="0.8"/>
<circle cx="294.8" cy="402.7" r="2.7" fill="#000094" stroke="#3a3a32" stroke-width="0.8"/>
<circle cx="227.9" cy="409.4" r="2.7" fill="#000094" stroke="#3a3a32" stroke-width="0.8"/>
<circle cx="268.8" cy="411.2" r="2.7" fill="#000094" stroke="#3a3a32" stroke-width="0.8"/>
<circle cx="273.1" cy="413.3" r="2.7" fill="#000094" stroke="#3a3a32" stroke-width="0.8"/>
<circle cx="275.4" cy="419.8" r="2.7" fill="#000094" stroke="#3a3a32" stroke-width="0.8"/>
<circle cx="201.5" cy="420.8" r="2.7" fill="#000094" stroke="#3a3a32" stroke-width="0.8"/>
<circle cx="208.0" cy="424.2" r="2.7" fill="#000094" stroke="#3a3a32" stroke-width="0.8"/>
<circle cx="215.4" cy="424.6" r="2.7" fill="#000094" stroke="#3a3a32" stroke-width="0.8"/>
<circle cx="224.0" cy="423.3" r="2.7" fill="#000094" stroke="#3a3a32" stroke-width="0.8"/>
<circle cx="278.8" cy="427.1" r="2.7" fill="#000094" stroke="#3a3a32" stroke-width="0.8"/>
<circle cx="299.0" cy="414.6" r="2.7" fill="#000094" stroke="#3a3a32" stroke-width="0.8"/>
<circle cx="294.9" cy="402.7" r="2.7" fill="#000094" stroke="#3a3a32" stroke-width="0.8"/>
<circle cx="269.5" cy="411.2" r="2.7" fill="#000094" stroke="#3a3a32" stroke-width="0.8"/>
<circle cx="273.4" cy="413.5" r="2.7" fill="#000094" stroke="#3a3a32" stroke-width="0.8"/>
<circle cx="275.4" cy="419.6" r="2.7" fill="#000094" stroke="#3a3a32" stroke-width="0.8"/>
<circle cx="300.6" cy="414.2" r="2.7" fill="#000094" stroke="#3a3a32" stroke-width="0.8"/>
<circle cx="314.9" cy="415.8" r="2.7" fill="#000094" stroke="#3a3a32" stroke-width="0.8"/>
<circle cx="319.8" cy="419.2" r="2.7" fill="#000094" stroke="#3a3a32" stroke-width="0.8"/>
<circle cx="279.1" cy="427.3" r="2.7" fill="#000094" stroke="#3a3a32" stroke-width="0.8"/>
<circle cx="302.2" cy="423.0" r="2.7" fill="#000094" stroke="#3a3a32" stroke-width="0.8"/>
<circle cx="299.5" cy="426.5" r="2.7" fill="#000094" stroke="#3a3a32" stroke-width="0.8"/>
<circle cx="304.2" cy="428.1" r="2.7" fill="#000094" stroke="#3a3a32" stroke-width="0.8"/>
<circle cx="307.2" cy="431.2" r="2.7" fill="#000094" stroke="#3a3a32" stroke-width="0.8"/>
<circle cx="303.4" cy="434.2" r="2.7" fill="#000094" stroke="#3a3a32" stroke-width="0.8"/>
<circle cx="307.7" cy="436.5" r="2.7" fill="#000094" stroke="#3a3a32" stroke-width="0.8"/>
<circle cx="311.8" cy="427.3" r="2.7" fill="#000094" stroke="#3a3a32" stroke-width="0.8"/>
<circle cx="316.0" cy="432.4" r="2.7" fill="#000094" stroke="#3a3a32" stroke-width="0.8"/>
<circle cx="314.9" cy="436.8" r="2.7" fill="#000094" stroke="#3a3a32" stroke-width="0.8"/>
<circle cx="281.8" cy="431.9" r="2.7" fill="#000094" stroke="#3a3a32" stroke-width="0.8"/>
<circle cx="273.4" cy="432.7" r="2.7" fill="#000094" stroke="#3a3a32" stroke-width="0.8"/>
<circle cx="277.2" cy="437.3" r="2.7" fill="#000094" stroke="#3a3a32" stroke-width="0.8"/>
<circle cx="283.4" cy="435.8" r="2.7" fill="#000094" stroke="#3a3a32" stroke-width="0.8"/>
<circle cx="287.2" cy="438.5" r="2.7" fill="#000094" stroke="#3a3a32" stroke-width="0.8"/>
<circle cx="274.9" cy="442.7" r="2.7" fill="#000094" stroke="#3a3a32" stroke-width="0.8"/>
<circle cx="301.1" cy="444.2" r="2.7" fill="#000094" stroke="#3a3a32" stroke-width="0.8"/>
<circle cx="344.9" cy="433.8" r="2.7" fill="#000094" stroke="#3a3a32" stroke-width="0.8"/>
<circle cx="321.5" cy="441.9" r="2.7" fill="#000094" stroke="#3a3a32" stroke-width="0.8"/>
<circle cx="323.4" cy="444.2" r="2.7" fill="#000094" stroke="#3a3a32" stroke-width="0.8"/>
<circle cx="268.8" cy="448.8" r="2.7" fill="#000094" stroke="#3a3a32" stroke-width="0.8"/>
<circle cx="271.4" cy="451.2" r="2.7" fill="#000094" stroke="#3a3a32" stroke-width="0.8"/>
<circle cx="284.2" cy="448.1" r="2.7" fill="#000094" stroke="#3a3a32" stroke-width="0.8"/>
<circle cx="286.2" cy="450.7" r="2.7" fill="#000094" stroke="#3a3a32" stroke-width="0.8"/>
<circle cx="285.2" cy="456.2" r="2.7" fill="#000094" stroke="#3a3a32" stroke-width="0.8"/>
<circle cx="290.3" cy="456.2" r="2.7" fill="#000094" stroke="#3a3a32" stroke-width="0.8"/>
<circle cx="294.9" cy="453.5" r="2.7" fill="#000094" stroke="#3a3a32" stroke-width="0.8"/>
<circle cx="310.3" cy="449.2" r="2.7" fill="#000094" stroke="#3a3a32" stroke-width="0.8"/>
<circle cx="314.9" cy="448.1" r="2.7" fill="#000094" stroke="#3a3a32" stroke-width="0.8"/>
<circle cx="311.8" cy="454.2" r="2.7" fill="#000094" stroke="#3a3a32" stroke-width="0.8"/>
<circle cx="314.2" cy="451.9" r="2.7" fill="#000094" stroke="#3a3a32" stroke-width="0.8"/>
<circle cx="318.0" cy="454.2" r="2.7" fill="#000094" stroke="#3a3a32" stroke-width="0.8"/>
<circle cx="318.8" cy="456.5" r="2.7" fill="#000094" stroke="#3a3a32" stroke-width="0.8"/>
<circle cx="345.4" cy="433.4" r="2.7" fill="#000094" stroke="#3a3a32" stroke-width="0.8"/>
<circle cx="361.8" cy="432.3" r="2.7" fill="#000094" stroke="#3a3a32" stroke-width="0.8"/>
<circle cx="389.2" cy="430.3" r="2.7" fill="#000094" stroke="#3a3a32" stroke-width="0.8"/>
<circle cx="397.2" cy="433.8" r="2.7" fill="#000094" stroke="#3a3a32" stroke-width="0.8"/>
<circle cx="382.3" cy="438.9" r="2.7" fill="#000094" stroke="#3a3a32" stroke-width="0.8"/>
<circle cx="397.2" cy="439.5" r="2.7" fill="#000094" stroke="#3a3a32" stroke-width="0.8"/>
<circle cx="401.2" cy="439.5" r="2.7" fill="#000094" stroke="#3a3a32" stroke-width="0.8"/>
<circle cx="408.0" cy="438.9" r="2.7" fill="#000094" stroke="#3a3a32" stroke-width="0.8"/>
<circle cx="370.8" cy="442.0" r="2.7" fill="#000094" stroke="#3a3a32" stroke-width="0.8"/>
<circle cx="347.4" cy="443.5" r="2.7" fill="#000094" stroke="#3a3a32" stroke-width="0.8"/>
<circle cx="386.2" cy="444.2" r="2.7" fill="#000094" stroke="#3a3a32" stroke-width="0.8"/>
<circle cx="349.2" cy="454.6" r="2.7" fill="#000094" stroke="#3a3a32" stroke-width="0.8"/>
<circle cx="363.8" cy="456.2" r="2.7" fill="#000094" stroke="#3a3a32" stroke-width="0.8"/>
<circle cx="372.3" cy="456.2" r="2.7" fill="#000094" stroke="#3a3a32" stroke-width="0.8"/>
<circle cx="379.2" cy="455.8" r="2.7" fill="#000094" stroke="#3a3a32" stroke-width="0.8"/>
<circle cx="393.1" cy="456.2" r="2.7" fill="#000094" stroke="#3a3a32" stroke-width="0.8"/>
<circle cx="400.0" cy="455.8" r="2.7" fill="#000094" stroke="#3a3a32" stroke-width="0.8"/>
<circle cx="418.5" cy="456.2" r="2.7" fill="#000094" stroke="#3a3a32" stroke-width="0.8"/>
<circle cx="424.1" cy="430.9" r="2.7" fill="#000094" stroke="#3a3a32" stroke-width="0.8"/>
<circle cx="426.4" cy="429.5" r="2.7" fill="#000094" stroke="#3a3a32" stroke-width="0.8"/>
<circle cx="431.4" cy="435.8" r="2.7" fill="#000094" stroke="#3a3a32" stroke-width="0.8"/>
<circle cx="433.8" cy="436.6" r="2.7" fill="#000094" stroke="#3a3a32" stroke-width="0.8"/>
<circle cx="444.3" cy="435.6" r="2.7" fill="#000094" stroke="#3a3a32" stroke-width="0.8"/>
<circle cx="382.4" cy="439.3" r="2.7" fill="#000094" stroke="#3a3a32" stroke-width="0.8"/>
<circle cx="396.8" cy="439.9" r="2.7" fill="#000094" stroke="#3a3a32" stroke-width="0.8"/>
<circle cx="401.3" cy="439.9" r="2.7" fill="#000094" stroke="#3a3a32" stroke-width="0.8"/>
<circle cx="408.3" cy="438.9" r="2.7" fill="#000094" stroke="#3a3a32" stroke-width="0.8"/>
<circle cx="429.1" cy="440.3" r="2.7" fill="#000094" stroke="#3a3a32" stroke-width="0.8"/>
<circle cx="441.2" cy="441.6" r="2.7" fill="#000094" stroke="#3a3a32" stroke-width="0.8"/>
<circle cx="419.3" cy="443.9" r="2.7" fill="#000094" stroke="#3a3a32" stroke-width="0.8"/>
<circle cx="386.1" cy="443.9" r="2.7" fill="#000094" stroke="#3a3a32" stroke-width="0.8"/>
<circle cx="393.2" cy="456.4" r="2.7" fill="#000094" stroke="#3a3a32" stroke-width="0.8"/>
<circle cx="399.5" cy="456.4" r="2.7" fill="#000094" stroke="#3a3a32" stroke-width="0.8"/>
<circle cx="402.2" cy="457.1" r="2.7" fill="#000094" stroke="#3a3a32" stroke-width="0.8"/>
<circle cx="419.0" cy="457.0" r="2.7" fill="#000094" stroke="#3a3a32" stroke-width="0.8"/>
<circle cx="423.7" cy="456.4" r="2.7" fill="#000094" stroke="#3a3a32" stroke-width="0.8"/>
<circle cx="437.6" cy="456.4" r="2.7" fill="#000094" stroke="#3a3a32" stroke-width="0.8"/>
<circle cx="83.9" cy="451.3" r="2.7" fill="#000094" stroke="#3a3a32" stroke-width="0.8"/>
<circle cx="119.3" cy="450.1" r="2.7" fill="#000094" stroke="#3a3a32" stroke-width="0.8"/>
<circle cx="88.1" cy="451.6" r="2.7" fill="#000094" stroke="#3a3a32" stroke-width="0.8"/>
<circle cx="63.8" cy="450.7" r="2.7" fill="#000094" stroke="#3a3a32" stroke-width="0.8"/>
<circle cx="97.2" cy="454.3" r="2.7" fill="#000094" stroke="#3a3a32" stroke-width="0.8"/>
<circle cx="57.1" cy="447.9" r="2.7" fill="#000094" stroke="#3a3a32" stroke-width="0.8"/>
<circle cx="56.8" cy="454.5" r="2.7" fill="#000094" stroke="#3a3a32" stroke-width="0.8"/>
<circle cx="102.0" cy="444.5" r="2.7" fill="#000094" stroke="#3a3a32" stroke-width="0.8"/>
<circle cx="123.7" cy="456.5" r="2.7" fill="#000094" stroke="#3a3a32" stroke-width="0.8"/>
<circle cx="99.0" cy="452.0" r="2.7" fill="#000094" stroke="#3a3a32" stroke-width="0.8"/>
<circle cx="61.8" cy="444.2" r="2.7" fill="#000094" stroke="#3a3a32" stroke-width="0.8"/>
<circle cx="89.6" cy="444.8" r="2.7" fill="#000094" stroke="#3a3a32" stroke-width="0.8"/>
<circle cx="64.3" cy="447.1" r="2.7" fill="#000094" stroke="#3a3a32" stroke-width="0.8"/>
<circle cx="52.3" cy="450.0" r="2.7" fill="#000094" stroke="#3a3a32" stroke-width="0.8"/>
<circle cx="155.2" cy="455.3" r="2.7" fill="#000094" stroke="#3a3a32" stroke-width="0.8"/>
<circle cx="161.5" cy="453.0" r="2.7" fill="#000094" stroke="#3a3a32" stroke-width="0.8"/>
<circle cx="160.0" cy="453.3" r="2.7" fill="#000094" stroke="#3a3a32" stroke-width="0.8"/>
<circle cx="156.6" cy="449.1" r="2.7" fill="#000094" stroke="#3a3a32" stroke-width="0.8"/>
<circle cx="199.8" cy="457.0" r="2.7" fill="#000094" stroke="#3a3a32" stroke-width="0.8"/>
<circle cx="187.2" cy="453.8" r="2.7" fill="#000094" stroke="#3a3a32" stroke-width="0.8"/>
<circle cx="223.6" cy="449.3" r="2.7" fill="#000094" stroke="#3a3a32" stroke-width="0.8"/>
<circle cx="221.7" cy="447.7" r="2.7" fill="#000094" stroke="#3a3a32" stroke-width="0.8"/>
<circle cx="257.5" cy="451.0" r="2.7" fill="#000094" stroke="#3a3a32" stroke-width="0.8"/>
<circle cx="263.5" cy="450.9" r="2.7" fill="#000094" stroke="#3a3a32" stroke-width="0.8"/>
<circle cx="271.9" cy="455.5" r="2.7" fill="#000094" stroke="#3a3a32" stroke-width="0.8"/>
<circle cx="200.0" cy="449.1" r="2.7" fill="#000094" stroke="#3a3a32" stroke-width="0.8"/>
<circle cx="268.3" cy="451.7" r="2.7" fill="#000094" stroke="#3a3a32" stroke-width="0.8"/>
<circle cx="273.5" cy="451.0" r="2.7" fill="#000094" stroke="#3a3a32" stroke-width="0.8"/>
<circle cx="205.5" cy="453.3" r="2.7" fill="#000094" stroke="#3a3a32" stroke-width="0.8"/>
<circle cx="258.4" cy="449.7" r="2.7" fill="#000094" stroke="#3a3a32" stroke-width="0.8"/>
<circle cx="278.9" cy="449.7" r="2.7" fill="#000094" stroke="#3a3a32" stroke-width="0.8"/>
<circle cx="318.4" cy="454.3" r="2.7" fill="#000094" stroke="#3a3a32" stroke-width="0.8"/>
<circle cx="280.3" cy="448.7" r="2.7" fill="#000094" stroke="#3a3a32" stroke-width="0.8"/>
<circle cx="279.5" cy="446.7" r="2.7" fill="#000094" stroke="#3a3a32" stroke-width="0.8"/>
<circle cx="310.9" cy="448.0" r="2.7" fill="#000094" stroke="#3a3a32" stroke-width="0.8"/>
<circle cx="300.2" cy="450.9" r="2.7" fill="#000094" stroke="#3a3a32" stroke-width="0.8"/>
<circle cx="283.6" cy="454.1" r="2.7" fill="#000094" stroke="#3a3a32" stroke-width="0.8"/>
<circle cx="280.9" cy="453.1" r="2.7" fill="#000094" stroke="#3a3a32" stroke-width="0.8"/>
<circle cx="280.2" cy="450.6" r="2.7" fill="#000094" stroke="#3a3a32" stroke-width="0.8"/>
<circle cx="284.6" cy="449.0" r="2.7" fill="#000094" stroke="#3a3a32" stroke-width="0.8"/>
<circle cx="318.7" cy="454.8" r="2.7" fill="#000094" stroke="#3a3a32" stroke-width="0.8"/>
<circle cx="288.7" cy="455.7" r="2.7" fill="#000094" stroke="#3a3a32" stroke-width="0.8"/>
<circle cx="284.5" cy="450.3" r="2.7" fill="#000094" stroke="#3a3a32" stroke-width="0.8"/>
<circle cx="313.4" cy="453.1" r="2.7" fill="#000094" stroke="#3a3a32" stroke-width="0.8"/>
<circle cx="332.6" cy="456.9" r="2.7" fill="#000094" stroke="#3a3a32" stroke-width="0.8"/>
<circle cx="346.9" cy="446.6" r="2.7" fill="#000094" stroke="#3a3a32" stroke-width="0.8"/>
<circle cx="417.4" cy="447.6" r="2.7" fill="#000094" stroke="#3a3a32" stroke-width="0.8"/>
<circle cx="357.3" cy="444.0" r="2.7" fill="#000094" stroke="#3a3a32" stroke-width="0.8"/>
<circle cx="331.4" cy="451.2" r="2.7" fill="#000094" stroke="#3a3a32" stroke-width="0.8"/>
<circle cx="350.6" cy="451.4" r="2.7" fill="#000094" stroke="#3a3a32" stroke-width="0.8"/>
<circle cx="366.8" cy="449.3" r="2.7" fill="#000094" stroke="#3a3a32" stroke-width="0.8"/>
<circle cx="440.9" cy="449.8" r="2.7" fill="#000094" stroke="#3a3a32" stroke-width="0.8"/>
<circle cx="392.4" cy="455.1" r="2.7" fill="#000094" stroke="#3a3a32" stroke-width="0.8"/>
<circle cx="343.0" cy="445.2" r="2.7" fill="#000094" stroke="#3a3a32" stroke-width="0.8"/>
<circle cx="434.5" cy="454.4" r="2.7" fill="#000094" stroke="#3a3a32" stroke-width="0.8"/>
<circle cx="351.4" cy="445.7" r="2.7" fill="#000094" stroke="#3a3a32" stroke-width="0.8"/>
<circle cx="413.2" cy="456.2" r="2.7" fill="#000094" stroke="#3a3a32" stroke-width="0.8"/>
<circle cx="344.8" cy="456.3" r="2.7" fill="#000094" stroke="#3a3a32" stroke-width="0.8"/>
<circle cx="431.2" cy="451.4" r="2.7" fill="#000094" stroke="#3a3a32" stroke-width="0.8"/>
<circle cx="373.1" cy="444.5" r="2.7" fill="#000094" stroke="#3a3a32" stroke-width="0.8"/>
<circle cx="324.9" cy="456.5" r="2.7" fill="#000094" stroke="#3a3a32" stroke-width="0.8"/>
<circle cx="350.0" cy="452.9" r="2.7" fill="#000094" stroke="#3a3a32" stroke-width="0.8"/>
<circle cx="352.4" cy="454.5" r="2.7" fill="#000094" stroke="#3a3a32" stroke-width="0.8"/>
<circle cx="395.2" cy="447.1" r="2.7" fill="#000094" stroke="#3a3a32" stroke-width="0.8"/>
<circle cx="342.1" cy="453.1" r="2.7" fill="#000094" stroke="#3a3a32" stroke-width="0.8"/>
<circle cx="328.7" cy="446.2" r="2.7" fill="#000094" stroke="#3a3a32" stroke-width="0.8"/>
<circle cx="390.5" cy="454.9" r="2.7" fill="#000094" stroke="#3a3a32" stroke-width="0.8"/>
<circle cx="397.4" cy="446.9" r="2.7" fill="#000094" stroke="#3a3a32" stroke-width="0.8"/>
<circle cx="435.6" cy="445.9" r="2.7" fill="#000094" stroke="#3a3a32" stroke-width="0.8"/>
<circle cx="322.1" cy="446.8" r="2.7" fill="#000094" stroke="#3a3a32" stroke-width="0.8"/>
<circle cx="376.2" cy="443.8" r="2.7" fill="#000094" stroke="#3a3a32" stroke-width="0.8"/>
<circle cx="342.2" cy="448.2" r="2.7" fill="#000094" stroke="#3a3a32" stroke-width="0.8"/>
<circle cx="392.1" cy="444.8" r="2.7" fill="#000094" stroke="#3a3a32" stroke-width="0.8"/>
<circle cx="365.6" cy="455.5" r="2.7" fill="#000094" stroke="#3a3a32" stroke-width="0.8"/>
<circle cx="443.5" cy="452.2" r="2.7" fill="#000094" stroke="#3a3a32" stroke-width="0.8"/>
<circle cx="407.1" cy="451.2" r="2.7" fill="#000094" stroke="#3a3a32" stroke-width="0.8"/>
<circle cx="337.7" cy="443.5" r="2.7" fill="#000094" stroke="#3a3a32" stroke-width="0.8"/>
<circle cx="322.3" cy="455.7" r="2.7" fill="#000094" stroke="#3a3a32" stroke-width="0.8"/>
<circle cx="408.3" cy="456.5" r="2.7" fill="#000094" stroke="#3a3a32" stroke-width="0.8"/>
<circle cx="322.7" cy="451.9" r="2.7" fill="#000094" stroke="#3a3a32" stroke-width="0.8"/>
<circle cx="380.8" cy="453.2" r="2.7" fill="#000094" stroke="#3a3a32" stroke-width="0.8"/>
<circle cx="360.2" cy="457.0" r="2.7" fill="#000094" stroke="#3a3a32" stroke-width="0.8"/>
<circle cx="329.5" cy="450.6" r="2.7" fill="#000094" stroke="#3a3a32" stroke-width="0.8"/>
<circle cx="412.9" cy="455.6" r="2.7" fill="#000094" stroke="#3a3a32" stroke-width="0.8"/>
<circle cx="412.9" cy="452.9" r="2.7" fill="#000094" stroke="#3a3a32" stroke-width="0.8"/>
<circle cx="420.0" cy="455.8" r="2.7" fill="#000094" stroke="#3a3a32" stroke-width="0.8"/>
<circle cx="364.3" cy="452.6" r="2.7" fill="#000094" stroke="#3a3a32" stroke-width="0.8"/>
<circle cx="433.5" cy="455.2" r="2.7" fill="#000094" stroke="#3a3a32" stroke-width="0.8"/>
<circle cx="372.6" cy="454.1" r="2.7" fill="#000094" stroke="#3a3a32" stroke-width="0.8"/>
<circle cx="428.8" cy="451.0" r="2.7" fill="#000094" stroke="#3a3a32" stroke-width="0.8"/>
<circle cx="398.7" cy="448.4" r="2.7" fill="#000094" stroke="#3a3a32" stroke-width="0.8"/>
<circle cx="393.4" cy="451.5" r="2.7" fill="#000094" stroke="#3a3a32" stroke-width="0.8"/>
<circle cx="330.1" cy="452.0" r="2.7" fill="#000094" stroke="#3a3a32" stroke-width="0.8"/>
<circle cx="445.2" cy="455.3" r="2.7" fill="#000094" stroke="#3a3a32" stroke-width="0.8"/>
<circle cx="411.8" cy="448.4" r="2.7" fill="#000094" stroke="#3a3a32" stroke-width="0.8"/>
<circle cx="412.6" cy="451.1" r="2.7" fill="#000094" stroke="#3a3a32" stroke-width="0.8"/>
<circle cx="375.5" cy="454.7" r="2.7" fill="#000094" stroke="#3a3a32" stroke-width="0.8"/>
<circle cx="330.6" cy="453.5" r="2.7" fill="#000094" stroke="#3a3a32" stroke-width="0.8"/>
<circle cx="323.8" cy="451.4" r="2.7" fill="#000094" stroke="#3a3a32" stroke-width="0.8"/>
<circle cx="380.6" cy="446.2" r="2.7" fill="#000094" stroke="#3a3a32" stroke-width="0.8"/>
<circle cx="408.0" cy="450.0" r="2.7" fill="#000094" stroke="#3a3a32" stroke-width="0.8"/>
<circle cx="397.4" cy="455.9" r="2.7" fill="#000094" stroke="#3a3a32" stroke-width="0.8"/>
<circle cx="352.2" cy="443.2" r="2.7" fill="#000094" stroke="#3a3a32" stroke-width="0.8"/>
<circle cx="357.9" cy="452.5" r="2.7" fill="#000094" stroke="#3a3a32" stroke-width="0.8"/>
<circle cx="345.5" cy="445.4" r="2.7" fill="#000094" stroke="#3a3a32" stroke-width="0.8"/>
<circle cx="434.1" cy="452.2" r="2.7" fill="#000094" stroke="#3a3a32" stroke-width="0.8"/>
<circle cx="375.7" cy="455.5" r="2.7" fill="#000094" stroke="#3a3a32" stroke-width="0.8"/>
<circle cx="361.2" cy="452.3" r="2.7" fill="#000094" stroke="#3a3a32" stroke-width="0.8"/>
<circle cx="345.0" cy="449.0" r="2.7" fill="#000094" stroke="#3a3a32" stroke-width="0.8"/>
<circle cx="421.6" cy="455.8" r="2.7" fill="#000094" stroke="#3a3a32" stroke-width="0.8"/>
<circle cx="430.9" cy="448.4" r="2.7" fill="#000094" stroke="#3a3a32" stroke-width="0.8"/>
<circle cx="393.5" cy="447.4" r="2.7" fill="#000094" stroke="#3a3a32" stroke-width="0.8"/>
<circle cx="337.2" cy="450.0" r="2.7" fill="#000094" stroke="#3a3a32" stroke-width="0.8"/>
<circle cx="425.5" cy="454.9" r="2.7" fill="#000094" stroke="#3a3a32" stroke-width="0.8"/>
<circle cx="409.6" cy="456.3" r="2.7" fill="#000094" stroke="#3a3a32" stroke-width="0.8"/>
<circle cx="354.9" cy="445.4" r="2.7" fill="#000094" stroke="#3a3a32" stroke-width="0.8"/>
<circle cx="376.8" cy="446.9" r="2.7" fill="#000094" stroke="#3a3a32" stroke-width="0.8"/>
<circle cx="347.0" cy="448.8" r="2.7" fill="#000094" stroke="#3a3a32" stroke-width="0.8"/>
<circle cx="398.8" cy="449.9" r="2.7" fill="#000094" stroke="#3a3a32" stroke-width="0.8"/>
<circle cx="359.7" cy="454.7" r="2.7" fill="#000094" stroke="#3a3a32" stroke-width="0.8"/>
<circle cx="443.7" cy="449.3" r="2.7" fill="#000094" stroke="#3a3a32" stroke-width="0.8"/>
<circle cx="329.4" cy="443.4" r="2.7" fill="#000094" stroke="#3a3a32" stroke-width="0.8"/>
<circle cx="430.0" cy="443.6" r="2.7" fill="#000094" stroke="#3a3a32" stroke-width="0.8"/>
<circle cx="409.3" cy="451.0" r="2.7" fill="#000094" stroke="#3a3a32" stroke-width="0.8"/>
<circle cx="358.9" cy="454.1" r="2.7" fill="#000094" stroke="#3a3a32" stroke-width="0.8"/>
<circle cx="322.4" cy="444.9" r="2.7" fill="#000094" stroke="#3a3a32" stroke-width="0.8"/>
<circle cx="377.3" cy="443.3" r="2.7" fill="#000094" stroke="#3a3a32" stroke-width="0.8"/>
<circle cx="424.5" cy="446.3" r="2.7" fill="#000094" stroke="#3a3a32" stroke-width="0.8"/>
<circle cx="337.8" cy="443.7" r="2.7" fill="#000094" stroke="#3a3a32" stroke-width="0.8"/>
<circle cx="399.3" cy="449.3" r="2.7" fill="#000094" stroke="#3a3a32" stroke-width="0.8"/>
<circle cx="399.4" cy="452.2" r="2.7" fill="#000094" stroke="#3a3a32" stroke-width="0.8"/>
<circle cx="421.7" cy="456.4" r="2.7" fill="#000094" stroke="#3a3a32" stroke-width="0.8"/>
<circle cx="406.2" cy="445.8" r="2.7" fill="#000094" stroke="#3a3a32" stroke-width="0.8"/>
<circle cx="379.9" cy="445.5" r="2.7" fill="#000094" stroke="#3a3a32" stroke-width="0.8"/>
<circle cx="321.4" cy="449.6" r="2.7" fill="#000094" stroke="#3a3a32" stroke-width="0.8"/>
<circle cx="410.0" cy="445.5" r="2.7" fill="#000094" stroke="#3a3a32" stroke-width="0.8"/>
<circle cx="354.3" cy="447.8" r="2.7" fill="#000094" stroke="#3a3a32" stroke-width="0.8"/>
<circle cx="407.9" cy="450.3" r="2.7" fill="#000094" stroke="#3a3a32" stroke-width="0.8"/>
<circle cx="397.4" cy="453.6" r="2.7" fill="#000094" stroke="#3a3a32" stroke-width="0.8"/>
<circle cx="370.8" cy="453.1" r="2.7" fill="#000094" stroke="#3a3a32" stroke-width="0.8"/>
<circle cx="434.4" cy="446.8" r="2.7" fill="#000094" stroke="#3a3a32" stroke-width="0.8"/>
<circle cx="437.6" cy="452.5" r="2.7" fill="#000094" stroke="#3a3a32" stroke-width="0.8"/>
<circle cx="338.1" cy="450.1" r="2.7" fill="#000094" stroke="#3a3a32" stroke-width="0.8"/>
<circle cx="399.6" cy="454.2" r="2.7" fill="#000094" stroke="#3a3a32" stroke-width="0.8"/>
<circle cx="368.7" cy="451.1" r="2.7" fill="#000094" stroke="#3a3a32" stroke-width="0.8"/>
<circle cx="431.0" cy="453.2" r="2.7" fill="#000094" stroke="#3a3a32" stroke-width="0.8"/>
<circle cx="439.1" cy="450.2" r="2.7" fill="#000094" stroke="#3a3a32" stroke-width="0.8"/>
<circle cx="402.8" cy="447.8" r="2.7" fill="#000094" stroke="#3a3a32" stroke-width="0.8"/>
<circle cx="411.5" cy="453.4" r="2.7" fill="#000094" stroke="#3a3a32" stroke-width="0.8"/>
<circle cx="401.6" cy="452.5" r="2.7" fill="#000094" stroke="#3a3a32" stroke-width="0.8"/>
<circle cx="348.4" cy="454.1" r="2.7" fill="#000094" stroke="#3a3a32" stroke-width="0.8"/>
<circle cx="443.6" cy="454.8" r="2.7" fill="#000094" stroke="#3a3a32" stroke-width="0.8"/>
<circle cx="388.6" cy="453.1" r="2.7" fill="#000094" stroke="#3a3a32" stroke-width="0.8"/>
<circle cx="361.7" cy="454.2" r="2.7" fill="#000094" stroke="#3a3a32" stroke-width="0.8"/>
<circle cx="428.1" cy="449.1" r="2.7" fill="#000094" stroke="#3a3a32" stroke-width="0.8"/>
<circle cx="332.3" cy="450.0" r="2.7" fill="#000094" stroke="#3a3a32" stroke-width="0.8"/>
<circle cx="390.2" cy="452.9" r="2.7" fill="#000094" stroke="#3a3a32" stroke-width="0.8"/>
<circle cx="382.4" cy="446.3" r="2.7" fill="#000094" stroke="#3a3a32" stroke-width="0.8"/>
<circle cx="422.3" cy="446.6" r="2.7" fill="#000094" stroke="#3a3a32" stroke-width="0.8"/>
<circle cx="421.2" cy="447.6" r="2.7" fill="#000094" stroke="#3a3a32" stroke-width="0.8"/>
<circle cx="363.5" cy="453.1" r="2.7" fill="#000094" stroke="#3a3a32" stroke-width="0.8"/>
<circle cx="339.4" cy="447.3" r="2.7" fill="#000094" stroke="#3a3a32" stroke-width="0.8"/>
<circle cx="386.0" cy="452.5" r="2.7" fill="#000094" stroke="#3a3a32" stroke-width="0.8"/>
<circle cx="426.2" cy="452.2" r="2.7" fill="#000094" stroke="#3a3a32" stroke-width="0.8"/>
<circle cx="439.3" cy="450.4" r="2.7" fill="#000094" stroke="#3a3a32" stroke-width="0.8"/>
<circle cx="439.7" cy="446.8" r="2.7" fill="#000094" stroke="#3a3a32" stroke-width="0.8"/>
<circle cx="349.5" cy="450.7" r="2.7" fill="#000094" stroke="#3a3a32" stroke-width="0.8"/>
<circle cx="358.0" cy="452.6" r="2.7" fill="#000094" stroke="#3a3a32" stroke-width="0.8"/>
<circle cx="401.2" cy="450.7" r="2.7" fill="#000094" stroke="#3a3a32" stroke-width="0.8"/>
<circle cx="426.6" cy="451.0" r="2.7" fill="#000094" stroke="#3a3a32" stroke-width="0.8"/>
<circle cx="360.7" cy="449.4" r="2.7" fill="#000094" stroke="#3a3a32" stroke-width="0.8"/>
<circle cx="426.8" cy="454.1" r="2.7" fill="#000094" stroke="#3a3a32" stroke-width="0.8"/>
<circle cx="347.8" cy="453.7" r="2.7" fill="#000094" stroke="#3a3a32" stroke-width="0.8"/>
<circle cx="442.1" cy="450.7" r="2.7" fill="#000094" stroke="#3a3a32" stroke-width="0.8"/>
<circle cx="393.1" cy="447.8" r="2.7" fill="#000094" stroke="#3a3a32" stroke-width="0.8"/>
<circle cx="388.5" cy="450.5" r="2.7" fill="#000094" stroke="#3a3a32" stroke-width="0.8"/>
<circle cx="397.0" cy="446.2" r="2.7" fill="#000094" stroke="#3a3a32" stroke-width="0.8"/>
<circle cx="442.2" cy="450.6" r="2.7" fill="#000094" stroke="#3a3a32" stroke-width="0.8"/>
<circle cx="371.7" cy="453.2" r="2.7" fill="#000094" stroke="#3a3a32" stroke-width="0.8"/>
<circle cx="391.8" cy="450.4" r="2.7" fill="#000094" stroke="#3a3a32" stroke-width="0.8"/>
<circle cx="407.7" cy="446.6" r="2.7" fill="#000094" stroke="#3a3a32" stroke-width="0.8"/>
<circle cx="388.8" cy="449.7" r="2.7" fill="#000094" stroke="#3a3a32" stroke-width="0.8"/>
<circle cx="440.7" cy="454.3" r="2.7" fill="#000094" stroke="#3a3a32" stroke-width="0.8"/>
<circle cx="355.4" cy="450.3" r="2.7" fill="#000094" stroke="#3a3a32" stroke-width="0.8"/>
<circle cx="295.8" cy="450.9" r="2.7" fill="#000094" stroke="#3a3a32" stroke-width="0.8"/>
<circle cx="316.5" cy="455.1" r="2.7" fill="#000094" stroke="#3a3a32" stroke-width="0.8"/>
<circle cx="306.3" cy="449.9" r="2.7" fill="#000094" stroke="#3a3a32" stroke-width="0.8"/>
<circle cx="297.7" cy="452.6" r="2.7" fill="#000094" stroke="#3a3a32" stroke-width="0.8"/>
<circle cx="319.8" cy="448.2" r="2.7" fill="#000094" stroke="#3a3a32" stroke-width="0.8"/>
<circle cx="315.4" cy="447.2" r="2.7" fill="#000094" stroke="#3a3a32" stroke-width="0.8"/>
<circle cx="297.8" cy="449.0" r="2.7" fill="#000094" stroke="#3a3a32" stroke-width="0.8"/>
<circle cx="312.6" cy="449.9" r="2.7" fill="#000094" stroke="#3a3a32" stroke-width="0.8"/>
<circle cx="302.7" cy="452.6" r="2.7" fill="#000094" stroke="#3a3a32" stroke-width="0.8"/>
<circle cx="295.1" cy="453.6" r="2.7" fill="#000094" stroke="#3a3a32" stroke-width="0.8"/>
<circle cx="295.7" cy="451.6" r="2.7" fill="#000094" stroke="#3a3a32" stroke-width="0.8"/>
<circle cx="299.5" cy="448.8" r="2.7" fill="#000094" stroke="#3a3a32" stroke-width="0.8"/>
<circle cx="307.9" cy="450.9" r="2.7" fill="#000094" stroke="#3a3a32" stroke-width="0.8"/>
<circle cx="303.3" cy="450.7" r="2.7" fill="#000094" stroke="#3a3a32" stroke-width="0.8"/>
</g>
<circle cx="255.0" cy="355.2" r="2.7" fill="#2e2e35" stroke="#3a3a32" stroke-width="0.8"/>
<circle cx="257.0" cy="355.4" r="2.7" fill="#2e2e35" stroke="#3a3a32" stroke-width="0.8"/>
<circle cx="261.0" cy="355.6" r="2.7" fill="#2e2e35" stroke="#3a3a32" stroke-width="0.8"/>
<circle cx="262.5" cy="356.2" r="2.7" fill="#2e2e35" stroke="#3a3a32" stroke-width="0.8"/>
<circle cx="221.5" cy="350.8" r="2.7" fill="#A6D3F5" stroke="#3a3a32" stroke-width="0.8"/>
<circle cx="258.2" cy="355.3" r="2.7" fill="#A6D3F5" stroke="#3a3a32" stroke-width="0.8"/>
<circle cx="264.4" cy="354.6" r="2.7" fill="#A6D3F5" stroke="#3a3a32" stroke-width="0.8"/>
<circle cx="264.3" cy="351.5" r="2.7" fill="#A6D3F5" stroke="#3a3a32" stroke-width="0.8"/>
<circle cx="261.2" cy="358.5" r="2.7" fill="#A6D3F5" stroke="#3a3a32" stroke-width="0.8"/>
<circle cx="254.6" cy="360.8" r="2.7" fill="#A6D3F5" stroke="#3a3a32" stroke-width="0.8"/>
<circle cx="254.8" cy="369.0" r="2.7" fill="#A6D3F5" stroke="#3a3a32" stroke-width="0.8"/>
<circle cx="247.7" cy="393.5" r="2.7" fill="#A6D3F5" stroke="#3a3a32" stroke-width="0.8"/>
<circle cx="252.3" cy="397.3" r="2.7" fill="#A6D3F5" stroke="#3a3a32" stroke-width="0.8"/>
<circle cx="264.8" cy="402.1" r="2.7" fill="#A6D3F5" stroke="#3a3a32" stroke-width="0.8"/>
<circle cx="252.2" cy="397.8" r="2.7" fill="#A6D3F5" stroke="#3a3a32" stroke-width="0.8"/>
<circle cx="264.5" cy="401.9" r="2.7" fill="#A6D3F5" stroke="#3a3a32" stroke-width="0.8"/>
<circle cx="239.0" cy="368.5" r="2.7" fill="#80F53A" stroke="#3a3a32" stroke-width="0.8"/>
<circle cx="271.5" cy="388.3" r="2.7" fill="#80F53A" stroke="#3a3a32" stroke-width="0.8"/>
<circle cx="223.1" cy="290.4" r="2.7" fill="#EEA62F" stroke="#3a3a32" stroke-width="0.8"/>
<circle cx="230.8" cy="315.4" r="2.7" fill="#EEA62F" stroke="#3a3a32" stroke-width="0.8"/>
<circle cx="234.2" cy="313.8" r="2.7" fill="#EEA62F" stroke="#3a3a32" stroke-width="0.8"/>
<circle cx="236.5" cy="316.0" r="2.7" fill="#EEA62F" stroke="#3a3a32" stroke-width="0.8"/>
<circle cx="233.1" cy="318.3" r="2.7" fill="#EEA62F" stroke="#3a3a32" stroke-width="0.8"/>
<circle cx="229.8" cy="303.5" r="2.7" fill="#E00000" stroke="#3a3a32" stroke-width="0.8"/>
<circle cx="227.9" cy="308.7" r="2.7" fill="#E00000" stroke="#3a3a32" stroke-width="0.8"/>
<circle cx="234.2" cy="308.7" r="2.7" fill="#E00000" stroke="#3a3a32" stroke-width="0.8"/>
<circle cx="240.8" cy="311.9" r="2.7" fill="#E00000" stroke="#3a3a32" stroke-width="0.8"/>
<circle cx="250.4" cy="320.8" r="2.7" fill="#E00000" stroke="#3a3a32" stroke-width="0.8"/>
<path d="M247.7,269.8 L251,273.1 L247.7,276.4 L244.4,273.1 Z" fill="#7B2FD8" stroke="#333" stroke-width="0.6"/>
<text x="248.50" y="266.30" font-size="12" text-anchor="middle" textLength="64.5" lengthAdjust="spacingAndGlyphs" >rs66516066</text>
<line x1="320.00" y1="487.60" x2="446.00" y2="487.60" stroke="#7A7AC8" stroke-width="1.3" />
<rect x="319.2" y="486" width="1.6" height="3.2" fill="#1a1a8a"/>
<rect x="335.0" y="486" width="1.6" height="3.2" fill="#1a1a8a"/>
<rect x="345.4" y="486" width="1.6" height="3.2" fill="#1a1a8a"/>
<rect x="350.0" y="486" width="1.6" height="3.2" fill="#1a1a8a"/>
<rect x="387.9" y="486" width="1.6" height="3.2" fill="#1a1a8a"/>
<rect x="405.9" y="486" width="1.6" height="3.2" fill="#1a1a8a"/>
<rect x="409.0" y="486" width="1.6" height="3.2" fill="#1a1a8a"/>
<rect x="414.2" y="486" width="1.6" height="3.2" fill="#1a1a8a"/>
<line x1="418.00" y1="482.20" x2="424.50" y2="482.20" stroke="#000" stroke-width="0.8" />
<path d="M417.6,482.2 L420,480.9 L420,483.5 Z" fill="#000"/>
<text x="427" y="484.7" font-size="6.2" font-style="italic" textLength="16.5" lengthAdjust="spacingAndGlyphs">NBAS</text>
<rect x="49.1" y="245.1" width="397.6" height="221.30" fill="none" stroke="#000" stroke-width="2"/>
<rect x="408.4" y="249.2" width="36.00" height="77.90" fill="#fff" stroke="#8a8a8a" stroke-width="1"/>
<rect x="413.7" y="262.8" width="8.00" height="11.60" fill="#E00000" stroke="#222" stroke-width="0.7"/>
<rect x="413.7" y="274.4" width="8.00" height="12.10" fill="#EEA62F" stroke="#222" stroke-width="0.7"/>
<rect x="413.7" y="286.5" width="8.00" height="12.30" fill="#80F53A" stroke="#222" stroke-width="0.7"/>
<rect x="413.7" y="298.8" width="8.00" height="12.20" fill="#A6D3F5" stroke="#222" stroke-width="0.7"/>
<rect x="413.7" y="311" width="8.00" height="12.10" fill="#000094" stroke="#222" stroke-width="0.7"/>
<line x1="421.70" y1="274.40" x2="424.30" y2="274.40" stroke="#000" stroke-width="0.9" />
<text x="426.70" y="278.30" font-size="10.2" text-anchor="start" textLength="16.2" lengthAdjust="spacingAndGlyphs" >0.8</text>
<line x1="421.70" y1="286.50" x2="424.30" y2="286.50" stroke="#000" stroke-width="0.9" />
<text x="426.70" y="290.40" font-size="10.2" text-anchor="start" textLength="16.2" lengthAdjust="spacingAndGlyphs" >0.6</text>
<line x1="421.70" y1="298.80" x2="424.30" y2="298.80" stroke="#000" stroke-width="0.9" />
<text x="426.70" y="302.70" font-size="10.2" text-anchor="start" textLength="16.2" lengthAdjust="spacingAndGlyphs" >0.4</text>
<line x1="421.70" y1="311.00" x2="424.30" y2="311.00" stroke="#000" stroke-width="0.9" />
<text x="426.70" y="314.90" font-size="10.2" text-anchor="start" textLength="16.2" lengthAdjust="spacingAndGlyphs" >0.2</text>
<text x="422.80" y="260.80" font-size="9.5" text-anchor="start" >r</text>
<text x="426.90" y="257.00" font-size="7.4" text-anchor="start" >2</text>
<text x="13.00" y="240.20" font-size="17.5" text-anchor="start" font-weight="bold" stroke="#000" stroke-width="0.45">B</text>
<line x1="44.20" y1="456.70" x2="49.30" y2="456.70" stroke="#000" stroke-width="1.4" />
<text x="39.60" y="460.90" font-size="12.4" text-anchor="end" >0</text>
<line x1="44.20" y1="408.96" x2="49.30" y2="408.96" stroke="#000" stroke-width="1.4" />
<text x="39.60" y="413.16" font-size="12.4" text-anchor="end" >2</text>
<line x1="44.20" y1="361.22" x2="49.30" y2="361.22" stroke="#000" stroke-width="1.4" />
<text x="39.60" y="365.42" font-size="12.4" text-anchor="end" >4</text>
<line x1="44.20" y1="313.48" x2="49.30" y2="313.48" stroke="#000" stroke-width="1.4" />
<text x="39.60" y="317.68" font-size="12.4" text-anchor="end" >6</text>
<line x1="44.20" y1="265.74" x2="49.30" y2="265.74" stroke="#000" stroke-width="1.4" />
<text x="39.60" y="269.94" font-size="12.4" text-anchor="end" >8</text>
<line x1="446.70" y1="456.20" x2="451.60" y2="456.20" stroke="#000" stroke-width="1.4" />
<text x="455.80" y="460.50" font-size="12.7" text-anchor="start" >0</text>
<line x1="446.70" y1="415.94" x2="451.60" y2="415.94" stroke="#000" stroke-width="1.4" />
<text x="455.80" y="420.24" font-size="12.7" text-anchor="start" >20</text>
<line x1="446.70" y1="375.68" x2="451.60" y2="375.68" stroke="#000" stroke-width="1.4" />
<text x="455.80" y="379.98" font-size="12.7" text-anchor="start" >40</text>
<line x1="446.70" y1="335.42" x2="451.60" y2="335.42" stroke="#000" stroke-width="1.4" />
<text x="455.80" y="339.72" font-size="12.7" text-anchor="start" >60</text>
<line x1="446.70" y1="295.16" x2="451.60" y2="295.16" stroke="#000" stroke-width="1.4" />
<text x="455.80" y="299.46" font-size="12.7" text-anchor="start" >80</text>
<line x1="446.70" y1="254.90" x2="451.60" y2="254.90" stroke="#000" stroke-width="1.4" />
<text x="455.80" y="259.20" font-size="12.7" text-anchor="start" >100</text>
<text transform="translate(23.3,356.5) rotate(-90)" font-size="13.5" text-anchor="middle" stroke="#000" stroke-width="0.3" textLength="65.4" lengthAdjust="spacingAndGlyphs">-log<tspan font-size="10" dy="3">10</tspan><tspan dy="-3">(p-value)</tspan></text>
<text transform="translate(495.6,356) rotate(-90)" font-size="14.4" text-anchor="middle" textLength="134.5" lengthAdjust="spacingAndGlyphs" stroke="#000" stroke-width="0.35">Recombination rate (cM/Mb)</text>
<rect x="49.1" y="476.8" width="397.6" height="14.90" fill="none" stroke="#000" stroke-width="2"/>
<line x1="112.00" y1="491.70" x2="112.00" y2="495.90" stroke="#000" stroke-width="1.4" />
<text x="112.00" y="512.00" font-size="12" text-anchor="middle" >15.15</text>
<line x1="178.20" y1="491.70" x2="178.20" y2="495.90" stroke="#000" stroke-width="1.4" />
<text x="178.20" y="512.00" font-size="12" text-anchor="middle" >15.2</text>
<line x1="244.40" y1="491.70" x2="244.40" y2="495.90" stroke="#000" stroke-width="1.4" />
<text x="244.40" y="512.00" font-size="12" text-anchor="middle" >15.25</text>
<line x1="310.60" y1="491.70" x2="310.60" y2="495.90" stroke="#000" stroke-width="1.4" />
<text x="310.60" y="512.00" font-size="12" text-anchor="middle" >15.3</text>
<line x1="376.80" y1="491.70" x2="376.80" y2="495.90" stroke="#000" stroke-width="1.4" />
<text x="376.80" y="512.00" font-size="12" text-anchor="middle" >15.35</text>
<line x1="443.00" y1="491.70" x2="443.00" y2="495.90" stroke="#000" stroke-width="1.4" />
<text x="443.00" y="512.00" font-size="12" text-anchor="middle" >15.4</text>
<text x="247.40" y="532.70" font-size="14.6" text-anchor="middle" textLength="95.5" lengthAdjust="spacingAndGlyphs" stroke="#000" stroke-width="0.4">Position on ch2 (Mb)</text>
<line x1="91.20" y1="600.70" x2="431.70" y2="600.70" stroke="#E3361F" stroke-width="1.5" />
<polyline fill="none" stroke="#3B3BFF" stroke-width="1" points="49.5,772.0 60.5,772.0 61.3,654.6 62.6,654.6 64.0,780.8 103.8,782.0 117.5,778.3 118.8,743.7 123.4,777.3 140.0,777.3 150.6,780.2 153.5,781.2 157.0,779.2 161.2,781.2 211.2,781.0 213.0,775.4 218.8,775.0 221.7,770.0 222.7,773.0 226.5,768.7 228.0,775.4 238.1,775.4 240.0,678.3 241.2,678.3 243.1,723.5 243.5,781.2 258.8,781.0 262.7,771.5 267.5,752.3 269.4,747.5 271.3,758.1 273.3,779.2 278.1,781.5 314.6,779.2 319.4,760.0 322.9,716.7 325.2,725.4 329.0,781.2 376.2,782.0 387.0,779.5 388.0,754.5 394.5,752.5 398.8,755.5 403.8,757.0 409.5,772.0 418.8,777.5 430.0,779.5 446.0,781.8"/>
<g clip-path="url(#clipC)">
<circle cx="68.6" cy="725.0" r="2.7" fill="#000094" stroke="#3a3a32" stroke-width="0.8"/>
<circle cx="83.6" cy="726.9" r="2.7" fill="#000094" stroke="#3a3a32" stroke-width="0.8"/>
<circle cx="87.4" cy="737.3" r="2.7" fill="#000094" stroke="#3a3a32" stroke-width="0.8"/>
<circle cx="93.2" cy="744.6" r="2.7" fill="#000094" stroke="#3a3a32" stroke-width="0.8"/>
<circle cx="98.4" cy="742.7" r="2.7" fill="#000094" stroke="#3a3a32" stroke-width="0.8"/>
<circle cx="111.1" cy="741.2" r="2.7" fill="#000094" stroke="#3a3a32" stroke-width="0.8"/>
<circle cx="106.7" cy="746.2" r="2.7" fill="#000094" stroke="#3a3a32" stroke-width="0.8"/>
<circle cx="104.2" cy="748.5" r="2.7" fill="#000094" stroke="#3a3a32" stroke-width="0.8"/>
<circle cx="87.4" cy="748.5" r="2.7" fill="#000094" stroke="#3a3a32" stroke-width="0.8"/>
<circle cx="92.6" cy="754.2" r="2.7" fill="#000094" stroke="#3a3a32" stroke-width="0.8"/>
<circle cx="93.8" cy="761.9" r="2.7" fill="#000094" stroke="#3a3a32" stroke-width="0.8"/>
<circle cx="105.3" cy="758.5" r="2.7" fill="#000094" stroke="#3a3a32" stroke-width="0.8"/>
<circle cx="117.2" cy="753.7" r="2.7" fill="#000094" stroke="#3a3a32" stroke-width="0.8"/>
<circle cx="124.0" cy="746.5" r="2.7" fill="#000094" stroke="#3a3a32" stroke-width="0.8"/>
<circle cx="124.0" cy="754.6" r="2.7" fill="#000094" stroke="#3a3a32" stroke-width="0.8"/>
<circle cx="135.5" cy="749.4" r="2.7" fill="#000094" stroke="#3a3a32" stroke-width="0.8"/>
<circle cx="136.8" cy="750.8" r="2.7" fill="#000094" stroke="#3a3a32" stroke-width="0.8"/>
<circle cx="135.5" cy="760.4" r="2.7" fill="#000094" stroke="#3a3a32" stroke-width="0.8"/>
<circle cx="137.4" cy="764.4" r="2.7" fill="#000094" stroke="#3a3a32" stroke-width="0.8"/>
<circle cx="50.9" cy="766.2" r="2.7" fill="#000094" stroke="#3a3a32" stroke-width="0.8"/>
<circle cx="56.7" cy="766.2" r="2.7" fill="#000094" stroke="#3a3a32" stroke-width="0.8"/>
<circle cx="73.0" cy="764.8" r="2.7" fill="#000094" stroke="#3a3a32" stroke-width="0.8"/>
<circle cx="72.6" cy="767.7" r="2.7" fill="#000094" stroke="#3a3a32" stroke-width="0.8"/>
<circle cx="62.4" cy="769.2" r="2.7" fill="#000094" stroke="#3a3a32" stroke-width="0.8"/>
<circle cx="81.7" cy="769.6" r="2.7" fill="#000094" stroke="#3a3a32" stroke-width="0.8"/>
<circle cx="84.5" cy="769.6" r="2.7" fill="#000094" stroke="#3a3a32" stroke-width="0.8"/>
<circle cx="87.4" cy="770.0" r="2.7" fill="#000094" stroke="#3a3a32" stroke-width="0.8"/>
<circle cx="90.7" cy="771.2" r="2.7" fill="#000094" stroke="#3a3a32" stroke-width="0.8"/>
<circle cx="147.6" cy="769.2" r="2.7" fill="#000094" stroke="#3a3a32" stroke-width="0.8"/>
<circle cx="51.8" cy="775.4" r="2.7" fill="#000094" stroke="#3a3a32" stroke-width="0.8"/>
<circle cx="55.7" cy="775.4" r="2.7" fill="#000094" stroke="#3a3a32" stroke-width="0.8"/>
<circle cx="59.5" cy="773.5" r="2.7" fill="#000094" stroke="#3a3a32" stroke-width="0.8"/>
<circle cx="64.9" cy="774.4" r="2.7" fill="#000094" stroke="#3a3a32" stroke-width="0.8"/>
<circle cx="52.3" cy="781.2" r="2.7" fill="#000094" stroke="#3a3a32" stroke-width="0.8"/>
<circle cx="53.8" cy="778.3" r="2.7" fill="#000094" stroke="#3a3a32" stroke-width="0.8"/>
<circle cx="57.6" cy="778.3" r="2.7" fill="#000094" stroke="#3a3a32" stroke-width="0.8"/>
<circle cx="62.4" cy="781.2" r="2.7" fill="#000094" stroke="#3a3a32" stroke-width="0.8"/>
<circle cx="62.4" cy="777.3" r="2.7" fill="#000094" stroke="#3a3a32" stroke-width="0.8"/>
<circle cx="86.5" cy="775.0" r="2.7" fill="#000094" stroke="#3a3a32" stroke-width="0.8"/>
<circle cx="86.5" cy="779.6" r="2.7" fill="#000094" stroke="#3a3a32" stroke-width="0.8"/>
<circle cx="92.6" cy="777.3" r="2.7" fill="#000094" stroke="#3a3a32" stroke-width="0.8"/>
<circle cx="106.1" cy="775.4" r="2.7" fill="#000094" stroke="#3a3a32" stroke-width="0.8"/>
<circle cx="106.1" cy="781.2" r="2.7" fill="#000094" stroke="#3a3a32" stroke-width="0.8"/>
<circle cx="111.1" cy="777.3" r="2.7" fill="#000094" stroke="#3a3a32" stroke-width="0.8"/>
<circle cx="110.5" cy="780.8" r="2.7" fill="#000094" stroke="#3a3a32" stroke-width="0.8"/>
<circle cx="124.0" cy="780.8" r="2.7" fill="#000094" stroke="#3a3a32" stroke-width="0.8"/>
<circle cx="125.9" cy="781.2" r="2.7" fill="#000094" stroke="#3a3a32" stroke-width="0.8"/>
<circle cx="126.8" cy="771.2" r="2.7" fill="#000094" stroke="#3a3a32" stroke-width="0.8"/>
<circle cx="128.8" cy="772.0" r="2.7" fill="#000094" stroke="#3a3a32" stroke-width="0.8"/>
<circle cx="131.1" cy="773.5" r="2.7" fill="#000094" stroke="#3a3a32" stroke-width="0.8"/>
<circle cx="136.8" cy="773.8" r="2.7" fill="#000094" stroke="#3a3a32" stroke-width="0.8"/>
<circle cx="139.3" cy="776.9" r="2.7" fill="#000094" stroke="#3a3a32" stroke-width="0.8"/>
<circle cx="146.1" cy="776.3" r="2.7" fill="#000094" stroke="#3a3a32" stroke-width="0.8"/>
<circle cx="130.7" cy="781.2" r="2.7" fill="#000094" stroke="#3a3a32" stroke-width="0.8"/>
<circle cx="133.6" cy="781.5" r="2.7" fill="#000094" stroke="#3a3a32" stroke-width="0.8"/>
<circle cx="151.9" cy="736.0" r="2.7" fill="#000094" stroke="#3a3a32" stroke-width="0.8"/>
<circle cx="151.9" cy="739.8" r="2.7" fill="#000094" stroke="#3a3a32" stroke-width="0.8"/>
<circle cx="177.5" cy="751.3" r="2.7" fill="#000094" stroke="#3a3a32" stroke-width="0.8"/>
<circle cx="157.7" cy="763.5" r="2.7" fill="#000094" stroke="#3a3a32" stroke-width="0.8"/>
<circle cx="163.5" cy="762.3" r="2.7" fill="#000094" stroke="#3a3a32" stroke-width="0.8"/>
<circle cx="148.7" cy="769.2" r="2.7" fill="#000094" stroke="#3a3a32" stroke-width="0.8"/>
<circle cx="150.6" cy="773.1" r="2.7" fill="#000094" stroke="#3a3a32" stroke-width="0.8"/>
<circle cx="146.2" cy="776.3" r="2.7" fill="#000094" stroke="#3a3a32" stroke-width="0.8"/>
<circle cx="165.0" cy="767.7" r="2.7" fill="#000094" stroke="#3a3a32" stroke-width="0.8"/>
<circle cx="171.7" cy="770.6" r="2.7" fill="#000094" stroke="#3a3a32" stroke-width="0.8"/>
<circle cx="180.4" cy="766.7" r="2.7" fill="#000094" stroke="#3a3a32" stroke-width="0.8"/>
<circle cx="195.4" cy="764.8" r="2.7" fill="#000094" stroke="#3a3a32" stroke-width="0.8"/>
<circle cx="201.2" cy="766.7" r="2.7" fill="#000094" stroke="#3a3a32" stroke-width="0.8"/>
<circle cx="203.5" cy="769.2" r="2.7" fill="#000094" stroke="#3a3a32" stroke-width="0.8"/>
<circle cx="233.3" cy="767.3" r="2.7" fill="#000094" stroke="#3a3a32" stroke-width="0.8"/>
<circle cx="227.5" cy="775.0" r="2.7" fill="#000094" stroke="#3a3a32" stroke-width="0.8"/>
<circle cx="221.7" cy="776.3" r="2.7" fill="#000094" stroke="#3a3a32" stroke-width="0.8"/>
<circle cx="225.6" cy="780.2" r="2.7" fill="#000094" stroke="#3a3a32" stroke-width="0.8"/>
<circle cx="229.4" cy="781.5" r="2.7" fill="#000094" stroke="#3a3a32" stroke-width="0.8"/>
<circle cx="220.8" cy="779.6" r="2.7" fill="#000094" stroke="#3a3a32" stroke-width="0.8"/>
<circle cx="234.6" cy="776.3" r="2.7" fill="#000094" stroke="#3a3a32" stroke-width="0.8"/>
<circle cx="238.1" cy="780.8" r="2.7" fill="#000094" stroke="#3a3a32" stroke-width="0.8"/>
<circle cx="239.6" cy="750.4" r="2.7" fill="#000094" stroke="#3a3a32" stroke-width="0.8"/>
<circle cx="276.2" cy="714.4" r="2.7" fill="#000094" stroke="#3a3a32" stroke-width="0.8"/>
<circle cx="285.2" cy="705.6" r="2.7" fill="#000094" stroke="#3a3a32" stroke-width="0.8"/>
<circle cx="290.0" cy="713.8" r="2.7" fill="#000094" stroke="#3a3a32" stroke-width="0.8"/>
<circle cx="301.2" cy="704.6" r="2.7" fill="#000094" stroke="#3a3a32" stroke-width="0.8"/>
<circle cx="305.4" cy="707.7" r="2.7" fill="#000094" stroke="#3a3a32" stroke-width="0.8"/>
<circle cx="301.2" cy="711.9" r="2.7" fill="#000094" stroke="#3a3a32" stroke-width="0.8"/>
<circle cx="316.2" cy="700.4" r="2.7" fill="#000094" stroke="#3a3a32" stroke-width="0.8"/>
<circle cx="318.1" cy="700.4" r="2.7" fill="#000094" stroke="#3a3a32" stroke-width="0.8"/>
<circle cx="313.7" cy="709.0" r="2.7" fill="#000094" stroke="#3a3a32" stroke-width="0.8"/>
<circle cx="318.1" cy="711.0" r="2.7" fill="#000094" stroke="#3a3a32" stroke-width="0.8"/>
<circle cx="314.6" cy="720.0" r="2.7" fill="#000094" stroke="#3a3a32" stroke-width="0.8"/>
<circle cx="313.7" cy="725.4" r="2.7" fill="#000094" stroke="#3a3a32" stroke-width="0.8"/>
<circle cx="322.7" cy="720.6" r="2.7" fill="#000094" stroke="#3a3a32" stroke-width="0.8"/>
<circle cx="325.8" cy="746.9" r="2.7" fill="#000094" stroke="#3a3a32" stroke-width="0.8"/>
<circle cx="241.2" cy="750.0" r="2.7" fill="#000094" stroke="#3a3a32" stroke-width="0.8"/>
<circle cx="262.7" cy="750.4" r="2.7" fill="#000094" stroke="#3a3a32" stroke-width="0.8"/>
<circle cx="271.3" cy="745.2" r="2.7" fill="#000094" stroke="#3a3a32" stroke-width="0.8"/>
<circle cx="320.0" cy="754.6" r="2.7" fill="#000094" stroke="#3a3a32" stroke-width="0.8"/>
<circle cx="275.8" cy="754.2" r="2.7" fill="#000094" stroke="#3a3a32" stroke-width="0.8"/>
<circle cx="275.2" cy="759.0" r="2.7" fill="#000094" stroke="#3a3a32" stroke-width="0.8"/>
<circle cx="280.0" cy="758.1" r="2.7" fill="#000094" stroke="#3a3a32" stroke-width="0.8"/>
<circle cx="285.4" cy="755.2" r="2.7" fill="#000094" stroke="#3a3a32" stroke-width="0.8"/>
<circle cx="287.3" cy="757.7" r="2.7" fill="#000094" stroke="#3a3a32" stroke-width="0.8"/>
<circle cx="279.6" cy="763.5" r="2.7" fill="#000094" stroke="#3a3a32" stroke-width="0.8"/>
<circle cx="284.8" cy="761.9" r="2.7" fill="#000094" stroke="#3a3a32" stroke-width="0.8"/>
<circle cx="284.8" cy="765.8" r="2.7" fill="#000094" stroke="#3a3a32" stroke-width="0.8"/>
<circle cx="291.5" cy="761.5" r="2.7" fill="#000094" stroke="#3a3a32" stroke-width="0.8"/>
<circle cx="296.3" cy="761.5" r="2.7" fill="#000094" stroke="#3a3a32" stroke-width="0.8"/>
<circle cx="300.2" cy="758.5" r="2.7" fill="#000094" stroke="#3a3a32" stroke-width="0.8"/>
<circle cx="307.9" cy="760.4" r="2.7" fill="#000094" stroke="#3a3a32" stroke-width="0.8"/>
<circle cx="310.4" cy="758.5" r="2.7" fill="#000094" stroke="#3a3a32" stroke-width="0.8"/>
<circle cx="257.9" cy="765.4" r="2.7" fill="#000094" stroke="#3a3a32" stroke-width="0.8"/>
<circle cx="256.5" cy="767.7" r="2.7" fill="#000094" stroke="#3a3a32" stroke-width="0.8"/>
<circle cx="232.9" cy="767.3" r="2.7" fill="#000094" stroke="#3a3a32" stroke-width="0.8"/>
<circle cx="242.5" cy="766.2" r="2.7" fill="#000094" stroke="#3a3a32" stroke-width="0.8"/>
<circle cx="245.8" cy="767.7" r="2.7" fill="#000094" stroke="#3a3a32" stroke-width="0.8"/>
<circle cx="237.7" cy="769.6" r="2.7" fill="#000094" stroke="#3a3a32" stroke-width="0.8"/>
<circle cx="266.5" cy="766.7" r="2.7" fill="#000094" stroke="#3a3a32" stroke-width="0.8"/>
<circle cx="271.9" cy="767.3" r="2.7" fill="#000094" stroke="#3a3a32" stroke-width="0.8"/>
<circle cx="263.1" cy="769.6" r="2.7" fill="#000094" stroke="#3a3a32" stroke-width="0.8"/>
<circle cx="314.6" cy="770.0" r="2.7" fill="#000094" stroke="#3a3a32" stroke-width="0.8"/>
<circle cx="324.6" cy="763.8" r="2.7" fill="#000094" stroke="#3a3a32" stroke-width="0.8"/>
<circle cx="326.2" cy="766.7" r="2.7" fill="#000094" stroke="#3a3a32" stroke-width="0.8"/>
<circle cx="231.0" cy="781.2" r="2.7" fill="#000094" stroke="#3a3a32" stroke-width="0.8"/>
<circle cx="234.8" cy="776.3" r="2.7" fill="#000094" stroke="#3a3a32" stroke-width="0.8"/>
<circle cx="238.7" cy="773.8" r="2.7" fill="#000094" stroke="#3a3a32" stroke-width="0.8"/>
<circle cx="238.7" cy="780.2" r="2.7" fill="#000094" stroke="#3a3a32" stroke-width="0.8"/>
<circle cx="243.5" cy="780.2" r="2.7" fill="#000094" stroke="#3a3a32" stroke-width="0.8"/>
<circle cx="246.3" cy="780.2" r="2.7" fill="#000094" stroke="#3a3a32" stroke-width="0.8"/>
<circle cx="256.0" cy="777.7" r="2.7" fill="#000094" stroke="#3a3a32" stroke-width="0.8"/>
<circle cx="264.6" cy="776.3" r="2.7" fill="#000094" stroke="#3a3a32" stroke-width="0.8"/>
<circle cx="264.6" cy="781.5" r="2.7" fill="#000094" stroke="#3a3a32" stroke-width="0.8"/>
<circle cx="268.5" cy="775.4" r="2.7" fill="#000094" stroke="#3a3a32" stroke-width="0.8"/>
<circle cx="275.8" cy="772.5" r="2.7" fill="#000094" stroke="#3a3a32" stroke-width="0.8"/>
<circle cx="276.2" cy="777.7" r="2.7" fill="#000094" stroke="#3a3a32" stroke-width="0.8"/>
<circle cx="282.9" cy="771.5" r="2.7" fill="#000094" stroke="#3a3a32" stroke-width="0.8"/>
<circle cx="288.7" cy="771.5" r="2.7" fill="#000094" stroke="#3a3a32" stroke-width="0.8"/>
<circle cx="292.5" cy="770.6" r="2.7" fill="#000094" stroke="#3a3a32" stroke-width="0.8"/>
<circle cx="294.4" cy="772.5" r="2.7" fill="#000094" stroke="#3a3a32" stroke-width="0.8"/>
<circle cx="296.3" cy="776.3" r="2.7" fill="#000094" stroke="#3a3a32" stroke-width="0.8"/>
<circle cx="289.6" cy="781.2" r="2.7" fill="#000094" stroke="#3a3a32" stroke-width="0.8"/>
<circle cx="291.5" cy="781.2" r="2.7" fill="#000094" stroke="#3a3a32" stroke-width="0.8"/>
<circle cx="300.2" cy="781.2" r="2.7" fill="#000094" stroke="#3a3a32" stroke-width="0.8"/>
<circle cx="302.1" cy="775.4" r="2.7" fill="#000094" stroke="#3a3a32" stroke-width="0.8"/>
<circle cx="306.0" cy="772.5" r="2.7" fill="#000094" stroke="#3a3a32" stroke-width="0.8"/>
<circle cx="307.9" cy="775.4" r="2.7" fill="#000094" stroke="#3a3a32" stroke-width="0.8"/>
<circle cx="308.8" cy="779.2" r="2.7" fill="#000094" stroke="#3a3a32" stroke-width="0.8"/>
<circle cx="311.7" cy="774.4" r="2.7" fill="#000094" stroke="#3a3a32" stroke-width="0.8"/>
<circle cx="316.2" cy="777.3" r="2.7" fill="#000094" stroke="#3a3a32" stroke-width="0.8"/>
<circle cx="318.5" cy="779.6" r="2.7" fill="#000094" stroke="#3a3a32" stroke-width="0.8"/>
<circle cx="323.3" cy="775.4" r="2.7" fill="#000094" stroke="#3a3a32" stroke-width="0.8"/>
<circle cx="328.1" cy="771.5" r="2.7" fill="#000094" stroke="#3a3a32" stroke-width="0.8"/>
<circle cx="320.5" cy="700.0" r="2.7" fill="#000094" stroke="#3a3a32" stroke-width="0.8"/>
<circle cx="320.5" cy="711.2" r="2.7" fill="#000094" stroke="#3a3a32" stroke-width="0.8"/>
<circle cx="323.0" cy="720.0" r="2.7" fill="#000094" stroke="#3a3a32" stroke-width="0.8"/>
<circle cx="326.2" cy="747.0" r="2.7" fill="#000094" stroke="#3a3a32" stroke-width="0.8"/>
<circle cx="320.5" cy="754.5" r="2.7" fill="#000094" stroke="#3a3a32" stroke-width="0.8"/>
<circle cx="365.0" cy="748.8" r="2.7" fill="#000094" stroke="#3a3a32" stroke-width="0.8"/>
<circle cx="369.0" cy="749.5" r="2.7" fill="#000094" stroke="#3a3a32" stroke-width="0.8"/>
<circle cx="363.8" cy="753.8" r="2.7" fill="#000094" stroke="#3a3a32" stroke-width="0.8"/>
<circle cx="366.2" cy="755.0" r="2.7" fill="#000094" stroke="#3a3a32" stroke-width="0.8"/>
<circle cx="370.5" cy="755.0" r="2.7" fill="#000094" stroke="#3a3a32" stroke-width="0.8"/>
<circle cx="398.8" cy="751.2" r="2.7" fill="#000094" stroke="#3a3a32" stroke-width="0.8"/>
<circle cx="383.8" cy="759.5" r="2.7" fill="#000094" stroke="#3a3a32" stroke-width="0.8"/>
<circle cx="388.0" cy="760.0" r="2.7" fill="#000094" stroke="#3a3a32" stroke-width="0.8"/>
<circle cx="405.5" cy="761.2" r="2.7" fill="#000094" stroke="#3a3a32" stroke-width="0.8"/>
<circle cx="435.0" cy="757.5" r="2.7" fill="#000094" stroke="#3a3a32" stroke-width="0.8"/>
<circle cx="423.8" cy="756.2" r="2.7" fill="#000094" stroke="#3a3a32" stroke-width="0.8"/>
<circle cx="422.5" cy="760.0" r="2.7" fill="#000094" stroke="#3a3a32" stroke-width="0.8"/>
<circle cx="420.0" cy="762.5" r="2.7" fill="#000094" stroke="#3a3a32" stroke-width="0.8"/>
<circle cx="422.0" cy="763.8" r="2.7" fill="#000094" stroke="#3a3a32" stroke-width="0.8"/>
<circle cx="391.2" cy="764.5" r="2.7" fill="#000094" stroke="#3a3a32" stroke-width="0.8"/>
<circle cx="387.5" cy="765.0" r="2.7" fill="#000094" stroke="#3a3a32" stroke-width="0.8"/>
<circle cx="427.5" cy="766.2" r="2.7" fill="#000094" stroke="#3a3a32" stroke-width="0.8"/>
<circle cx="427.5" cy="770.0" r="2.7" fill="#000094" stroke="#3a3a32" stroke-width="0.8"/>
<circle cx="325.0" cy="762.5" r="2.7" fill="#000094" stroke="#3a3a32" stroke-width="0.8"/>
<circle cx="326.2" cy="768.8" r="2.7" fill="#000094" stroke="#3a3a32" stroke-width="0.8"/>
<circle cx="330.0" cy="767.0" r="2.7" fill="#000094" stroke="#3a3a32" stroke-width="0.8"/>
<circle cx="417.0" cy="770.0" r="2.7" fill="#000094" stroke="#3a3a32" stroke-width="0.8"/>
<circle cx="420.0" cy="773.8" r="2.7" fill="#000094" stroke="#3a3a32" stroke-width="0.8"/>
<circle cx="382.0" cy="771.2" r="2.7" fill="#000094" stroke="#3a3a32" stroke-width="0.8"/>
<circle cx="382.5" cy="775.5" r="2.7" fill="#000094" stroke="#3a3a32" stroke-width="0.8"/>
<circle cx="391.2" cy="772.5" r="2.7" fill="#000094" stroke="#3a3a32" stroke-width="0.8"/>
<circle cx="343.0" cy="771.2" r="2.7" fill="#000094" stroke="#3a3a32" stroke-width="0.8"/>
<circle cx="351.2" cy="771.8" r="2.7" fill="#000094" stroke="#3a3a32" stroke-width="0.8"/>
<circle cx="322.5" cy="776.2" r="2.7" fill="#000094" stroke="#3a3a32" stroke-width="0.8"/>
<circle cx="331.2" cy="772.0" r="2.7" fill="#000094" stroke="#3a3a32" stroke-width="0.8"/>
<circle cx="335.0" cy="773.8" r="2.7" fill="#000094" stroke="#3a3a32" stroke-width="0.8"/>
<circle cx="332.5" cy="778.8" r="2.7" fill="#000094" stroke="#3a3a32" stroke-width="0.8"/>
<circle cx="336.2" cy="782.0" r="2.7" fill="#000094" stroke="#3a3a32" stroke-width="0.8"/>
<circle cx="341.2" cy="778.8" r="2.7" fill="#000094" stroke="#3a3a32" stroke-width="0.8"/>
<circle cx="347.5" cy="782.0" r="2.7" fill="#000094" stroke="#3a3a32" stroke-width="0.8"/>
<circle cx="351.2" cy="779.5" r="2.7" fill="#000094" stroke="#3a3a32" stroke-width="0.8"/>
<circle cx="356.2" cy="776.2" r="2.7" fill="#000094" stroke="#3a3a32" stroke-width="0.8"/>
<circle cx="359.5" cy="775.0" r="2.7" fill="#000094" stroke="#3a3a32" stroke-width="0.8"/>
<circle cx="358.8" cy="779.5" r="2.7" fill="#000094" stroke="#3a3a32" stroke-width="0.8"/>
<circle cx="363.8" cy="779.5" r="2.7" fill="#000094" stroke="#3a3a32" stroke-width="0.8"/>
<circle cx="368.8" cy="777.0" r="2.7" fill="#000094" stroke="#3a3a32" stroke-width="0.8"/>
<circle cx="373.0" cy="775.5" r="2.7" fill="#000094" stroke="#3a3a32" stroke-width="0.8"/>
<circle cx="370.0" cy="779.5" r="2.7" fill="#000094" stroke="#3a3a32" stroke-width="0.8"/>
<circle cx="382.5" cy="780.0" r="2.7" fill="#000094" stroke="#3a3a32" stroke-width="0.8"/>
<circle cx="388.8" cy="779.5" r="2.7" fill="#000094" stroke="#3a3a32" stroke-width="0.8"/>
<circle cx="395.0" cy="777.0" r="2.7" fill="#000094" stroke="#3a3a32" stroke-width="0.8"/>
<circle cx="400.0" cy="777.5" r="2.7" fill="#000094" stroke="#3a3a32" stroke-width="0.8"/>
<circle cx="411.2" cy="775.0" r="2.7" fill="#000094" stroke="#3a3a32" stroke-width="0.8"/>
<circle cx="415.0" cy="777.5" r="2.7" fill="#000094" stroke="#3a3a32" stroke-width="0.8"/>
<circle cx="426.2" cy="780.0" r="2.7" fill="#000094" stroke="#3a3a32" stroke-width="0.8"/>
<circle cx="433.8" cy="777.5" r="2.7" fill="#000094" stroke="#3a3a32" stroke-width="0.8"/>
<circle cx="433.8" cy="781.8" r="2.7" fill="#000094" stroke="#3a3a32" stroke-width="0.8"/>
<circle cx="440.0" cy="775.5" r="2.7" fill="#000094" stroke="#3a3a32" stroke-width="0.8"/>
<circle cx="444.0" cy="773.8" r="2.7" fill="#000094" stroke="#3a3a32" stroke-width="0.8"/>
<circle cx="192.5" cy="777.4" r="2.7" fill="#000094" stroke="#3a3a32" stroke-width="0.8"/>
<circle cx="201.0" cy="780.2" r="2.7" fill="#000094" stroke="#3a3a32" stroke-width="0.8"/>
<circle cx="198.3" cy="779.9" r="2.7" fill="#000094" stroke="#3a3a32" stroke-width="0.8"/>
<circle cx="163.4" cy="773.5" r="2.7" fill="#000094" stroke="#3a3a32" stroke-width="0.8"/>
<circle cx="208.2" cy="776.1" r="2.7" fill="#000094" stroke="#3a3a32" stroke-width="0.8"/>
<circle cx="206.1" cy="768.6" r="2.7" fill="#000094" stroke="#3a3a32" stroke-width="0.8"/>
<circle cx="185.0" cy="770.5" r="2.7" fill="#000094" stroke="#3a3a32" stroke-width="0.8"/>
<circle cx="188.6" cy="775.0" r="2.7" fill="#000094" stroke="#3a3a32" stroke-width="0.8"/>
<circle cx="162.6" cy="770.0" r="2.7" fill="#000094" stroke="#3a3a32" stroke-width="0.8"/>
<circle cx="175.7" cy="779.8" r="2.7" fill="#000094" stroke="#3a3a32" stroke-width="0.8"/>
<circle cx="199.5" cy="769.2" r="2.7" fill="#000094" stroke="#3a3a32" stroke-width="0.8"/>
<circle cx="201.1" cy="768.9" r="2.7" fill="#000094" stroke="#3a3a32" stroke-width="0.8"/>
<circle cx="192.3" cy="768.8" r="2.7" fill="#000094" stroke="#3a3a32" stroke-width="0.8"/>
<circle cx="162.1" cy="779.2" r="2.7" fill="#000094" stroke="#3a3a32" stroke-width="0.8"/>
<circle cx="172.3" cy="770.0" r="2.7" fill="#000094" stroke="#3a3a32" stroke-width="0.8"/>
<circle cx="210.1" cy="779.2" r="2.7" fill="#000094" stroke="#3a3a32" stroke-width="0.8"/>
<circle cx="176.2" cy="780.5" r="2.7" fill="#000094" stroke="#3a3a32" stroke-width="0.8"/>
<circle cx="188.4" cy="776.5" r="2.7" fill="#000094" stroke="#3a3a32" stroke-width="0.8"/>
<circle cx="172.0" cy="780.2" r="2.7" fill="#000094" stroke="#3a3a32" stroke-width="0.8"/>
<circle cx="195.8" cy="780.5" r="2.7" fill="#000094" stroke="#3a3a32" stroke-width="0.8"/>
<circle cx="205.8" cy="771.2" r="2.7" fill="#000094" stroke="#3a3a32" stroke-width="0.8"/>
<circle cx="179.7" cy="769.3" r="2.7" fill="#000094" stroke="#3a3a32" stroke-width="0.8"/>
<circle cx="169.1" cy="767.9" r="2.7" fill="#000094" stroke="#3a3a32" stroke-width="0.8"/>
<circle cx="176.8" cy="775.4" r="2.7" fill="#000094" stroke="#3a3a32" stroke-width="0.8"/>
<circle cx="162.2" cy="776.5" r="2.7" fill="#000094" stroke="#3a3a32" stroke-width="0.8"/>
<circle cx="178.6" cy="771.3" r="2.7" fill="#000094" stroke="#3a3a32" stroke-width="0.8"/>
<circle cx="202.1" cy="773.7" r="2.7" fill="#000094" stroke="#3a3a32" stroke-width="0.8"/>
<circle cx="177.5" cy="773.7" r="2.7" fill="#000094" stroke="#3a3a32" stroke-width="0.8"/>
<circle cx="196.5" cy="767.8" r="2.7" fill="#000094" stroke="#3a3a32" stroke-width="0.8"/>
<circle cx="209.8" cy="767.3" r="2.7" fill="#000094" stroke="#3a3a32" stroke-width="0.8"/>
<circle cx="198.7" cy="778.8" r="2.7" fill="#000094" stroke="#3a3a32" stroke-width="0.8"/>
<circle cx="162.9" cy="778.0" r="2.7" fill="#000094" stroke="#3a3a32" stroke-width="0.8"/>
<circle cx="179.9" cy="775.1" r="2.7" fill="#000094" stroke="#3a3a32" stroke-width="0.8"/>
<circle cx="162.4" cy="767.7" r="2.7" fill="#000094" stroke="#3a3a32" stroke-width="0.8"/>
<circle cx="170.9" cy="780.4" r="2.7" fill="#000094" stroke="#3a3a32" stroke-width="0.8"/>
<circle cx="171.6" cy="777.6" r="2.7" fill="#000094" stroke="#3a3a32" stroke-width="0.8"/>
<circle cx="207.6" cy="780.2" r="2.7" fill="#000094" stroke="#3a3a32" stroke-width="0.8"/>
<circle cx="178.9" cy="772.0" r="2.7" fill="#000094" stroke="#3a3a32" stroke-width="0.8"/>
<circle cx="187.7" cy="777.9" r="2.7" fill="#000094" stroke="#3a3a32" stroke-width="0.8"/>
<circle cx="167.3" cy="777.5" r="2.7" fill="#000094" stroke="#3a3a32" stroke-width="0.8"/>
<circle cx="201.1" cy="779.0" r="2.7" fill="#000094" stroke="#3a3a32" stroke-width="0.8"/>
<circle cx="163.8" cy="780.2" r="2.7" fill="#000094" stroke="#3a3a32" stroke-width="0.8"/>
<circle cx="166.5" cy="771.8" r="2.7" fill="#000094" stroke="#3a3a32" stroke-width="0.8"/>
<circle cx="191.9" cy="779.9" r="2.7" fill="#000094" stroke="#3a3a32" stroke-width="0.8"/>
<circle cx="178.7" cy="779.9" r="2.7" fill="#000094" stroke="#3a3a32" stroke-width="0.8"/>
<circle cx="188.7" cy="771.4" r="2.7" fill="#000094" stroke="#3a3a32" stroke-width="0.8"/>
<circle cx="177.5" cy="769.5" r="2.7" fill="#000094" stroke="#3a3a32" stroke-width="0.8"/>
<circle cx="165.8" cy="769.1" r="2.7" fill="#000094" stroke="#3a3a32" stroke-width="0.8"/>
<circle cx="195.8" cy="781.0" r="2.7" fill="#000094" stroke="#3a3a32" stroke-width="0.8"/>
<circle cx="169.9" cy="767.7" r="2.7" fill="#000094" stroke="#3a3a32" stroke-width="0.8"/>
<circle cx="210.3" cy="774.5" r="2.7" fill="#000094" stroke="#3a3a32" stroke-width="0.8"/>
<circle cx="181.9" cy="770.3" r="2.7" fill="#000094" stroke="#3a3a32" stroke-width="0.8"/>
<circle cx="191.1" cy="778.6" r="2.7" fill="#000094" stroke="#3a3a32" stroke-width="0.8"/>
<circle cx="184.3" cy="772.9" r="2.7" fill="#000094" stroke="#3a3a32" stroke-width="0.8"/>
<circle cx="164.7" cy="779.8" r="2.7" fill="#000094" stroke="#3a3a32" stroke-width="0.8"/>
<circle cx="163.6" cy="773.9" r="2.7" fill="#000094" stroke="#3a3a32" stroke-width="0.8"/>
<circle cx="203.1" cy="768.8" r="2.7" fill="#000094" stroke="#3a3a32" stroke-width="0.8"/>
<circle cx="197.9" cy="780.3" r="2.7" fill="#000094" stroke="#3a3a32" stroke-width="0.8"/>
<circle cx="192.9" cy="778.0" r="2.7" fill="#000094" stroke="#3a3a32" stroke-width="0.8"/>
<circle cx="167.2" cy="773.1" r="2.7" fill="#000094" stroke="#3a3a32" stroke-width="0.8"/>
<circle cx="169.3" cy="778.8" r="2.7" fill="#000094" stroke="#3a3a32" stroke-width="0.8"/>
<circle cx="176.4" cy="773.3" r="2.7" fill="#000094" stroke="#3a3a32" stroke-width="0.8"/>
<circle cx="211.0" cy="778.9" r="2.7" fill="#000094" stroke="#3a3a32" stroke-width="0.8"/>
<circle cx="209.8" cy="773.3" r="2.7" fill="#000094" stroke="#3a3a32" stroke-width="0.8"/>
<circle cx="185.9" cy="777.2" r="2.7" fill="#000094" stroke="#3a3a32" stroke-width="0.8"/>
<circle cx="185.5" cy="771.1" r="2.7" fill="#000094" stroke="#3a3a32" stroke-width="0.8"/>
<circle cx="181.8" cy="769.1" r="2.7" fill="#000094" stroke="#3a3a32" stroke-width="0.8"/>
<circle cx="180.5" cy="780.8" r="2.7" fill="#000094" stroke="#3a3a32" stroke-width="0.8"/>
<circle cx="209.0" cy="775.8" r="2.7" fill="#000094" stroke="#3a3a32" stroke-width="0.8"/>
<circle cx="186.5" cy="771.7" r="2.7" fill="#000094" stroke="#3a3a32" stroke-width="0.8"/>
<circle cx="166.4" cy="770.8" r="2.7" fill="#000094" stroke="#3a3a32" stroke-width="0.8"/>
<circle cx="200.3" cy="779.1" r="2.7" fill="#000094" stroke="#3a3a32" stroke-width="0.8"/>
<circle cx="179.7" cy="778.0" r="2.7" fill="#000094" stroke="#3a3a32" stroke-width="0.8"/>
<circle cx="200.0" cy="776.7" r="2.7" fill="#000094" stroke="#3a3a32" stroke-width="0.8"/>
<circle cx="194.5" cy="777.6" r="2.7" fill="#000094" stroke="#3a3a32" stroke-width="0.8"/>
<circle cx="55.8" cy="779.0" r="2.7" fill="#000094" stroke="#3a3a32" stroke-width="0.8"/>
<circle cx="54.5" cy="776.9" r="2.7" fill="#000094" stroke="#3a3a32" stroke-width="0.8"/>
<circle cx="62.3" cy="778.9" r="2.7" fill="#000094" stroke="#3a3a32" stroke-width="0.8"/>
<circle cx="54.7" cy="781.5" r="2.7" fill="#000094" stroke="#3a3a32" stroke-width="0.8"/>
<circle cx="60.4" cy="777.8" r="2.7" fill="#000094" stroke="#3a3a32" stroke-width="0.8"/>
<circle cx="50.2" cy="777.5" r="2.7" fill="#000094" stroke="#3a3a32" stroke-width="0.8"/>
<circle cx="54.0" cy="778.7" r="2.7" fill="#000094" stroke="#3a3a32" stroke-width="0.8"/>
<circle cx="57.4" cy="780.2" r="2.7" fill="#000094" stroke="#3a3a32" stroke-width="0.8"/>
<circle cx="290.1" cy="778.4" r="2.7" fill="#000094" stroke="#3a3a32" stroke-width="0.8"/>
<circle cx="281.7" cy="776.4" r="2.7" fill="#000094" stroke="#3a3a32" stroke-width="0.8"/>
<circle cx="292.7" cy="778.8" r="2.7" fill="#000094" stroke="#3a3a32" stroke-width="0.8"/>
<circle cx="281.8" cy="779.0" r="2.7" fill="#000094" stroke="#3a3a32" stroke-width="0.8"/>
<circle cx="296.4" cy="776.9" r="2.7" fill="#000094" stroke="#3a3a32" stroke-width="0.8"/>
<circle cx="299.3" cy="780.4" r="2.7" fill="#000094" stroke="#3a3a32" stroke-width="0.8"/>
<circle cx="286.5" cy="774.9" r="2.7" fill="#000094" stroke="#3a3a32" stroke-width="0.8"/>
<circle cx="276.7" cy="778.9" r="2.7" fill="#000094" stroke="#3a3a32" stroke-width="0.8"/>
<circle cx="298.2" cy="774.2" r="2.7" fill="#000094" stroke="#3a3a32" stroke-width="0.8"/>
<circle cx="291.4" cy="777.4" r="2.7" fill="#000094" stroke="#3a3a32" stroke-width="0.8"/>
<circle cx="292.4" cy="770.2" r="2.7" fill="#000094" stroke="#3a3a32" stroke-width="0.8"/>
<circle cx="293.9" cy="775.6" r="2.7" fill="#000094" stroke="#3a3a32" stroke-width="0.8"/>
</g>
<circle cx="250.8" cy="689.2" r="2.7" fill="#80F53A" stroke="#3a3a32" stroke-width="0.8"/>
<circle cx="224.2" cy="748.1" r="2.7" fill="#80F53A" stroke="#3a3a32" stroke-width="0.8"/>
<circle cx="225.2" cy="760.0" r="2.7" fill="#A6D3F5" stroke="#3a3a32" stroke-width="0.8"/>
<circle cx="259.2" cy="627.3" r="2.7" fill="#E00000" stroke="#3a3a32" stroke-width="0.8"/>
<circle cx="261.2" cy="629.2" r="2.7" fill="#E00000" stroke="#3a3a32" stroke-width="0.8"/>
<circle cx="261.5" cy="633.5" r="2.7" fill="#E00000" stroke="#3a3a32" stroke-width="0.8"/>
<circle cx="257.7" cy="637.7" r="2.7" fill="#E00000" stroke="#3a3a32" stroke-width="0.8"/>
<circle cx="254.8" cy="638.8" r="2.7" fill="#E00000" stroke="#3a3a32" stroke-width="0.8"/>
<circle cx="251.9" cy="640.2" r="2.7" fill="#E00000" stroke="#3a3a32" stroke-width="0.8"/>
<circle cx="248.1" cy="639.6" r="2.7" fill="#E00000" stroke="#3a3a32" stroke-width="0.8"/>
<circle cx="245.2" cy="639.6" r="2.7" fill="#E00000" stroke="#3a3a32" stroke-width="0.8"/>
<circle cx="242.7" cy="640.2" r="2.7" fill="#E00000" stroke="#3a3a32" stroke-width="0.8"/>
<circle cx="264.4" cy="640.2" r="2.7" fill="#A6D3F5" stroke="#3a3a32" stroke-width="0.8"/>
<path d="M248.1,617.5 L251.2,620.6 L248.1,623.7 L245,620.6 Z" fill="#7B2FD8" stroke="#333" stroke-width="0.6"/>
<text x="252.00" y="615.80" font-size="12" text-anchor="middle" textLength="63.5" lengthAdjust="spacingAndGlyphs" >rs75853687</text>
<rect x="241.5" y="802.2" width="84.7" height="15.4" fill="#B4B4F6"/>
<line x1="151.70" y1="812.80" x2="275.40" y2="812.80" stroke="#4646B4" stroke-width="1.1" />
<circle cx="151.7" cy="812.8" r="1.5" fill="#1a1a8a"/>
<rect x="270.8" y="811.2" width="4.6" height="3.2" fill="#1a1a8a"/>
<line x1="186.00" y1="807.80" x2="190.80" y2="807.80" stroke="#000" stroke-width="0.8" />
<path d="M184.6,807.8 L187,806.6 L187,809 Z" fill="#000"/>
<text x="193.8" y="810" font-size="6.2" font-style="italic" textLength="43" lengthAdjust="spacingAndGlyphs">LOC101927766</text>
<line x1="336.90" y1="812.80" x2="410.20" y2="812.80" stroke="#4646B4" stroke-width="1.1" />
<circle cx="336.9" cy="812.8" r="1.4" fill="#1a1a8a"/>
<circle cx="410.2" cy="812.8" r="1.4" fill="#1a1a8a"/>
<text x="358.5" y="810" font-size="6.2" font-style="italic" textLength="24" lengthAdjust="spacingAndGlyphs">ADRA1B</text>
<line x1="384.60" y1="807.80" x2="390.30" y2="807.80" stroke="#000" stroke-width="0.8" />
<path d="M391.7,807.8 L389.3,806.6 L389.3,809 Z" fill="#000"/>
<rect x="49.1" y="571" width="397.6" height="220.50" fill="none" stroke="#000" stroke-width="2"/>
<rect x="52.9" y="574.4" width="35.60" height="78.10" fill="#fff" stroke="#8a8a8a" stroke-width="1"/>
<rect x="58" y="588.1" width="8.10" height="12.60" fill="#E00000" stroke="#222" stroke-width="0.7"/>
<rect x="58" y="600.7" width="8.10" height="11.70" fill="#EEA62F" stroke="#222" stroke-width="0.7"/>
<rect x="58" y="612.4" width="8.10" height="12.10" fill="#80F53A" stroke="#222" stroke-width="0.7"/>
<rect x="58" y="624.5" width="8.10" height="11.80" fill="#A6D3F5" stroke="#222" stroke-width="0.7"/>
<rect x="58" y="636.3" width="8.10" height="12.40" fill="#000094" stroke="#222" stroke-width="0.7"/>
<line x1="66.10" y1="600.70" x2="68.70" y2="600.70" stroke="#000" stroke-width="0.9" />
<text x="71.10" y="604.60" font-size="10.2" text-anchor="start" textLength="16.2" lengthAdjust="spacingAndGlyphs" >0.8</text>
<line x1="66.10" y1="612.40" x2="68.70" y2="612.40" stroke="#000" stroke-width="0.9" />
<text x="71.10" y="616.30" font-size="10.2" text-anchor="start" textLength="16.2" lengthAdjust="spacingAndGlyphs" >0.6</text>
<line x1="66.10" y1="624.50" x2="68.70" y2="624.50" stroke="#000" stroke-width="0.9" />
<text x="71.10" y="628.40" font-size="10.2" text-anchor="start" textLength="16.2" lengthAdjust="spacingAndGlyphs" >0.4</text>
<line x1="66.10" y1="636.30" x2="68.70" y2="636.30" stroke="#000" stroke-width="0.9" />
<text x="71.10" y="640.20" font-size="10.2" text-anchor="start" textLength="16.2" lengthAdjust="spacingAndGlyphs" >0.2</text>
<text x="67.00" y="586.50" font-size="9.5" text-anchor="start" >r</text>
<text x="71.10" y="582.70" font-size="7.4" text-anchor="start" >2</text>
<text x="12.30" y="566.40" font-size="17.5" text-anchor="start" font-weight="bold" stroke="#000" stroke-width="0.45">C</text>
<line x1="44.20" y1="781.90" x2="49.30" y2="781.90" stroke="#000" stroke-width="1.4" />
<text x="39.60" y="786.10" font-size="12.4" text-anchor="end" >0</text>
<line x1="44.20" y1="731.40" x2="49.30" y2="731.40" stroke="#000" stroke-width="1.4" />
<text x="39.60" y="735.60" font-size="12.4" text-anchor="end" >2</text>
<line x1="44.20" y1="680.90" x2="49.30" y2="680.90" stroke="#000" stroke-width="1.4" />
<text x="39.60" y="685.10" font-size="12.4" text-anchor="end" >4</text>
<line x1="44.20" y1="630.40" x2="49.30" y2="630.40" stroke="#000" stroke-width="1.4" />
<text x="39.60" y="634.60" font-size="12.4" text-anchor="end" >6</text>
<line x1="44.20" y1="579.90" x2="49.30" y2="579.90" stroke="#000" stroke-width="1.4" />
<text x="39.60" y="584.10" font-size="12.4" text-anchor="end" >8</text>
<line x1="446.70" y1="781.70" x2="451.60" y2="781.70" stroke="#000" stroke-width="1.4" />
<text x="455.80" y="786.00" font-size="12.7" text-anchor="start" >0</text>
<line x1="446.70" y1="741.40" x2="451.60" y2="741.40" stroke="#000" stroke-width="1.4" />
<text x="455.80" y="745.70" font-size="12.7" text-anchor="start" >20</text>
<line x1="446.70" y1="701.10" x2="451.60" y2="701.10" stroke="#000" stroke-width="1.4" />
<text x="455.80" y="705.40" font-size="12.7" text-anchor="start" >40</text>
<line x1="446.70" y1="660.80" x2="451.60" y2="660.80" stroke="#000" stroke-width="1.4" />
<text x="455.80" y="665.10" font-size="12.7" text-anchor="start" >60</text>
<line x1="446.70" y1="620.50" x2="451.60" y2="620.50" stroke="#000" stroke-width="1.4" />
<text x="455.80" y="624.80" font-size="12.7" text-anchor="start" >80</text>
<line x1="446.70" y1="580.20" x2="451.60" y2="580.20" stroke="#000" stroke-width="1.4" />
<text x="455.80" y="584.50" font-size="12.7" text-anchor="start" >100</text>
<text transform="translate(23.3,681.5) rotate(-90)" font-size="13.5" text-anchor="middle" stroke="#000" stroke-width="0.3" textLength="65.4" lengthAdjust="spacingAndGlyphs">-log<tspan font-size="10" dy="3">10</tspan><tspan dy="-3">(p-value)</tspan></text>
<text transform="translate(496.8,682) rotate(-90)" font-size="14.4" text-anchor="middle" textLength="134.5" lengthAdjust="spacingAndGlyphs" stroke="#000" stroke-width="0.35">Recombination rate (cM/Mb)</text>
<rect x="49.1" y="802.2" width="397.6" height="15.40" fill="none" stroke="#000" stroke-width="2"/>
<line x1="79.00" y1="817.60" x2="79.00" y2="821.80" stroke="#000" stroke-width="1.4" />
<text x="79.00" y="837.80" font-size="12" text-anchor="middle" >15.15</text>
<line x1="145.26" y1="817.60" x2="145.26" y2="821.80" stroke="#000" stroke-width="1.4" />
<text x="145.26" y="837.80" font-size="12" text-anchor="middle" >15.2</text>
<line x1="211.52" y1="817.60" x2="211.52" y2="821.80" stroke="#000" stroke-width="1.4" />
<text x="211.52" y="837.80" font-size="12" text-anchor="middle" >15.25</text>
<line x1="277.78" y1="817.60" x2="277.78" y2="821.80" stroke="#000" stroke-width="1.4" />
<text x="277.78" y="837.80" font-size="12" text-anchor="middle" >15.3</text>
<line x1="344.04" y1="817.60" x2="344.04" y2="821.80" stroke="#000" stroke-width="1.4" />
<text x="344.04" y="837.80" font-size="12" text-anchor="middle" >15.35</text>
<line x1="410.30" y1="817.60" x2="410.30" y2="821.80" stroke="#000" stroke-width="1.4" />
<text x="410.30" y="837.80" font-size="12" text-anchor="middle" >15.4</text>
<text x="247.40" y="858.80" font-size="14.6" text-anchor="middle" textLength="95.5" lengthAdjust="spacingAndGlyphs" stroke="#000" stroke-width="0.4">Position on ch5 (Mb)</text>
</svg></body></html>
